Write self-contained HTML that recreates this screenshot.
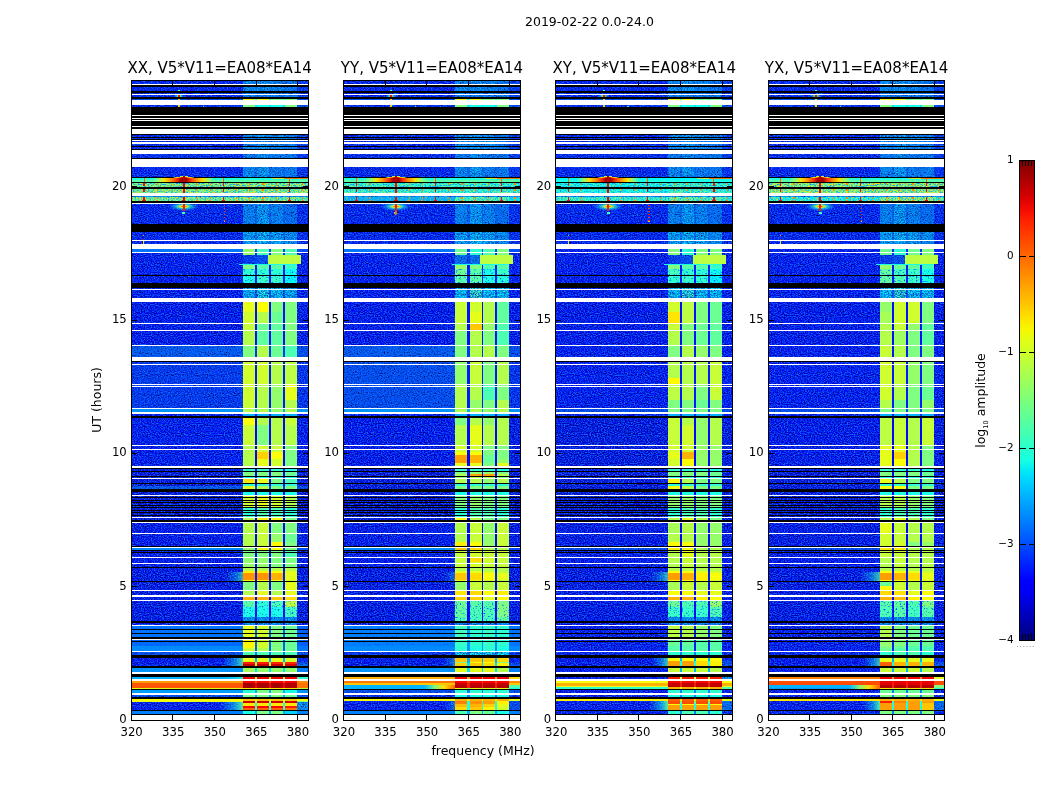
<!DOCTYPE html>
<html><head><meta charset="utf-8"><title>2019-02-22 0.0-24.0</title>
<style>
html,body{margin:0;padding:0;background:#fff;}
body{width:1050px;height:800px;overflow:hidden;}
svg{display:block;}
text{font-family:"DejaVu Sans","Liberation Sans",sans-serif;fill:#000;}
.t12{font-size:12.5px;}
.t14{font-size:15px;}
.t10{font-size:10.4px;}
.tk{font-size:11.7px;}
</style></head><body>
<svg width="1050" height="800" viewBox="0 0 1050 800">
<defs>
<linearGradient id="cb" x1="0" y1="1" x2="0" y2="0">
<stop offset="0.0000" stop-color="#000080"/>
<stop offset="0.0250" stop-color="#00009c"/>
<stop offset="0.0500" stop-color="#0000b9"/>
<stop offset="0.0750" stop-color="#0000d6"/>
<stop offset="0.1000" stop-color="#0000f3"/>
<stop offset="0.1250" stop-color="#0000ff"/>
<stop offset="0.1500" stop-color="#0019ff"/>
<stop offset="0.1750" stop-color="#0033ff"/>
<stop offset="0.2000" stop-color="#004dff"/>
<stop offset="0.2250" stop-color="#0066ff"/>
<stop offset="0.2500" stop-color="#0080ff"/>
<stop offset="0.2750" stop-color="#0099ff"/>
<stop offset="0.3000" stop-color="#00b2ff"/>
<stop offset="0.3250" stop-color="#00ccff"/>
<stop offset="0.3500" stop-color="#00e5f7"/>
<stop offset="0.3750" stop-color="#15ffe2"/>
<stop offset="0.4000" stop-color="#29ffce"/>
<stop offset="0.4250" stop-color="#3effb9"/>
<stop offset="0.4500" stop-color="#52ffa5"/>
<stop offset="0.4750" stop-color="#67ff90"/>
<stop offset="0.5000" stop-color="#7bff7b"/>
<stop offset="0.5250" stop-color="#90ff67"/>
<stop offset="0.5500" stop-color="#a5ff52"/>
<stop offset="0.5750" stop-color="#b9ff3e"/>
<stop offset="0.6000" stop-color="#ceff29"/>
<stop offset="0.6250" stop-color="#e2ff15"/>
<stop offset="0.6500" stop-color="#f7f600"/>
<stop offset="0.6750" stop-color="#ffde00"/>
<stop offset="0.7000" stop-color="#ffc600"/>
<stop offset="0.7250" stop-color="#ffaf00"/>
<stop offset="0.7500" stop-color="#ff9700"/>
<stop offset="0.7750" stop-color="#ff8000"/>
<stop offset="0.8000" stop-color="#ff6800"/>
<stop offset="0.8250" stop-color="#ff5000"/>
<stop offset="0.8500" stop-color="#ff3900"/>
<stop offset="0.8750" stop-color="#ff2100"/>
<stop offset="0.9000" stop-color="#f30900"/>
<stop offset="0.9250" stop-color="#d60000"/>
<stop offset="0.9500" stop-color="#b90000"/>
<stop offset="0.9750" stop-color="#9c0000"/>
<stop offset="1.0000" stop-color="#800000"/>
</linearGradient>

<filter id="nzd" x="0" y="0" width="100%" height="100%" color-interpolation-filters="sRGB">
<feTurbulence type="fractalNoise" baseFrequency="0.7 0.9" numOctaves="1" seed="7"/>
<feColorMatrix type="matrix" values="0 0 0 0 0  0 0 0 0 0  0 0 0 0 0.3  2.8 0 0 0 -1.25"/>
</filter>
<filter id="nzl" x="0" y="0" width="100%" height="100%" color-interpolation-filters="sRGB">
<feTurbulence type="fractalNoise" baseFrequency="0.7 0.9" numOctaves="1" seed="23"/>
<feColorMatrix type="matrix" values="0 0 0 0 0.05  0 0 0 0 0.42  0 0 0 0 1  0 3.0 0 0 -1.2"/>
</filter>
<filter id="nzy" x="0" y="0" width="100%" height="100%" color-interpolation-filters="sRGB">
<feTurbulence type="fractalNoise" baseFrequency="0.6 0.9" numOctaves="1" seed="41"/>
<feColorMatrix type="matrix" values="0 0 0 0 1  0 0 0 0 0.85  0 0 0 0 0  0 0 6 0 -2.9"/>
</filter>
<filter id="nzm" x="0" y="0" width="100%" height="100%" color-interpolation-filters="sRGB">
<feTurbulence type="fractalNoise" baseFrequency="0.5 0.75" numOctaves="2" seed="11"/>
<feColorMatrix type="matrix" values="0 0 0 0 0  0 0 0 0 0.3  0 0 0 0 1  4 0 0 0 -2.3"/>
</filter>
<linearGradient id="hz" x1="0" y1="0" x2="1" y2="0">
<stop offset="0" stop-color="#19ffe6" stop-opacity="0"/><stop offset="0.6" stop-color="#19ffe6" stop-opacity="0.45"/><stop offset="1" stop-color="#60ff9f" stop-opacity="0.9"/>
</linearGradient>
<filter id="nzc" x="0" y="0" width="100%" height="100%" color-interpolation-filters="sRGB">
<feTurbulence type="fractalNoise" baseFrequency="0.6 0.9" numOctaves="1" seed="5"/>
<feColorMatrix type="matrix" values="0 0 0 0 0  0 0 0 0 0.62  0 0 0 0 1  3.4 0 0 0 -1.5"/>
</filter>
<linearGradient id="ho" x1="0" y1="0" x2="1" y2="0">
<stop offset="0" stop-color="#60ffa0" stop-opacity="0"/><stop offset="0.35" stop-color="#a0ff60" stop-opacity="0.85"/><stop offset="0.65" stop-color="#ffe000"/><stop offset="1" stop-color="#ff6000"/>
</linearGradient>
<linearGradient id="hs" x1="0" y1="0" x2="1" y2="0">
<stop offset="0" stop-color="#80ff80" stop-opacity="0"/><stop offset="0.1" stop-color="#b0ff50" stop-opacity="0.7"/><stop offset="0.2" stop-color="#ffe000"/><stop offset="0.3" stop-color="#ff9000"/><stop offset="0.39" stop-color="#ff3000"/><stop offset="0.46" stop-color="#9c0000"/><stop offset="0.54" stop-color="#9c0000"/><stop offset="0.61" stop-color="#ff3000"/><stop offset="0.7" stop-color="#ff9000"/><stop offset="0.8" stop-color="#ffe000"/><stop offset="0.9" stop-color="#b0ff50" stop-opacity="0.7"/><stop offset="1" stop-color="#80ff80" stop-opacity="0"/>
</linearGradient>
<radialGradient id="hr" cx="0.5" cy="0.5" r="0.5">
<stop offset="0" stop-color="#e00000"/><stop offset="0.12" stop-color="#ff8000"/><stop offset="0.25" stop-color="#d0ff30" stop-opacity="0.95"/><stop offset="0.5" stop-color="#20f0e0" stop-opacity="0.7"/><stop offset="1" stop-color="#20a0ff" stop-opacity="0"/>
</radialGradient>

</defs>
<rect width="1050" height="800" fill="#fff"/>
<g shape-rendering="crispEdges">
<rect x="131.25" y="80" width="176.9" height="11" fill="#000fff"/>
<rect x="297.1" y="80" width="11.05" height="11" fill="#002eff"/>
<rect x="243.1" y="80" width="12" height="11" fill="#00b2ff"/>
<rect x="255.1" y="80" width="2.15" height="11" fill="#0094ff"/>
<rect x="257.25" y="80" width="12" height="11" fill="#00b2ff"/>
<rect x="269.25" y="80" width="1.85" height="11" fill="#0094ff"/>
<rect x="271.1" y="80" width="11.9" height="11" fill="#009eff"/>
<rect x="283" y="80" width="2.1" height="11" fill="#0094ff"/>
<rect x="285.1" y="80" width="12" height="11" fill="#008aff"/>
<rect x="131.25" y="91" width="176.9" height="8" fill="#000fff"/>
<rect x="297.1" y="91" width="11.05" height="8" fill="#002eff"/>
<rect x="243.1" y="91" width="12" height="8" fill="#0094ff"/>
<rect x="255.1" y="91" width="2.15" height="8" fill="#0080ff"/>
<rect x="257.25" y="91" width="12" height="8" fill="#0094ff"/>
<rect x="269.25" y="91" width="1.85" height="8" fill="#0080ff"/>
<rect x="271.1" y="91" width="11.9" height="8" fill="#0094ff"/>
<rect x="283" y="91" width="2.1" height="8" fill="#0080ff"/>
<rect x="285.1" y="91" width="12" height="8" fill="#0094ff"/>
<rect x="131.25" y="99" width="176.9" height="1" fill="#004dff"/>
<rect x="297.1" y="99" width="11.05" height="1" fill="#004dff"/>
<rect x="131.25" y="100" width="176.9" height="7" fill="#001aff"/>
<rect x="297.1" y="100" width="11.05" height="7" fill="#004dff"/>
<rect x="131.25" y="107" width="176.9" height="28" fill="#0005ff"/>
<rect x="297.1" y="107" width="11.05" height="28" fill="#0005ff"/>
<rect x="243.1" y="107" width="12" height="28" fill="#0019ff"/>
<rect x="255.1" y="107" width="2.15" height="28" fill="#0019ff"/>
<rect x="257.25" y="107" width="12" height="28" fill="#0019ff"/>
<rect x="269.25" y="107" width="1.85" height="28" fill="#0019ff"/>
<rect x="271.1" y="107" width="11.9" height="28" fill="#0019ff"/>
<rect x="283" y="107" width="2.1" height="28" fill="#0019ff"/>
<rect x="285.1" y="107" width="12" height="28" fill="#0019ff"/>
<rect x="131.25" y="135" width="176.9" height="14" fill="#000fff"/>
<rect x="297.1" y="135" width="11.05" height="14" fill="#002eff"/>
<rect x="243.1" y="135" width="12" height="14" fill="#00a8ff"/>
<rect x="255.1" y="135" width="2.15" height="14" fill="#0094ff"/>
<rect x="257.25" y="135" width="12" height="14" fill="#00bdff"/>
<rect x="269.25" y="135" width="1.85" height="14" fill="#0094ff"/>
<rect x="271.1" y="135" width="11.9" height="14" fill="#00a8ff"/>
<rect x="283" y="135" width="2.1" height="14" fill="#0094ff"/>
<rect x="285.1" y="135" width="12" height="14" fill="#0094ff"/>
<rect x="131.25" y="149" width="176.9" height="1" fill="#004dff"/>
<rect x="297.1" y="149" width="11.05" height="1" fill="#004dff"/>
<rect x="131.25" y="150" width="176.9" height="8" fill="#001aff"/>
<rect x="297.1" y="150" width="11.05" height="8" fill="#002eff"/>
<rect x="243.1" y="150" width="12" height="8" fill="#0094ff"/>
<rect x="255.1" y="150" width="2.15" height="8" fill="#0094ff"/>
<rect x="257.25" y="150" width="12" height="8" fill="#00b2ff"/>
<rect x="269.25" y="150" width="1.85" height="8" fill="#0094ff"/>
<rect x="271.1" y="150" width="11.9" height="8" fill="#0094ff"/>
<rect x="283" y="150" width="2.1" height="8" fill="#0094ff"/>
<rect x="285.1" y="150" width="12" height="8" fill="#0094ff"/>
<rect x="131.25" y="158" width="176.9" height="1.2" fill="#004dff"/>
<rect x="297.1" y="158" width="11.05" height="1.2" fill="#004dff"/>
<rect x="131.25" y="159.2" width="176.9" height="17.8" fill="#000fff"/>
<rect x="297.1" y="159.2" width="11.05" height="17.8" fill="#0024ff"/>
<rect x="243.1" y="159.2" width="12" height="17.8" fill="#00a8ff"/>
<rect x="255.1" y="159.2" width="2.15" height="17.8" fill="#0075ff"/>
<rect x="257.25" y="159.2" width="12" height="17.8" fill="#00bdff"/>
<rect x="269.25" y="159.2" width="1.85" height="17.8" fill="#0075ff"/>
<rect x="271.1" y="159.2" width="11.9" height="17.8" fill="#0094ff"/>
<rect x="283" y="159.2" width="2.1" height="17.8" fill="#0075ff"/>
<rect x="285.1" y="159.2" width="12" height="17.8" fill="#0094ff"/>
<rect x="131.25" y="192.5" width="176.9" height="4.8" fill="#00b2ff"/>
<rect x="297.1" y="192.5" width="11.05" height="4.8" fill="#00b2ff"/>
<rect x="243.1" y="192.5" width="12" height="4.8" fill="#00b2ff"/>
<rect x="255.1" y="192.5" width="2.15" height="4.8" fill="#00b2ff"/>
<rect x="257.25" y="192.5" width="12" height="4.8" fill="#00b2ff"/>
<rect x="269.25" y="192.5" width="1.85" height="4.8" fill="#00b2ff"/>
<rect x="271.1" y="192.5" width="11.9" height="4.8" fill="#00b2ff"/>
<rect x="283" y="192.5" width="2.1" height="4.8" fill="#00b2ff"/>
<rect x="285.1" y="192.5" width="12" height="4.8" fill="#00b2ff"/>
<rect x="131.25" y="202" width="176.9" height="2.2" fill="#004dff"/>
<rect x="297.1" y="202" width="11.05" height="2.2" fill="#004dff"/>
<rect x="243.1" y="202" width="12" height="2.2" fill="#004dff"/>
<rect x="255.1" y="202" width="2.15" height="2.2" fill="#004dff"/>
<rect x="257.25" y="202" width="12" height="2.2" fill="#004dff"/>
<rect x="269.25" y="202" width="1.85" height="2.2" fill="#004dff"/>
<rect x="271.1" y="202" width="11.9" height="2.2" fill="#004dff"/>
<rect x="283" y="202" width="2.1" height="2.2" fill="#004dff"/>
<rect x="285.1" y="202" width="12" height="2.2" fill="#004dff"/>
<rect x="131.25" y="204.2" width="176.9" height="27.8" fill="#000fff"/>
<rect x="297.1" y="204.2" width="11.05" height="27.8" fill="#001aff"/>
<rect x="243.1" y="204.2" width="12" height="27.8" fill="#009eff"/>
<rect x="255.1" y="204.2" width="2.15" height="27.8" fill="#006bff"/>
<rect x="257.25" y="204.2" width="12" height="27.8" fill="#00bdff"/>
<rect x="269.25" y="204.2" width="1.85" height="27.8" fill="#006bff"/>
<rect x="271.1" y="204.2" width="11.9" height="27.8" fill="#009eff"/>
<rect x="283" y="204.2" width="2.1" height="27.8" fill="#006bff"/>
<rect x="285.1" y="204.2" width="12" height="27.8" fill="#0080ff"/>
<rect x="131.25" y="232" width="176.9" height="11.5" fill="#000fff"/>
<rect x="297.1" y="232" width="11.05" height="11.5" fill="#001aff"/>
<rect x="243.1" y="232" width="12" height="11.5" fill="#00c7ff"/>
<rect x="255.1" y="232" width="2.15" height="11.5" fill="#0080ff"/>
<rect x="257.25" y="232" width="12" height="11.5" fill="#00dbff"/>
<rect x="269.25" y="232" width="1.85" height="11.5" fill="#0080ff"/>
<rect x="271.1" y="232" width="11.9" height="11.5" fill="#00c7ff"/>
<rect x="283" y="232" width="2.1" height="11.5" fill="#0080ff"/>
<rect x="285.1" y="232" width="12" height="11.5" fill="#00b2ff"/>
<rect x="131.25" y="243.5" width="176.9" height="5.5" fill="#0005ff"/>
<rect x="297.1" y="243.5" width="11.05" height="5.5" fill="#0005ff"/>
<rect x="131.25" y="252.5" width="176.9" height="2.5" fill="#0005ff"/>
<rect x="297.1" y="252.5" width="11.05" height="2.5" fill="#0005ff"/>
<rect x="131.25" y="255" width="176.9" height="9" fill="#0005ff"/>
<rect x="297.1" y="255" width="11.05" height="9" fill="#0005ff"/>
<rect x="243.1" y="255" width="12" height="9" fill="#002eff"/>
<rect x="255.1" y="255" width="2.15" height="9" fill="#0038ff"/>
<rect x="257.25" y="255" width="12" height="9" fill="#004dff"/>
<rect x="269.25" y="255" width="1.85" height="9" fill="#0038ff"/>
<rect x="271.1" y="255" width="11.9" height="9" fill="#004dff"/>
<rect x="283" y="255" width="2.1" height="9" fill="#0038ff"/>
<rect x="285.1" y="255" width="12" height="9" fill="#004dff"/>
<rect x="131.25" y="264" width="176.9" height="1" fill="#0005ff"/>
<rect x="297.1" y="264" width="11.05" height="1" fill="#0005ff"/>
<rect x="243.1" y="264" width="12" height="1" fill="#1affe5"/>
<rect x="255.1" y="264" width="2.15" height="1" fill="#1affe5"/>
<rect x="257.25" y="264" width="12" height="1" fill="#1affe5"/>
<rect x="269.25" y="264" width="1.85" height="1" fill="#1affe5"/>
<rect x="271.1" y="264" width="11.9" height="1" fill="#1affe5"/>
<rect x="283" y="264" width="2.1" height="1" fill="#1affe5"/>
<rect x="285.1" y="264" width="12" height="1" fill="#1affe5"/>
<rect x="131.25" y="265" width="176.9" height="4" fill="#0005ff"/>
<rect x="297.1" y="265" width="11.05" height="4" fill="#0005ff"/>
<rect x="131.25" y="269" width="176.9" height="6.5" fill="#0005ff"/>
<rect x="297.1" y="269" width="11.05" height="6.5" fill="#0005ff"/>
<rect x="131.25" y="275.5" width="176.9" height="12.5" fill="#0005ff"/>
<rect x="297.1" y="275.5" width="11.05" height="12.5" fill="#0005ff"/>
<rect x="131.25" y="288" width="176.9" height="12" fill="#0005ff"/>
<rect x="297.1" y="288" width="11.05" height="12" fill="#0005ff"/>
<rect x="243.1" y="288" width="12" height="12" fill="#00dbff"/>
<rect x="255.1" y="288" width="2.15" height="12" fill="#004dff"/>
<rect x="257.25" y="288" width="12" height="12" fill="#1affe5"/>
<rect x="269.25" y="288" width="1.85" height="12" fill="#004dff"/>
<rect x="271.1" y="288" width="11.9" height="12" fill="#00f0ff"/>
<rect x="283" y="288" width="2.1" height="12" fill="#004dff"/>
<rect x="285.1" y="288" width="12" height="12" fill="#00d1ff"/>
<rect x="131.25" y="300" width="176.9" height="12" fill="#0000fa"/>
<rect x="297.1" y="300" width="11.05" height="12" fill="#0000fa"/>
<rect x="131.25" y="312" width="176.9" height="11.5" fill="#0000fa"/>
<rect x="297.1" y="312" width="11.05" height="11.5" fill="#0000fa"/>
<rect x="131.25" y="323.5" width="176.9" height="7" fill="#0000fa"/>
<rect x="297.1" y="323.5" width="11.05" height="7" fill="#0000fa"/>
<rect x="131.25" y="330.5" width="176.9" height="15" fill="#0000fa"/>
<rect x="297.1" y="330.5" width="11.05" height="15" fill="#0000fa"/>
<rect x="131.25" y="345.5" width="176.9" height="13.5" fill="#0061ff"/>
<rect x="297.1" y="345.5" width="11.05" height="13.5" fill="#004dff"/>
<rect x="131.25" y="359" width="176.9" height="5.5" fill="#002eff"/>
<rect x="297.1" y="359" width="11.05" height="5.5" fill="#0024ff"/>
<rect x="131.25" y="364.5" width="176.9" height="20.5" fill="#002eff"/>
<rect x="297.1" y="364.5" width="11.05" height="20.5" fill="#0024ff"/>
<rect x="131.25" y="385" width="176.9" height="15" fill="#002eff"/>
<rect x="297.1" y="385" width="11.05" height="15" fill="#0024ff"/>
<rect x="131.25" y="400" width="176.9" height="8.5" fill="#002eff"/>
<rect x="297.1" y="400" width="11.05" height="8.5" fill="#0024ff"/>
<rect x="131.25" y="413" width="176.9" height="4.5" fill="#0005ff"/>
<rect x="297.1" y="413" width="11.05" height="4.5" fill="#0005ff"/>
<rect x="131.25" y="417.5" width="176.9" height="7.5" fill="#0005ff"/>
<rect x="297.1" y="417.5" width="11.05" height="7.5" fill="#0000fa"/>
<rect x="131.25" y="425" width="176.9" height="20.5" fill="#0005ff"/>
<rect x="297.1" y="425" width="11.05" height="20.5" fill="#0000fa"/>
<rect x="131.25" y="445.5" width="176.9" height="6.5" fill="#0005ff"/>
<rect x="297.1" y="445.5" width="11.05" height="6.5" fill="#0000fa"/>
<rect x="131.25" y="452" width="176.9" height="7" fill="#0005ff"/>
<rect x="297.1" y="452" width="11.05" height="7" fill="#0000fa"/>
<rect x="131.25" y="459" width="176.9" height="8" fill="#0005ff"/>
<rect x="297.1" y="459" width="11.05" height="8" fill="#0000fa"/>
<rect x="131.25" y="467" width="176.9" height="4.5" fill="#0000e5"/>
<rect x="297.1" y="467" width="11.05" height="4.5" fill="#0000e5"/>
<rect x="131.25" y="471.5" width="176.9" height="4.5" fill="#0000e5"/>
<rect x="297.1" y="471.5" width="11.05" height="4.5" fill="#0000e5"/>
<rect x="131.25" y="476" width="176.9" height="2.5" fill="#0000e5"/>
<rect x="297.1" y="476" width="11.05" height="2.5" fill="#0000e5"/>
<rect x="131.25" y="478.5" width="176.9" height="5" fill="#0000e5"/>
<rect x="297.1" y="478.5" width="11.05" height="5" fill="#0000e5"/>
<rect x="131.25" y="483.5" width="176.9" height="2.5" fill="#0000e5"/>
<rect x="297.1" y="483.5" width="11.05" height="2.5" fill="#0000e5"/>
<rect x="131.25" y="486" width="176.9" height="2.5" fill="#0061ff"/>
<rect x="297.1" y="486" width="11.05" height="2.5" fill="#004dff"/>
<rect x="131.25" y="488.5" width="176.9" height="7.5" fill="#0000e5"/>
<rect x="297.1" y="488.5" width="11.05" height="7.5" fill="#0000e5"/>
<rect x="131.25" y="496" width="176.9" height="11" fill="#0000db"/>
<rect x="297.1" y="496" width="11.05" height="11" fill="#0000db"/>
<rect x="131.25" y="507" width="176.9" height="10.5" fill="#0000db"/>
<rect x="297.1" y="507" width="11.05" height="10.5" fill="#0000db"/>
<rect x="131.25" y="517.5" width="176.9" height="5" fill="#0000e5"/>
<rect x="297.1" y="517.5" width="11.05" height="5" fill="#0000e5"/>
<rect x="131.25" y="522.5" width="176.9" height="11" fill="#0000fa"/>
<rect x="297.1" y="522.5" width="11.05" height="11" fill="#0000f0"/>
<rect x="131.25" y="533.5" width="176.9" height="8.1" fill="#0000fa"/>
<rect x="297.1" y="533.5" width="11.05" height="8.1" fill="#0000f0"/>
<rect x="131.25" y="541.6" width="176.9" height="5.4" fill="#0000fa"/>
<rect x="297.1" y="541.6" width="11.05" height="5.4" fill="#0000f0"/>
<rect x="131.25" y="550.5" width="176.9" height="6.5" fill="#0000fa"/>
<rect x="297.1" y="550.5" width="11.05" height="6.5" fill="#0000f0"/>
<rect x="131.25" y="557" width="176.9" height="11" fill="#0000fa"/>
<rect x="297.1" y="557" width="11.05" height="11" fill="#0000f0"/>
<rect x="131.25" y="568" width="176.9" height="3" fill="#0000f0"/>
<rect x="297.1" y="568" width="11.05" height="3" fill="#0000f0"/>
<rect x="131.25" y="571" width="176.9" height="2" fill="#0000f0"/>
<rect x="297.1" y="571" width="11.05" height="2" fill="#0000f0"/>
<rect x="131.25" y="573" width="176.9" height="6.5" fill="#0000f0"/>
<rect x="297.1" y="573" width="11.05" height="6.5" fill="#0000f0"/>
<rect x="131.25" y="579.5" width="176.9" height="1.5" fill="#0000f0"/>
<rect x="297.1" y="579.5" width="11.05" height="1.5" fill="#0000f0"/>
<rect x="131.25" y="581" width="176.9" height="9.5" fill="#0000f0"/>
<rect x="297.1" y="581" width="11.05" height="9.5" fill="#0000f0"/>
<rect x="131.25" y="590.5" width="176.9" height="5" fill="#0000f0"/>
<rect x="297.1" y="590.5" width="11.05" height="5" fill="#0000f0"/>
<rect x="131.25" y="595.5" width="176.9" height="5" fill="#0000f0"/>
<rect x="297.1" y="595.5" width="11.05" height="5" fill="#0000f0"/>
<rect x="131.25" y="600.5" width="176.9" height="6.5" fill="#0000f0"/>
<rect x="297.1" y="600.5" width="11.05" height="6.5" fill="#0000f0"/>
<rect x="131.25" y="607" width="176.9" height="10" fill="#0000f0"/>
<rect x="297.1" y="607" width="11.05" height="10" fill="#0000f0"/>
<rect x="131.25" y="617" width="176.9" height="4" fill="#0000f0"/>
<rect x="297.1" y="617" width="11.05" height="4" fill="#0000f0"/>
<rect x="243.1" y="617" width="12" height="4" fill="#00b2ff"/>
<rect x="255.1" y="617" width="2.15" height="4" fill="#0019ff"/>
<rect x="257.25" y="617" width="12" height="4" fill="#00b2ff"/>
<rect x="269.25" y="617" width="1.85" height="4" fill="#0019ff"/>
<rect x="271.1" y="617" width="11.9" height="4" fill="#00b2ff"/>
<rect x="283" y="617" width="2.1" height="4" fill="#0019ff"/>
<rect x="285.1" y="617" width="12" height="4" fill="#00b2ff"/>
<rect x="131.25" y="621" width="176.9" height="4.5" fill="#0000fa"/>
<rect x="297.1" y="621" width="11.05" height="4.5" fill="#0000fa"/>
<rect x="243.1" y="621" width="12" height="4.5" fill="#00b2ff"/>
<rect x="255.1" y="621" width="2.15" height="4.5" fill="#000fff"/>
<rect x="257.25" y="621" width="12" height="4.5" fill="#00b2ff"/>
<rect x="269.25" y="621" width="1.85" height="4.5" fill="#000fff"/>
<rect x="271.1" y="621" width="11.9" height="4.5" fill="#00b2ff"/>
<rect x="283" y="621" width="2.1" height="4.5" fill="#000fff"/>
<rect x="285.1" y="621" width="12" height="4.5" fill="#00b2ff"/>
<rect x="131.25" y="652" width="176.9" height="3" fill="#004dff"/>
<rect x="297.1" y="652" width="11.05" height="3" fill="#004dff"/>
<rect x="131.25" y="655" width="176.9" height="3" fill="#0000fa"/>
<rect x="297.1" y="655" width="11.05" height="3" fill="#000fff"/>
<rect x="131.25" y="658" width="176.9" height="4.3" fill="#0000fa"/>
<rect x="297.1" y="658" width="11.05" height="4.3" fill="#000fff"/>
<rect x="131.25" y="662.3" width="176.9" height="1.7" fill="#0000fa"/>
<rect x="297.1" y="662.3" width="11.05" height="1.7" fill="#004dff"/>
<rect x="131.25" y="664" width="176.9" height="2" fill="#0000fa"/>
<rect x="297.1" y="664" width="11.05" height="2" fill="#0080ff"/>
<rect x="131.25" y="692.6" width="176.9" height="6" fill="#004dff"/>
<rect x="297.1" y="692.6" width="11.05" height="6" fill="#004dff"/>
<rect x="131.25" y="701.7" width="176.9" height="1.3" fill="#0005ff"/>
<rect x="297.1" y="701.7" width="11.05" height="1.3" fill="#00b2ff"/>
<rect x="131.25" y="703" width="176.9" height="2.6" fill="#0005ff"/>
<rect x="297.1" y="703" width="11.05" height="2.6" fill="#00b2ff"/>
<rect x="131.25" y="705.6" width="176.9" height="2.4" fill="#0005ff"/>
<rect x="297.1" y="705.6" width="11.05" height="2.4" fill="#00b2ff"/>
<rect x="131.25" y="708" width="176.9" height="1.7" fill="#0005ff"/>
<rect x="297.1" y="708" width="11.05" height="1.7" fill="#00b2ff"/>
<rect x="131.25" y="80" width="176.90" height="640" fill="none" filter="url(#nzd)"/>
<rect x="131.25" y="80" width="176.90" height="640" fill="none" filter="url(#nzl)"/>
<rect x="243.1" y="99" width="12" height="1" fill="#fffa00"/>
<rect x="255.1" y="99" width="2.15" height="1" fill="#1affe5"/>
<rect x="257.25" y="99" width="12" height="1" fill="#faff05"/>
<rect x="269.25" y="99" width="1.85" height="1" fill="#1affe5"/>
<rect x="271.1" y="99" width="11.9" height="1" fill="#80ff80"/>
<rect x="283" y="99" width="2.1" height="1" fill="#1affe5"/>
<rect x="285.1" y="99" width="12" height="1" fill="#80ff80"/>
<rect x="243.1" y="100" width="12" height="7" fill="#80ff80"/>
<rect x="255.1" y="100" width="2.15" height="7" fill="#00e5ff"/>
<rect x="257.25" y="100" width="12" height="7" fill="#1affe5"/>
<rect x="269.25" y="100" width="1.85" height="7" fill="#00e5ff"/>
<rect x="271.1" y="100" width="11.9" height="7" fill="#1affe5"/>
<rect x="283" y="100" width="2.1" height="7" fill="#00e5ff"/>
<rect x="285.1" y="100" width="12" height="7" fill="#80ff80"/>
<rect x="243.1" y="149" width="12" height="1" fill="#e5ff1a"/>
<rect x="255.1" y="149" width="2.15" height="1" fill="#1affe5"/>
<rect x="257.25" y="149" width="12" height="1" fill="#e5ff1a"/>
<rect x="269.25" y="149" width="1.85" height="1" fill="#1affe5"/>
<rect x="271.1" y="149" width="11.9" height="1" fill="#4dffb2"/>
<rect x="283" y="149" width="2.1" height="1" fill="#1affe5"/>
<rect x="285.1" y="149" width="12" height="1" fill="#4dffb2"/>
<rect x="243.1" y="158" width="12" height="1.2" fill="#80ff80"/>
<rect x="255.1" y="158" width="2.15" height="1.2" fill="#1affe5"/>
<rect x="257.25" y="158" width="12" height="1.2" fill="#4dffb2"/>
<rect x="269.25" y="158" width="1.85" height="1.2" fill="#1affe5"/>
<rect x="271.1" y="158" width="11.9" height="1.2" fill="#4dffb2"/>
<rect x="283" y="158" width="2.1" height="1.2" fill="#1affe5"/>
<rect x="285.1" y="158" width="12" height="1.2" fill="#4dffb2"/>
<rect x="131.25" y="177" width="176.9" height="3" fill="#24ffdb"/>
<rect x="297.1" y="177" width="11.05" height="3" fill="#24ffdb"/>
<rect x="243.1" y="177" width="12" height="3" fill="#24ffdb"/>
<rect x="255.1" y="177" width="2.15" height="3" fill="#24ffdb"/>
<rect x="257.25" y="177" width="12" height="3" fill="#24ffdb"/>
<rect x="269.25" y="177" width="1.85" height="3" fill="#24ffdb"/>
<rect x="271.1" y="177" width="11.9" height="3" fill="#24ffdb"/>
<rect x="283" y="177" width="2.1" height="3" fill="#24ffdb"/>
<rect x="285.1" y="177" width="12" height="3" fill="#24ffdb"/>
<rect x="131.25" y="180" width="176.9" height="2" fill="#57ffa8"/>
<rect x="297.1" y="180" width="11.05" height="2" fill="#57ffa8"/>
<rect x="243.1" y="180" width="12" height="2" fill="#57ffa8"/>
<rect x="255.1" y="180" width="2.15" height="2" fill="#57ffa8"/>
<rect x="257.25" y="180" width="12" height="2" fill="#57ffa8"/>
<rect x="269.25" y="180" width="1.85" height="2" fill="#57ffa8"/>
<rect x="271.1" y="180" width="11.9" height="2" fill="#57ffa8"/>
<rect x="283" y="180" width="2.1" height="2" fill="#57ffa8"/>
<rect x="285.1" y="180" width="12" height="2" fill="#57ffa8"/>
<rect x="131.25" y="182" width="176.9" height="10.5" fill="#75ff8a"/>
<rect x="297.1" y="182" width="11.05" height="10.5" fill="#75ff8a"/>
<rect x="243.1" y="182" width="12" height="10.5" fill="#75ff8a"/>
<rect x="255.1" y="182" width="2.15" height="10.5" fill="#75ff8a"/>
<rect x="257.25" y="182" width="12" height="10.5" fill="#75ff8a"/>
<rect x="269.25" y="182" width="1.85" height="10.5" fill="#75ff8a"/>
<rect x="271.1" y="182" width="11.9" height="10.5" fill="#75ff8a"/>
<rect x="283" y="182" width="2.1" height="10.5" fill="#75ff8a"/>
<rect x="285.1" y="182" width="12" height="10.5" fill="#75ff8a"/>
<rect x="131.25" y="197.3" width="176.9" height="4.7" fill="#6bff94"/>
<rect x="297.1" y="197.3" width="11.05" height="4.7" fill="#57ffa8"/>
<rect x="243.1" y="197.3" width="12" height="4.7" fill="#80ff80"/>
<rect x="255.1" y="197.3" width="2.15" height="4.7" fill="#6bff94"/>
<rect x="257.25" y="197.3" width="12" height="4.7" fill="#80ff80"/>
<rect x="269.25" y="197.3" width="1.85" height="4.7" fill="#6bff94"/>
<rect x="271.1" y="197.3" width="11.9" height="4.7" fill="#6bff94"/>
<rect x="283" y="197.3" width="2.1" height="4.7" fill="#6bff94"/>
<rect x="285.1" y="197.3" width="12" height="4.7" fill="#6bff94"/>
<rect x="243.1" y="243.5" width="12" height="5.5" fill="#94ff6b"/>
<rect x="255.1" y="243.5" width="2.15" height="5.5" fill="#002eff"/>
<rect x="257.25" y="243.5" width="12" height="5.5" fill="#4dffb2"/>
<rect x="269.25" y="243.5" width="1.85" height="5.5" fill="#002eff"/>
<rect x="271.1" y="243.5" width="11.9" height="5.5" fill="#80ff80"/>
<rect x="283" y="243.5" width="2.1" height="5.5" fill="#002eff"/>
<rect x="285.1" y="243.5" width="12" height="5.5" fill="#4dffb2"/>
<rect x="131.25" y="249" width="176.9" height="3.5" fill="#0075ff"/>
<rect x="297.1" y="249" width="11.05" height="3.5" fill="#004dff"/>
<rect x="243.1" y="249" width="12" height="3.5" fill="#94ff6b"/>
<rect x="255.1" y="249" width="2.15" height="3.5" fill="#004dff"/>
<rect x="257.25" y="249" width="12" height="3.5" fill="#4dffb2"/>
<rect x="269.25" y="249" width="1.85" height="3.5" fill="#004dff"/>
<rect x="271.1" y="249" width="11.9" height="3.5" fill="#80ff80"/>
<rect x="283" y="249" width="2.1" height="3.5" fill="#004dff"/>
<rect x="285.1" y="249" width="12" height="3.5" fill="#4dffb2"/>
<rect x="243.1" y="252.5" width="12" height="2.5" fill="#94ff6b"/>
<rect x="255.1" y="252.5" width="2.15" height="2.5" fill="#002eff"/>
<rect x="257.25" y="252.5" width="12" height="2.5" fill="#4dffb2"/>
<rect x="269.25" y="252.5" width="1.85" height="2.5" fill="#002eff"/>
<rect x="271.1" y="252.5" width="11.9" height="2.5" fill="#80ff80"/>
<rect x="283" y="252.5" width="2.1" height="2.5" fill="#002eff"/>
<rect x="285.1" y="252.5" width="12" height="2.5" fill="#4dffb2"/>
<rect x="243.1" y="265" width="12" height="4" fill="#80ff80"/>
<rect x="255.1" y="265" width="2.15" height="4" fill="#0019ff"/>
<rect x="257.25" y="265" width="12" height="4" fill="#57ffa8"/>
<rect x="269.25" y="265" width="1.85" height="4" fill="#0019ff"/>
<rect x="271.1" y="265" width="11.9" height="4" fill="#57ffa8"/>
<rect x="283" y="265" width="2.1" height="4" fill="#0019ff"/>
<rect x="285.1" y="265" width="12" height="4" fill="#38ffc7"/>
<rect x="243.1" y="269" width="12" height="6.5" fill="#2effd1"/>
<rect x="255.1" y="269" width="2.15" height="6.5" fill="#0019ff"/>
<rect x="257.25" y="269" width="12" height="6.5" fill="#2effd1"/>
<rect x="269.25" y="269" width="1.85" height="6.5" fill="#0019ff"/>
<rect x="271.1" y="269" width="11.9" height="6.5" fill="#2effd1"/>
<rect x="283" y="269" width="2.1" height="6.5" fill="#0019ff"/>
<rect x="285.1" y="269" width="12" height="6.5" fill="#0ffff0"/>
<rect x="242.1" y="269" width="56" height="6.5" fill="none" filter="url(#nzm)"/>
<rect x="243.1" y="275.5" width="12" height="12.5" fill="#1affe5"/>
<rect x="255.1" y="275.5" width="2.15" height="12.5" fill="#0019ff"/>
<rect x="257.25" y="275.5" width="12" height="12.5" fill="#38ffc7"/>
<rect x="269.25" y="275.5" width="1.85" height="12.5" fill="#0019ff"/>
<rect x="271.1" y="275.5" width="11.9" height="12.5" fill="#38ffc7"/>
<rect x="283" y="275.5" width="2.1" height="12.5" fill="#0019ff"/>
<rect x="285.1" y="275.5" width="12" height="12.5" fill="#00faff"/>
<rect x="242.1" y="275.5" width="56" height="12.5" fill="none" filter="url(#nzm)"/>
<rect x="243.1" y="300" width="12" height="12" fill="#e5ff1a"/>
<rect x="255.1" y="300" width="2.15" height="12" fill="#000fff"/>
<rect x="257.25" y="300" width="12" height="12" fill="#faff05"/>
<rect x="269.25" y="300" width="1.85" height="12" fill="#000fff"/>
<rect x="271.1" y="300" width="11.9" height="12" fill="#80ff80"/>
<rect x="283" y="300" width="2.1" height="12" fill="#000fff"/>
<rect x="285.1" y="300" width="12" height="12" fill="#80ff80"/>
<rect x="243.1" y="312" width="12" height="11.5" fill="#d1ff2e"/>
<rect x="255.1" y="312" width="2.15" height="11.5" fill="#000fff"/>
<rect x="257.25" y="312" width="12" height="11.5" fill="#b3ff4c"/>
<rect x="269.25" y="312" width="1.85" height="11.5" fill="#000fff"/>
<rect x="271.1" y="312" width="11.9" height="11.5" fill="#6bff94"/>
<rect x="283" y="312" width="2.1" height="11.5" fill="#000fff"/>
<rect x="285.1" y="312" width="12" height="11.5" fill="#80ff80"/>
<rect x="243.1" y="323.5" width="12" height="7" fill="#c7ff38"/>
<rect x="255.1" y="323.5" width="2.15" height="7" fill="#000fff"/>
<rect x="257.25" y="323.5" width="12" height="7" fill="#6bff94"/>
<rect x="269.25" y="323.5" width="1.85" height="7" fill="#000fff"/>
<rect x="271.1" y="323.5" width="11.9" height="7" fill="#61ff9e"/>
<rect x="283" y="323.5" width="2.1" height="7" fill="#000fff"/>
<rect x="285.1" y="323.5" width="12" height="7" fill="#80ff80"/>
<rect x="243.1" y="330.5" width="12" height="15" fill="#b3ff4c"/>
<rect x="255.1" y="330.5" width="2.15" height="15" fill="#000fff"/>
<rect x="257.25" y="330.5" width="12" height="15" fill="#61ff9e"/>
<rect x="269.25" y="330.5" width="1.85" height="15" fill="#000fff"/>
<rect x="271.1" y="330.5" width="11.9" height="15" fill="#61ff9e"/>
<rect x="283" y="330.5" width="2.1" height="15" fill="#000fff"/>
<rect x="285.1" y="330.5" width="12" height="15" fill="#80ff80"/>
<rect x="243.1" y="345.5" width="12" height="13.5" fill="#80ff80"/>
<rect x="255.1" y="345.5" width="2.15" height="13.5" fill="#0038ff"/>
<rect x="257.25" y="345.5" width="12" height="13.5" fill="#b3ff4c"/>
<rect x="269.25" y="345.5" width="1.85" height="13.5" fill="#0038ff"/>
<rect x="271.1" y="345.5" width="11.9" height="13.5" fill="#6bff94"/>
<rect x="283" y="345.5" width="2.1" height="13.5" fill="#0038ff"/>
<rect x="285.1" y="345.5" width="12" height="13.5" fill="#4dffb2"/>
<rect x="243.1" y="359" width="12" height="5.5" fill="#d1ff2e"/>
<rect x="255.1" y="359" width="2.15" height="5.5" fill="#0019ff"/>
<rect x="257.25" y="359" width="12" height="5.5" fill="#d1ff2e"/>
<rect x="269.25" y="359" width="1.85" height="5.5" fill="#0019ff"/>
<rect x="271.1" y="359" width="11.9" height="5.5" fill="#b3ff4c"/>
<rect x="283" y="359" width="2.1" height="5.5" fill="#0019ff"/>
<rect x="285.1" y="359" width="12" height="5.5" fill="#bdff42"/>
<rect x="243.1" y="364.5" width="12" height="20.5" fill="#d1ff2e"/>
<rect x="255.1" y="364.5" width="2.15" height="20.5" fill="#0019ff"/>
<rect x="257.25" y="364.5" width="12" height="20.5" fill="#d1ff2e"/>
<rect x="269.25" y="364.5" width="1.85" height="20.5" fill="#0019ff"/>
<rect x="271.1" y="364.5" width="11.9" height="20.5" fill="#b3ff4c"/>
<rect x="283" y="364.5" width="2.1" height="20.5" fill="#0019ff"/>
<rect x="285.1" y="364.5" width="12" height="20.5" fill="#bdff42"/>
<rect x="243.1" y="385" width="12" height="15" fill="#d1ff2e"/>
<rect x="255.1" y="385" width="2.15" height="15" fill="#0019ff"/>
<rect x="257.25" y="385" width="12" height="15" fill="#b3ff4c"/>
<rect x="269.25" y="385" width="1.85" height="15" fill="#0019ff"/>
<rect x="271.1" y="385" width="11.9" height="15" fill="#94ff6b"/>
<rect x="283" y="385" width="2.1" height="15" fill="#0019ff"/>
<rect x="285.1" y="385" width="12" height="15" fill="#e5ff1a"/>
<rect x="243.1" y="400" width="12" height="8.5" fill="#c7ff38"/>
<rect x="255.1" y="400" width="2.15" height="8.5" fill="#0019ff"/>
<rect x="257.25" y="400" width="12" height="8.5" fill="#b3ff4c"/>
<rect x="269.25" y="400" width="1.85" height="8.5" fill="#0019ff"/>
<rect x="271.1" y="400" width="11.9" height="8.5" fill="#94ff6b"/>
<rect x="283" y="400" width="2.1" height="8.5" fill="#0019ff"/>
<rect x="285.1" y="400" width="12" height="8.5" fill="#b3ff4c"/>
<rect x="131.25" y="408.5" width="176.9" height="4.5" fill="#0094ff"/>
<rect x="297.1" y="408.5" width="11.05" height="4.5" fill="#0094ff"/>
<rect x="243.1" y="408.5" width="12" height="4.5" fill="#b3ff4c"/>
<rect x="255.1" y="408.5" width="2.15" height="4.5" fill="#00b2ff"/>
<rect x="257.25" y="408.5" width="12" height="4.5" fill="#b3ff4c"/>
<rect x="269.25" y="408.5" width="1.85" height="4.5" fill="#00b2ff"/>
<rect x="271.1" y="408.5" width="11.9" height="4.5" fill="#94ff6b"/>
<rect x="283" y="408.5" width="2.1" height="4.5" fill="#00b2ff"/>
<rect x="285.1" y="408.5" width="12" height="4.5" fill="#b3ff4c"/>
<rect x="243.1" y="413" width="12" height="4.5" fill="#00b2ff"/>
<rect x="255.1" y="413" width="2.15" height="4.5" fill="#0019ff"/>
<rect x="257.25" y="413" width="12" height="4.5" fill="#00b2ff"/>
<rect x="269.25" y="413" width="1.85" height="4.5" fill="#0019ff"/>
<rect x="271.1" y="413" width="11.9" height="4.5" fill="#00b2ff"/>
<rect x="283" y="413" width="2.1" height="4.5" fill="#0019ff"/>
<rect x="285.1" y="413" width="12" height="4.5" fill="#00b2ff"/>
<rect x="243.1" y="417.5" width="12" height="7.5" fill="#faff05"/>
<rect x="255.1" y="417.5" width="2.15" height="7.5" fill="#0005ff"/>
<rect x="257.25" y="417.5" width="12" height="7.5" fill="#b3ff4c"/>
<rect x="269.25" y="417.5" width="1.85" height="7.5" fill="#0005ff"/>
<rect x="271.1" y="417.5" width="11.9" height="7.5" fill="#b3ff4c"/>
<rect x="283" y="417.5" width="2.1" height="7.5" fill="#0005ff"/>
<rect x="285.1" y="417.5" width="12" height="7.5" fill="#c7ff38"/>
<rect x="243.1" y="425" width="12" height="20.5" fill="#c7ff38"/>
<rect x="255.1" y="425" width="2.15" height="20.5" fill="#0005ff"/>
<rect x="257.25" y="425" width="12" height="20.5" fill="#80ff80"/>
<rect x="269.25" y="425" width="1.85" height="20.5" fill="#0005ff"/>
<rect x="271.1" y="425" width="11.9" height="20.5" fill="#b3ff4c"/>
<rect x="283" y="425" width="2.1" height="20.5" fill="#0005ff"/>
<rect x="285.1" y="425" width="12" height="20.5" fill="#b3ff4c"/>
<rect x="243.1" y="445.5" width="12" height="6.5" fill="#b3ff4c"/>
<rect x="255.1" y="445.5" width="2.15" height="6.5" fill="#0005ff"/>
<rect x="257.25" y="445.5" width="12" height="6.5" fill="#d1ff2e"/>
<rect x="269.25" y="445.5" width="1.85" height="6.5" fill="#0005ff"/>
<rect x="271.1" y="445.5" width="11.9" height="6.5" fill="#c7ff38"/>
<rect x="283" y="445.5" width="2.1" height="6.5" fill="#0005ff"/>
<rect x="285.1" y="445.5" width="12" height="6.5" fill="#80ff80"/>
<rect x="243.1" y="452" width="12" height="7" fill="#b3ff4c"/>
<rect x="255.1" y="452" width="2.15" height="7" fill="#0005ff"/>
<rect x="257.25" y="452" width="12" height="7" fill="#ffd100"/>
<rect x="269.25" y="452" width="1.85" height="7" fill="#0005ff"/>
<rect x="271.1" y="452" width="11.9" height="7" fill="#faff05"/>
<rect x="283" y="452" width="2.1" height="7" fill="#0005ff"/>
<rect x="285.1" y="452" width="12" height="7" fill="#80ff80"/>
<rect x="243.1" y="459" width="12" height="8" fill="#b3ff4c"/>
<rect x="255.1" y="459" width="2.15" height="8" fill="#0005ff"/>
<rect x="257.25" y="459" width="12" height="8" fill="#e5ff1a"/>
<rect x="269.25" y="459" width="1.85" height="8" fill="#0005ff"/>
<rect x="271.1" y="459" width="11.9" height="8" fill="#d1ff2e"/>
<rect x="283" y="459" width="2.1" height="8" fill="#0005ff"/>
<rect x="285.1" y="459" width="12" height="8" fill="#80ff80"/>
<rect x="243.1" y="467" width="12" height="4.5" fill="#2effd1"/>
<rect x="255.1" y="467" width="2.15" height="4.5" fill="#0005ff"/>
<rect x="257.25" y="467" width="12" height="4.5" fill="#2effd1"/>
<rect x="269.25" y="467" width="1.85" height="4.5" fill="#0005ff"/>
<rect x="271.1" y="467" width="11.9" height="4.5" fill="#2effd1"/>
<rect x="283" y="467" width="2.1" height="4.5" fill="#0005ff"/>
<rect x="285.1" y="467" width="12" height="4.5" fill="#1affe5"/>
<rect x="243.1" y="471.5" width="12" height="4.5" fill="#80ff80"/>
<rect x="255.1" y="471.5" width="2.15" height="4.5" fill="#0005ff"/>
<rect x="257.25" y="471.5" width="12" height="4.5" fill="#80ff80"/>
<rect x="269.25" y="471.5" width="1.85" height="4.5" fill="#0005ff"/>
<rect x="271.1" y="471.5" width="11.9" height="4.5" fill="#80ff80"/>
<rect x="283" y="471.5" width="2.1" height="4.5" fill="#0005ff"/>
<rect x="285.1" y="471.5" width="12" height="4.5" fill="#6bff94"/>
<rect x="243.1" y="476" width="12" height="2.5" fill="#1affe5"/>
<rect x="255.1" y="476" width="2.15" height="2.5" fill="#0005ff"/>
<rect x="257.25" y="476" width="12" height="2.5" fill="#1affe5"/>
<rect x="269.25" y="476" width="1.85" height="2.5" fill="#0005ff"/>
<rect x="271.1" y="476" width="11.9" height="2.5" fill="#1affe5"/>
<rect x="283" y="476" width="2.1" height="2.5" fill="#0005ff"/>
<rect x="285.1" y="476" width="12" height="2.5" fill="#1affe5"/>
<rect x="243.1" y="478.5" width="12" height="5" fill="#ffe500"/>
<rect x="255.1" y="478.5" width="2.15" height="5" fill="#0005ff"/>
<rect x="257.25" y="478.5" width="12" height="5" fill="#e5ff1a"/>
<rect x="269.25" y="478.5" width="1.85" height="5" fill="#0005ff"/>
<rect x="271.1" y="478.5" width="11.9" height="5" fill="#80ff80"/>
<rect x="283" y="478.5" width="2.1" height="5" fill="#0005ff"/>
<rect x="285.1" y="478.5" width="12" height="5" fill="#4dffb2"/>
<rect x="243.1" y="483.5" width="12" height="2.5" fill="#2effd1"/>
<rect x="255.1" y="483.5" width="2.15" height="2.5" fill="#0005ff"/>
<rect x="257.25" y="483.5" width="12" height="2.5" fill="#2effd1"/>
<rect x="269.25" y="483.5" width="1.85" height="2.5" fill="#0005ff"/>
<rect x="271.1" y="483.5" width="11.9" height="2.5" fill="#2effd1"/>
<rect x="283" y="483.5" width="2.1" height="2.5" fill="#0005ff"/>
<rect x="285.1" y="483.5" width="12" height="2.5" fill="#2effd1"/>
<rect x="243.1" y="486" width="12" height="2.5" fill="#e5ff1a"/>
<rect x="255.1" y="486" width="2.15" height="2.5" fill="#004dff"/>
<rect x="257.25" y="486" width="12" height="2.5" fill="#b3ff4c"/>
<rect x="269.25" y="486" width="1.85" height="2.5" fill="#004dff"/>
<rect x="271.1" y="486" width="11.9" height="2.5" fill="#80ff80"/>
<rect x="283" y="486" width="2.1" height="2.5" fill="#004dff"/>
<rect x="285.1" y="486" width="12" height="2.5" fill="#80ff80"/>
<rect x="243.1" y="488.5" width="12" height="7.5" fill="#1affe5"/>
<rect x="255.1" y="488.5" width="2.15" height="7.5" fill="#0005ff"/>
<rect x="257.25" y="488.5" width="12" height="7.5" fill="#1affe5"/>
<rect x="269.25" y="488.5" width="1.85" height="7.5" fill="#0005ff"/>
<rect x="271.1" y="488.5" width="11.9" height="7.5" fill="#1affe5"/>
<rect x="283" y="488.5" width="2.1" height="7.5" fill="#0005ff"/>
<rect x="285.1" y="488.5" width="12" height="7.5" fill="#1affe5"/>
<rect x="243.1" y="496" width="12" height="11" fill="#d1ff2e"/>
<rect x="255.1" y="496" width="2.15" height="11" fill="#0005ff"/>
<rect x="257.25" y="496" width="12" height="11" fill="#e5ff1a"/>
<rect x="269.25" y="496" width="1.85" height="11" fill="#0005ff"/>
<rect x="271.1" y="496" width="11.9" height="11" fill="#d1ff2e"/>
<rect x="283" y="496" width="2.1" height="11" fill="#0005ff"/>
<rect x="285.1" y="496" width="12" height="11" fill="#b3ff4c"/>
<rect x="243.1" y="507" width="12" height="10.5" fill="#2effd1"/>
<rect x="255.1" y="507" width="2.15" height="10.5" fill="#0005ff"/>
<rect x="257.25" y="507" width="12" height="10.5" fill="#4dffb2"/>
<rect x="269.25" y="507" width="1.85" height="10.5" fill="#0005ff"/>
<rect x="271.1" y="507" width="11.9" height="10.5" fill="#4dffb2"/>
<rect x="283" y="507" width="2.1" height="10.5" fill="#0005ff"/>
<rect x="285.1" y="507" width="12" height="10.5" fill="#2effd1"/>
<rect x="243.1" y="517.5" width="12" height="5" fill="#b3ff4c"/>
<rect x="255.1" y="517.5" width="2.15" height="5" fill="#0005ff"/>
<rect x="257.25" y="517.5" width="12" height="5" fill="#fff000"/>
<rect x="269.25" y="517.5" width="1.85" height="5" fill="#0005ff"/>
<rect x="271.1" y="517.5" width="11.9" height="5" fill="#faff05"/>
<rect x="283" y="517.5" width="2.1" height="5" fill="#0005ff"/>
<rect x="285.1" y="517.5" width="12" height="5" fill="#80ff80"/>
<rect x="243.1" y="522.5" width="12" height="11" fill="#b3ff4c"/>
<rect x="255.1" y="522.5" width="2.15" height="11" fill="#0005ff"/>
<rect x="257.25" y="522.5" width="12" height="11" fill="#c7ff38"/>
<rect x="269.25" y="522.5" width="1.85" height="11" fill="#0005ff"/>
<rect x="271.1" y="522.5" width="11.9" height="11" fill="#80ff80"/>
<rect x="283" y="522.5" width="2.1" height="11" fill="#0005ff"/>
<rect x="285.1" y="522.5" width="12" height="11" fill="#80ff80"/>
<rect x="243.1" y="533.5" width="12" height="8.1" fill="#b3ff4c"/>
<rect x="255.1" y="533.5" width="2.15" height="8.1" fill="#0005ff"/>
<rect x="257.25" y="533.5" width="12" height="8.1" fill="#c7ff38"/>
<rect x="269.25" y="533.5" width="1.85" height="8.1" fill="#0005ff"/>
<rect x="271.1" y="533.5" width="11.9" height="8.1" fill="#94ff6b"/>
<rect x="283" y="533.5" width="2.1" height="8.1" fill="#0005ff"/>
<rect x="285.1" y="533.5" width="12" height="8.1" fill="#6bff94"/>
<rect x="243.1" y="541.6" width="12" height="5.4" fill="#b3ff4c"/>
<rect x="255.1" y="541.6" width="2.15" height="5.4" fill="#0005ff"/>
<rect x="257.25" y="541.6" width="12" height="5.4" fill="#c7ff38"/>
<rect x="269.25" y="541.6" width="1.85" height="5.4" fill="#0005ff"/>
<rect x="271.1" y="541.6" width="11.9" height="5.4" fill="#fffa00"/>
<rect x="283" y="541.6" width="2.1" height="5.4" fill="#0005ff"/>
<rect x="285.1" y="541.6" width="12" height="5.4" fill="#80ff80"/>
<rect x="131.25" y="547" width="176.9" height="3.5" fill="#008aff"/>
<rect x="297.1" y="547" width="11.05" height="3.5" fill="#004dff"/>
<rect x="243.1" y="547" width="12" height="3.5" fill="#94ff6b"/>
<rect x="255.1" y="547" width="2.15" height="3.5" fill="#004dff"/>
<rect x="257.25" y="547" width="12" height="3.5" fill="#faff05"/>
<rect x="269.25" y="547" width="1.85" height="3.5" fill="#004dff"/>
<rect x="271.1" y="547" width="11.9" height="3.5" fill="#faff05"/>
<rect x="283" y="547" width="2.1" height="3.5" fill="#004dff"/>
<rect x="285.1" y="547" width="12" height="3.5" fill="#80ff80"/>
<rect x="243.1" y="550.5" width="12" height="6.5" fill="#80ff80"/>
<rect x="255.1" y="550.5" width="2.15" height="6.5" fill="#0005ff"/>
<rect x="257.25" y="550.5" width="12" height="6.5" fill="#80ff80"/>
<rect x="269.25" y="550.5" width="1.85" height="6.5" fill="#0005ff"/>
<rect x="271.1" y="550.5" width="11.9" height="6.5" fill="#80ff80"/>
<rect x="283" y="550.5" width="2.1" height="6.5" fill="#0005ff"/>
<rect x="285.1" y="550.5" width="12" height="6.5" fill="#4dffb2"/>
<rect x="243.1" y="557" width="12" height="11" fill="#94ff6b"/>
<rect x="255.1" y="557" width="2.15" height="11" fill="#0005ff"/>
<rect x="257.25" y="557" width="12" height="11" fill="#94ff6b"/>
<rect x="269.25" y="557" width="1.85" height="11" fill="#0005ff"/>
<rect x="271.1" y="557" width="11.9" height="11" fill="#80ff80"/>
<rect x="283" y="557" width="2.1" height="11" fill="#0005ff"/>
<rect x="285.1" y="557" width="12" height="11" fill="#80ff80"/>
<rect x="243.1" y="568" width="12" height="3" fill="#b3ff4c"/>
<rect x="255.1" y="568" width="2.15" height="3" fill="#0005ff"/>
<rect x="257.25" y="568" width="12" height="3" fill="#b3ff4c"/>
<rect x="269.25" y="568" width="1.85" height="3" fill="#0005ff"/>
<rect x="271.1" y="568" width="11.9" height="3" fill="#b3ff4c"/>
<rect x="283" y="568" width="2.1" height="3" fill="#0005ff"/>
<rect x="285.1" y="568" width="12" height="3" fill="#b3ff4c"/>
<rect x="243.1" y="571" width="12" height="2" fill="#fff000"/>
<rect x="255.1" y="571" width="2.15" height="2" fill="#0019ff"/>
<rect x="257.25" y="571" width="12" height="2" fill="#fff000"/>
<rect x="269.25" y="571" width="1.85" height="2" fill="#0019ff"/>
<rect x="271.1" y="571" width="11.9" height="2" fill="#faff05"/>
<rect x="283" y="571" width="2.1" height="2" fill="#0019ff"/>
<rect x="285.1" y="571" width="12" height="2" fill="#e5ff1a"/>
<rect x="243.1" y="573" width="12" height="6.5" fill="#ff9400"/>
<rect x="255.1" y="573" width="2.15" height="6.5" fill="#0019ff"/>
<rect x="257.25" y="573" width="12" height="6.5" fill="#ff9400"/>
<rect x="269.25" y="573" width="1.85" height="6.5" fill="#0019ff"/>
<rect x="271.1" y="573" width="11.9" height="6.5" fill="#ffb300"/>
<rect x="283" y="573" width="2.1" height="6.5" fill="#0019ff"/>
<rect x="285.1" y="573" width="12" height="6.5" fill="#e5ff1a"/>
<rect x="243.1" y="579.5" width="12" height="1.5" fill="#faff05"/>
<rect x="255.1" y="579.5" width="2.15" height="1.5" fill="#0019ff"/>
<rect x="257.25" y="579.5" width="12" height="1.5" fill="#faff05"/>
<rect x="269.25" y="579.5" width="1.85" height="1.5" fill="#0019ff"/>
<rect x="271.1" y="579.5" width="11.9" height="1.5" fill="#e5ff1a"/>
<rect x="283" y="579.5" width="2.1" height="1.5" fill="#0019ff"/>
<rect x="285.1" y="579.5" width="12" height="1.5" fill="#d1ff2e"/>
<rect x="243.1" y="581" width="12" height="9.5" fill="#80ff80"/>
<rect x="255.1" y="581" width="2.15" height="9.5" fill="#0005ff"/>
<rect x="257.25" y="581" width="12" height="9.5" fill="#b3ff4c"/>
<rect x="269.25" y="581" width="1.85" height="9.5" fill="#0005ff"/>
<rect x="271.1" y="581" width="11.9" height="9.5" fill="#80ff80"/>
<rect x="283" y="581" width="2.1" height="9.5" fill="#0005ff"/>
<rect x="285.1" y="581" width="12" height="9.5" fill="#e5ff1a"/>
<rect x="243.1" y="590.5" width="12" height="5" fill="#b3ff4c"/>
<rect x="255.1" y="590.5" width="2.15" height="5" fill="#0005ff"/>
<rect x="257.25" y="590.5" width="12" height="5" fill="#e5ff1a"/>
<rect x="269.25" y="590.5" width="1.85" height="5" fill="#0005ff"/>
<rect x="271.1" y="590.5" width="11.9" height="5" fill="#b3ff4c"/>
<rect x="283" y="590.5" width="2.1" height="5" fill="#0005ff"/>
<rect x="285.1" y="590.5" width="12" height="5" fill="#e5ff1a"/>
<rect x="243.1" y="595.5" width="12" height="5" fill="#ffb300"/>
<rect x="255.1" y="595.5" width="2.15" height="5" fill="#000fff"/>
<rect x="257.25" y="595.5" width="12" height="5" fill="#ffb300"/>
<rect x="269.25" y="595.5" width="1.85" height="5" fill="#000fff"/>
<rect x="271.1" y="595.5" width="11.9" height="5" fill="#ffc700"/>
<rect x="283" y="595.5" width="2.1" height="5" fill="#000fff"/>
<rect x="285.1" y="595.5" width="12" height="5" fill="#ffdb00"/>
<rect x="243.1" y="600.5" width="12" height="6.5" fill="#57ffa8"/>
<rect x="255.1" y="600.5" width="2.15" height="6.5" fill="#0005ff"/>
<rect x="257.25" y="600.5" width="12" height="6.5" fill="#2effd1"/>
<rect x="269.25" y="600.5" width="1.85" height="6.5" fill="#0005ff"/>
<rect x="271.1" y="600.5" width="11.9" height="6.5" fill="#4dffb2"/>
<rect x="283" y="600.5" width="2.1" height="6.5" fill="#0005ff"/>
<rect x="285.1" y="600.5" width="12" height="6.5" fill="#bdff42"/>
<rect x="242.1" y="600.5" width="56" height="6.5" fill="none" filter="url(#nzm)"/>
<rect x="243.1" y="607" width="12" height="10" fill="#1affe5"/>
<rect x="255.1" y="607" width="2.15" height="10" fill="#0005ff"/>
<rect x="257.25" y="607" width="12" height="10" fill="#1affe5"/>
<rect x="269.25" y="607" width="1.85" height="10" fill="#0005ff"/>
<rect x="271.1" y="607" width="11.9" height="10" fill="#1affe5"/>
<rect x="283" y="607" width="2.1" height="10" fill="#0005ff"/>
<rect x="285.1" y="607" width="12" height="10" fill="#42ffbd"/>
<rect x="242.1" y="607" width="56" height="10" fill="none" filter="url(#nzm)"/>
<rect x="131.25" y="625.5" width="176.9" height="14.5" fill="#0075ff"/>
<rect x="297.1" y="625.5" width="11.05" height="14.5" fill="#0061ff"/>
<rect x="243.1" y="625.5" width="12" height="14.5" fill="#e5ff1a"/>
<rect x="255.1" y="625.5" width="2.15" height="14.5" fill="#0061ff"/>
<rect x="257.25" y="625.5" width="12" height="14.5" fill="#d1ff2e"/>
<rect x="269.25" y="625.5" width="1.85" height="14.5" fill="#0061ff"/>
<rect x="271.1" y="625.5" width="11.9" height="14.5" fill="#80ff80"/>
<rect x="283" y="625.5" width="2.1" height="14.5" fill="#0061ff"/>
<rect x="285.1" y="625.5" width="12" height="14.5" fill="#6bff94"/>
<rect x="131.25" y="625.5" width="111.85" height="14.5" fill="none" filter="url(#nzm)"/>
<rect x="297.1" y="625.5" width="11.05" height="14.5" fill="none" filter="url(#nzm)"/>
<rect x="131.25" y="640" width="176.9" height="6" fill="#006bff"/>
<rect x="297.1" y="640" width="11.05" height="6" fill="#0061ff"/>
<rect x="243.1" y="640" width="12" height="6" fill="#fffa00"/>
<rect x="255.1" y="640" width="2.15" height="6" fill="#0061ff"/>
<rect x="257.25" y="640" width="12" height="6" fill="#d1ff2e"/>
<rect x="269.25" y="640" width="1.85" height="6" fill="#0061ff"/>
<rect x="271.1" y="640" width="11.9" height="6" fill="#80ff80"/>
<rect x="283" y="640" width="2.1" height="6" fill="#0061ff"/>
<rect x="285.1" y="640" width="12" height="6" fill="#6bff94"/>
<rect x="131.25" y="640" width="111.85" height="6" fill="none" filter="url(#nzm)"/>
<rect x="297.1" y="640" width="11.05" height="6" fill="none" filter="url(#nzm)"/>
<rect x="131.25" y="646" width="176.9" height="2" fill="#008aff"/>
<rect x="297.1" y="646" width="11.05" height="2" fill="#0075ff"/>
<rect x="243.1" y="646" width="12" height="2" fill="#fffa00"/>
<rect x="255.1" y="646" width="2.15" height="2" fill="#0061ff"/>
<rect x="257.25" y="646" width="12" height="2" fill="#d1ff2e"/>
<rect x="269.25" y="646" width="1.85" height="2" fill="#0061ff"/>
<rect x="271.1" y="646" width="11.9" height="2" fill="#80ff80"/>
<rect x="283" y="646" width="2.1" height="2" fill="#0061ff"/>
<rect x="285.1" y="646" width="12" height="2" fill="#6bff94"/>
<rect x="131.25" y="648" width="176.9" height="4" fill="#008aff"/>
<rect x="297.1" y="648" width="11.05" height="4" fill="#0075ff"/>
<rect x="243.1" y="648" width="12" height="4" fill="#d1ff2e"/>
<rect x="255.1" y="648" width="2.15" height="4" fill="#0061ff"/>
<rect x="257.25" y="648" width="12" height="4" fill="#b3ff4c"/>
<rect x="269.25" y="648" width="1.85" height="4" fill="#0061ff"/>
<rect x="271.1" y="648" width="11.9" height="4" fill="#80ff80"/>
<rect x="283" y="648" width="2.1" height="4" fill="#0061ff"/>
<rect x="285.1" y="648" width="12" height="4" fill="#6bff94"/>
<rect x="243.1" y="652" width="12" height="3" fill="#4dffb2"/>
<rect x="255.1" y="652" width="2.15" height="3" fill="#0080ff"/>
<rect x="257.25" y="652" width="12" height="3" fill="#4dffb2"/>
<rect x="269.25" y="652" width="1.85" height="3" fill="#0080ff"/>
<rect x="271.1" y="652" width="11.9" height="3" fill="#4dffb2"/>
<rect x="283" y="652" width="2.1" height="3" fill="#0080ff"/>
<rect x="285.1" y="652" width="12" height="3" fill="#4dffb2"/>
<rect x="243.1" y="655" width="12" height="3" fill="#4dffb2"/>
<rect x="255.1" y="655" width="2.15" height="3" fill="#004dff"/>
<rect x="257.25" y="655" width="12" height="3" fill="#4dffb2"/>
<rect x="269.25" y="655" width="1.85" height="3" fill="#004dff"/>
<rect x="271.1" y="655" width="11.9" height="3" fill="#4dffb2"/>
<rect x="283" y="655" width="2.1" height="3" fill="#004dff"/>
<rect x="285.1" y="655" width="12" height="3" fill="#4dffb2"/>
<rect x="243.1" y="658" width="12" height="4.3" fill="#e5ff1a"/>
<rect x="255.1" y="658" width="2.15" height="4.3" fill="#00b2ff"/>
<rect x="257.25" y="658" width="12" height="4.3" fill="#e5ff1a"/>
<rect x="269.25" y="658" width="1.85" height="4.3" fill="#00b2ff"/>
<rect x="271.1" y="658" width="11.9" height="4.3" fill="#e5ff1a"/>
<rect x="283" y="658" width="2.1" height="4.3" fill="#00b2ff"/>
<rect x="285.1" y="658" width="12" height="4.3" fill="#d1ff2e"/>
<rect x="243.1" y="662.3" width="12" height="1.7" fill="#ff1a00"/>
<rect x="255.1" y="662.3" width="2.15" height="1.7" fill="#80ff80"/>
<rect x="257.25" y="662.3" width="12" height="1.7" fill="#ff1a00"/>
<rect x="269.25" y="662.3" width="1.85" height="1.7" fill="#80ff80"/>
<rect x="271.1" y="662.3" width="11.9" height="1.7" fill="#ff2400"/>
<rect x="283" y="662.3" width="2.1" height="1.7" fill="#80ff80"/>
<rect x="285.1" y="662.3" width="12" height="1.7" fill="#ff2400"/>
<rect x="243.1" y="664" width="12" height="2" fill="#c70000"/>
<rect x="255.1" y="664" width="2.15" height="2" fill="#e5ff1a"/>
<rect x="257.25" y="664" width="12" height="2" fill="#c70000"/>
<rect x="269.25" y="664" width="1.85" height="2" fill="#e5ff1a"/>
<rect x="271.1" y="664" width="11.9" height="2" fill="#d10000"/>
<rect x="283" y="664" width="2.1" height="2" fill="#e5ff1a"/>
<rect x="285.1" y="664" width="12" height="2" fill="#e50000"/>
<rect x="131.25" y="666" width="176.9" height="6" fill="#0094ff"/>
<rect x="297.1" y="666" width="11.05" height="6" fill="#0080ff"/>
<rect x="243.1" y="666" width="12" height="6" fill="#a8ff57"/>
<rect x="255.1" y="666" width="2.15" height="6" fill="#00e5ff"/>
<rect x="257.25" y="666" width="12" height="6" fill="#94ff6b"/>
<rect x="269.25" y="666" width="1.85" height="6" fill="#00e5ff"/>
<rect x="271.1" y="666" width="11.9" height="6" fill="#94ff6b"/>
<rect x="283" y="666" width="2.1" height="6" fill="#00e5ff"/>
<rect x="285.1" y="666" width="12" height="6" fill="#94ff6b"/>
<rect x="131.25" y="672" width="176.9" height="7" fill="#00b2ff"/>
<rect x="297.1" y="672" width="11.05" height="7" fill="#2effd1"/>
<rect x="243.1" y="672" width="12" height="7" fill="#fa0000"/>
<rect x="255.1" y="672" width="2.15" height="7" fill="#e5ff1a"/>
<rect x="257.25" y="672" width="12" height="7" fill="#fa0000"/>
<rect x="269.25" y="672" width="1.85" height="7" fill="#e5ff1a"/>
<rect x="271.1" y="672" width="11.9" height="7" fill="#fa0000"/>
<rect x="283" y="672" width="2.1" height="7" fill="#e5ff1a"/>
<rect x="285.1" y="672" width="12" height="7" fill="#fa0000"/>
<rect x="131.25" y="679" width="176.9" height="4.3" fill="#ff9e00"/>
<rect x="297.1" y="679" width="11.05" height="4.3" fill="#ff8a00"/>
<rect x="243.1" y="679" width="12" height="4.3" fill="#fa0000"/>
<rect x="255.1" y="679" width="2.15" height="4.3" fill="#ff4c00"/>
<rect x="257.25" y="679" width="12" height="4.3" fill="#fa0000"/>
<rect x="269.25" y="679" width="1.85" height="4.3" fill="#ff4c00"/>
<rect x="271.1" y="679" width="11.9" height="4.3" fill="#fa0000"/>
<rect x="283" y="679" width="2.1" height="4.3" fill="#ff4c00"/>
<rect x="285.1" y="679" width="12" height="4.3" fill="#fa0000"/>
<rect x="131.25" y="683.3" width="176.9" height="4.4" fill="#ff5700"/>
<rect x="297.1" y="683.3" width="11.05" height="4.4" fill="#ff7500"/>
<rect x="243.1" y="683.3" width="12" height="4.4" fill="#a80000"/>
<rect x="255.1" y="683.3" width="2.15" height="4.4" fill="#fa0000"/>
<rect x="257.25" y="683.3" width="12" height="4.4" fill="#a80000"/>
<rect x="269.25" y="683.3" width="1.85" height="4.4" fill="#fa0000"/>
<rect x="271.1" y="683.3" width="11.9" height="4.4" fill="#a80000"/>
<rect x="283" y="683.3" width="2.1" height="4.4" fill="#fa0000"/>
<rect x="285.1" y="683.3" width="12" height="4.4" fill="#b30000"/>
<rect x="131.25" y="687.7" width="176.9" height="1.1" fill="#e5ff1a"/>
<rect x="297.1" y="687.7" width="11.05" height="1.1" fill="#b3ff4c"/>
<rect x="243.1" y="687.7" width="12" height="1.1" fill="#ffe500"/>
<rect x="255.1" y="687.7" width="2.15" height="1.1" fill="#e5ff1a"/>
<rect x="257.25" y="687.7" width="12" height="1.1" fill="#ffe500"/>
<rect x="269.25" y="687.7" width="1.85" height="1.1" fill="#e5ff1a"/>
<rect x="271.1" y="687.7" width="11.9" height="1.1" fill="#ffe500"/>
<rect x="283" y="687.7" width="2.1" height="1.1" fill="#e5ff1a"/>
<rect x="285.1" y="687.7" width="12" height="1.1" fill="#ffe500"/>
<rect x="131.25" y="688.8" width="176.9" height="3.8" fill="#009eff"/>
<rect x="297.1" y="688.8" width="11.05" height="3.8" fill="#0094ff"/>
<rect x="243.1" y="688.8" width="12" height="3.8" fill="#2effd1"/>
<rect x="255.1" y="688.8" width="2.15" height="3.8" fill="#00b2ff"/>
<rect x="257.25" y="688.8" width="12" height="3.8" fill="#80ff80"/>
<rect x="269.25" y="688.8" width="1.85" height="3.8" fill="#00b2ff"/>
<rect x="271.1" y="688.8" width="11.9" height="3.8" fill="#80ff80"/>
<rect x="283" y="688.8" width="2.1" height="3.8" fill="#00b2ff"/>
<rect x="285.1" y="688.8" width="12" height="3.8" fill="#1affe5"/>
<rect x="243.1" y="692.6" width="12" height="6" fill="#80ff80"/>
<rect x="255.1" y="692.6" width="2.15" height="6" fill="#00b2ff"/>
<rect x="257.25" y="692.6" width="12" height="6" fill="#80ff80"/>
<rect x="269.25" y="692.6" width="1.85" height="6" fill="#00b2ff"/>
<rect x="271.1" y="692.6" width="11.9" height="6" fill="#80ff80"/>
<rect x="283" y="692.6" width="2.1" height="6" fill="#00b2ff"/>
<rect x="285.1" y="692.6" width="12" height="6" fill="#6bff94"/>
<rect x="131.25" y="698.6" width="176.9" height="2.2" fill="#fffa00"/>
<rect x="297.1" y="698.6" width="11.05" height="2.2" fill="#faff05"/>
<rect x="243.1" y="698.6" width="12" height="2.2" fill="#ffc700"/>
<rect x="255.1" y="698.6" width="2.15" height="2.2" fill="#ffe500"/>
<rect x="257.25" y="698.6" width="12" height="2.2" fill="#ffc700"/>
<rect x="269.25" y="698.6" width="1.85" height="2.2" fill="#ffe500"/>
<rect x="271.1" y="698.6" width="11.9" height="2.2" fill="#ffc700"/>
<rect x="283" y="698.6" width="2.1" height="2.2" fill="#ffe500"/>
<rect x="285.1" y="698.6" width="12" height="2.2" fill="#ffc700"/>
<rect x="131.25" y="700.8" width="176.9" height="0.9" fill="#e5ff1a"/>
<rect x="297.1" y="700.8" width="11.05" height="0.9" fill="#80ff80"/>
<rect x="243.1" y="700.8" width="12" height="0.9" fill="#d10000"/>
<rect x="255.1" y="700.8" width="2.15" height="0.9" fill="#80ff80"/>
<rect x="257.25" y="700.8" width="12" height="0.9" fill="#d10000"/>
<rect x="269.25" y="700.8" width="1.85" height="0.9" fill="#80ff80"/>
<rect x="271.1" y="700.8" width="11.9" height="0.9" fill="#d10000"/>
<rect x="283" y="700.8" width="2.1" height="0.9" fill="#80ff80"/>
<rect x="285.1" y="700.8" width="12" height="0.9" fill="#d10000"/>
<rect x="243.1" y="701.7" width="12" height="1.3" fill="#d10000"/>
<rect x="255.1" y="701.7" width="2.15" height="1.3" fill="#80ff80"/>
<rect x="257.25" y="701.7" width="12" height="1.3" fill="#d10000"/>
<rect x="269.25" y="701.7" width="1.85" height="1.3" fill="#80ff80"/>
<rect x="271.1" y="701.7" width="11.9" height="1.3" fill="#d10000"/>
<rect x="283" y="701.7" width="2.1" height="1.3" fill="#80ff80"/>
<rect x="285.1" y="701.7" width="12" height="1.3" fill="#d10000"/>
<rect x="243.1" y="703" width="12" height="2.6" fill="#ffe500"/>
<rect x="255.1" y="703" width="2.15" height="2.6" fill="#1affe5"/>
<rect x="257.25" y="703" width="12" height="2.6" fill="#ffe500"/>
<rect x="269.25" y="703" width="1.85" height="2.6" fill="#1affe5"/>
<rect x="271.1" y="703" width="11.9" height="2.6" fill="#ffe500"/>
<rect x="283" y="703" width="2.1" height="2.6" fill="#1affe5"/>
<rect x="285.1" y="703" width="12" height="2.6" fill="#ffe500"/>
<rect x="243.1" y="705.6" width="12" height="2.4" fill="#ff0500"/>
<rect x="255.1" y="705.6" width="2.15" height="2.4" fill="#4dffb2"/>
<rect x="257.25" y="705.6" width="12" height="2.4" fill="#ff0500"/>
<rect x="269.25" y="705.6" width="1.85" height="2.4" fill="#4dffb2"/>
<rect x="271.1" y="705.6" width="11.9" height="2.4" fill="#ff0500"/>
<rect x="283" y="705.6" width="2.1" height="2.4" fill="#4dffb2"/>
<rect x="285.1" y="705.6" width="12" height="2.4" fill="#ff1a00"/>
<rect x="243.1" y="708" width="12" height="1.7" fill="#ff6100"/>
<rect x="255.1" y="708" width="2.15" height="1.7" fill="#1affe5"/>
<rect x="257.25" y="708" width="12" height="1.7" fill="#ff6100"/>
<rect x="269.25" y="708" width="1.85" height="1.7" fill="#1affe5"/>
<rect x="271.1" y="708" width="11.9" height="1.7" fill="#ff6100"/>
<rect x="283" y="708" width="2.1" height="1.7" fill="#1affe5"/>
<rect x="285.1" y="708" width="12" height="1.7" fill="#ff7500"/>
<rect x="131.25" y="709.7" width="176.9" height="10.3" fill="#0080ff"/>
<rect x="297.1" y="709.7" width="11.05" height="10.3" fill="#0080ff"/>
<rect x="243.1" y="709.7" width="12" height="10.3" fill="#1affe5"/>
<rect x="255.1" y="709.7" width="2.15" height="10.3" fill="#00b2ff"/>
<rect x="257.25" y="709.7" width="12" height="10.3" fill="#80ff80"/>
<rect x="269.25" y="709.7" width="1.85" height="10.3" fill="#00b2ff"/>
<rect x="271.1" y="709.7" width="11.9" height="10.3" fill="#80ff80"/>
<rect x="283" y="709.7" width="2.1" height="10.3" fill="#00b2ff"/>
<rect x="285.1" y="709.7" width="12" height="10.3" fill="#00d1ff"/>
<rect x="131.25" y="183.00" width="176.90" height="9.50" fill="none" filter="url(#nzy)" opacity="1.00"/>
<rect x="131.25" y="183.00" width="176.90" height="9.50" fill="none" filter="url(#nzc)"/>
<rect x="131.25" y="197.30" width="176.90" height="4.10" fill="none" filter="url(#nzy)" opacity="1.00"/>
<rect x="131.25" y="197.30" width="176.90" height="4.10" fill="none" filter="url(#nzc)"/>
<rect x="268" y="255" width="33" height="9" fill="#bdff42"/>
<rect x="239.25" y="264" width="57.8" height="1" fill="#1affe5"/>
<rect x="143.4" y="183.2" width="1.2" height="2.8" fill="#e81000"/>
<rect x="143.4" y="189" width="1.2" height="2.6" fill="#e81000"/>
<rect x="143.4" y="197.3" width="1.2" height="2.6" fill="#e81000"/>
<rect x="142.4" y="199.6" width="3.2" height="1.7" fill="#e81000"/>
<rect x="143.5" y="178" width="1" height="3.5" fill="#ff6000"/>
<rect x="156.62" y="183.2" width="1.2" height="1.8" fill="#ff8a00"/>
<rect x="156.62" y="189" width="1.2" height="1.6" fill="#ff8a00"/>
<rect x="156.62" y="197.3" width="1.2" height="1.6" fill="#ff8a00"/>
<rect x="156.22" y="199.6" width="2" height="1.7" fill="#ff8a00"/>
<rect x="183.06" y="183.2" width="1.2" height="2.8" fill="#e81000"/>
<rect x="183.06" y="189" width="1.2" height="2.6" fill="#e81000"/>
<rect x="183.06" y="197.3" width="1.2" height="2.6" fill="#e81000"/>
<rect x="182.06" y="199.6" width="3.2" height="1.7" fill="#e81000"/>
<rect x="183.16" y="178" width="1" height="3.5" fill="#ff6000"/>
<rect x="196.28" y="183.2" width="1.2" height="1.8" fill="#ff8a00"/>
<rect x="196.28" y="189" width="1.2" height="1.6" fill="#ff8a00"/>
<rect x="196.28" y="197.3" width="1.2" height="1.6" fill="#ff8a00"/>
<rect x="195.88" y="199.6" width="2" height="1.7" fill="#ff8a00"/>
<rect x="209.5" y="183.2" width="1.2" height="1.8" fill="#ff8a00"/>
<rect x="209.5" y="189" width="1.2" height="1.6" fill="#ff8a00"/>
<rect x="209.5" y="197.3" width="1.2" height="1.6" fill="#ff8a00"/>
<rect x="209.1" y="199.6" width="2" height="1.7" fill="#ff8a00"/>
<rect x="222.72" y="183.2" width="1.2" height="2.8" fill="#e81000"/>
<rect x="222.72" y="189" width="1.2" height="2.6" fill="#e81000"/>
<rect x="222.72" y="197.3" width="1.2" height="2.6" fill="#e81000"/>
<rect x="221.72" y="199.6" width="3.2" height="1.7" fill="#e81000"/>
<rect x="222.82" y="178" width="1" height="3.5" fill="#ff6000"/>
<rect x="235.94" y="183.2" width="1.2" height="1.8" fill="#ff8a00"/>
<rect x="235.94" y="189" width="1.2" height="1.6" fill="#ff8a00"/>
<rect x="235.94" y="197.3" width="1.2" height="1.6" fill="#ff8a00"/>
<rect x="235.54" y="199.6" width="2" height="1.7" fill="#ff8a00"/>
<rect x="249.16" y="183.2" width="1.2" height="1.8" fill="#ff8a00"/>
<rect x="249.16" y="189" width="1.2" height="1.6" fill="#ff8a00"/>
<rect x="249.16" y="197.3" width="1.2" height="1.6" fill="#ff8a00"/>
<rect x="248.76" y="199.6" width="2" height="1.7" fill="#ff8a00"/>
<rect x="262.38" y="183.2" width="1.2" height="1.8" fill="#ff8a00"/>
<rect x="262.38" y="189" width="1.2" height="1.6" fill="#ff8a00"/>
<rect x="262.38" y="197.3" width="1.2" height="1.6" fill="#ff8a00"/>
<rect x="261.98" y="199.6" width="2" height="1.7" fill="#ff8a00"/>
<rect x="275.6" y="183.2" width="1.2" height="1.8" fill="#ff8a00"/>
<rect x="275.6" y="189" width="1.2" height="1.6" fill="#ff8a00"/>
<rect x="275.6" y="197.3" width="1.2" height="1.6" fill="#ff8a00"/>
<rect x="275.2" y="199.6" width="2" height="1.7" fill="#ff8a00"/>
<rect x="288.82" y="183.2" width="1.2" height="2.8" fill="#e81000"/>
<rect x="288.82" y="189" width="1.2" height="2.6" fill="#e81000"/>
<rect x="288.82" y="197.3" width="1.2" height="2.6" fill="#e81000"/>
<rect x="287.82" y="199.6" width="3.2" height="1.7" fill="#e81000"/>
<rect x="288.92" y="178" width="1" height="3.5" fill="#ff6000"/>
<rect x="302.04" y="183.2" width="1.2" height="1.8" fill="#ff8a00"/>
<rect x="302.04" y="189" width="1.2" height="1.6" fill="#ff8a00"/>
<rect x="302.04" y="197.3" width="1.2" height="1.6" fill="#ff8a00"/>
<rect x="301.64" y="199.6" width="2" height="1.7" fill="#ff8a00"/>
<rect x="151.65" y="178" width="64" height="4" fill="url(#hs)"/>
<rect x="182.65" y="183.2" width="2" height="9.3" fill="#e01000"/>
<rect x="182.65" y="197.3" width="2" height="4" fill="#e01000"/>
<rect x="284.25" y="178" width="24" height="1.2" fill="#ff7000" opacity="0.9"/>
<rect x="272.25" y="178" width="12" height="1.2" fill="#ffe000" opacity="0.8"/>
<ellipse cx="183.65" cy="206.5" rx="15" ry="4.5" fill="url(#hr)"/>
<rect x="182.65" y="204.2" width="2" height="7" fill="#f02000"/>
<rect x="182.15" y="212.3" width="3" height="1.2" fill="#40ffc0"/>
<rect x="223.75" y="205" width="1.4" height="1.2" fill="#ff3000"/>
<rect x="223.75" y="208" width="1.4" height="1.2" fill="#ff3000"/>
<rect x="223.75" y="211" width="1.4" height="1.2" fill="#ff3000"/>
<rect x="223.75" y="214" width="1.4" height="1.2" fill="#ff3000"/>
<rect x="223.75" y="217" width="1.4" height="1.2" fill="#ff3000"/>
<rect x="223.75" y="220" width="1.4" height="1.2" fill="#ff3000"/>
<rect x="223.75" y="220.8" width="1.4" height="1.5" fill="#ffd000"/>
<rect x="178" y="89.5" width="2" height="1.5" fill="#60ffa0"/>
<ellipse cx="179.00" cy="96" rx="6" ry="1.6" fill="url(#hr)"/>
<rect x="178" y="95.2" width="2" height="1.8" fill="#f01000"/>
<rect x="178" y="99" width="2" height="1" fill="#ffe000"/>
<rect x="178" y="105" width="2" height="2" fill="#ffd000"/>
<rect x="202.75" y="105.5" width="1.2" height="1.5" fill="#30ffd0"/>
<rect x="143.05" y="235" width="1.3" height="1" fill="#ff9000"/>
<rect x="143.05" y="239.2" width="1.3" height="0.9" fill="#e02000"/>
<rect x="143.05" y="241" width="1.3" height="2.5" fill="#ffe000"/>
<rect x="225.25" y="571.50" width="17.85" height="9.00" fill="url(#hz)" opacity="0.70"/>
<rect x="222.25" y="658.00" width="20.85" height="8.00" fill="url(#hz)" opacity="0.90"/>
<rect x="222.25" y="676.00" width="20.85" height="3.00" fill="url(#hz)" opacity="0.80"/>
<rect x="219.25" y="701.70" width="23.85" height="8.00" fill="url(#hz)" opacity="1.00"/>
<rect x="131.25" y="84" width="176.9" height="1" fill="#fff"/>
<rect x="131.25" y="85" width="176.9" height="2" fill="#000"/>
<rect x="131.25" y="91" width="176.9" height="2" fill="#000"/>
<rect x="131.25" y="94.2" width="176.9" height="0.8" fill="#fff"/>
<rect x="131.25" y="97.3" width="176.9" height="1.7" fill="#000"/>
<rect x="131.25" y="100" width="176.9" height="5" fill="#fff"/>
<rect x="131.25" y="107" width="176.9" height="8" fill="#000"/>
<rect x="131.25" y="115" width="176.9" height="1" fill="#fff"/>
<rect x="131.25" y="116" width="176.9" height="2" fill="#000"/>
<rect x="131.25" y="118" width="176.9" height="1" fill="#fff"/>
<rect x="131.25" y="119" width="176.9" height="1" fill="#000"/>
<rect x="131.25" y="120" width="176.9" height="1" fill="#fff"/>
<rect x="131.25" y="121" width="176.9" height="5" fill="#000"/>
<rect x="131.25" y="126" width="176.9" height="1" fill="#fff"/>
<rect x="131.25" y="127" width="176.9" height="2" fill="#000"/>
<rect x="131.25" y="129" width="176.9" height="5" fill="#fff"/>
<rect x="131.25" y="134" width="176.9" height="1" fill="#000"/>
<rect x="131.25" y="137" width="176.9" height="1" fill="#000"/>
<rect x="131.25" y="139" width="176.9" height="1" fill="#000"/>
<rect x="131.25" y="140" width="176.9" height="0.7" fill="#fff"/>
<rect x="131.25" y="140.7" width="176.9" height="0.5" fill="#000"/>
<rect x="131.25" y="142.4" width="176.9" height="1.9" fill="#fff"/>
<rect x="131.25" y="145.5" width="176.9" height="1" fill="#000"/>
<rect x="131.25" y="149" width="176.9" height="1" fill="#000"/>
<rect x="131.25" y="150" width="176.9" height="4" fill="#fff"/>
<rect x="131.25" y="158" width="176.9" height="1.2" fill="#000"/>
<rect x="131.25" y="159.2" width="176.9" height="7.8" fill="#fff"/>
<rect x="131.25" y="177" width="176.9" height="1" fill="#000"/>
<rect x="131.25" y="182" width="176.9" height="1.2" fill="#000"/>
<rect x="131.25" y="186.7" width="176.9" height="2.3" fill="#000"/>
<rect x="131.25" y="192.6" width="176.9" height="3.4" fill="#fff"/>
<rect x="131.25" y="201.3" width="176.9" height="1.2" fill="#000"/>
<rect x="131.25" y="202.8" width="176.9" height="1.2" fill="#fff"/>
<rect x="131.25" y="223.5" width="176.9" height="8.5" fill="#000"/>
<rect x="131.25" y="240" width="176.9" height="1" fill="#fff"/>
<rect x="131.25" y="243.5" width="176.9" height="5.5" fill="#fff"/>
<rect x="131.25" y="252" width="176.9" height="1" fill="#fff"/>
<rect x="131.25" y="275" width="176.9" height="1" fill="#000"/>
<rect x="131.25" y="283" width="176.9" height="5" fill="#000"/>
<rect x="131.25" y="289" width="176.9" height="1" fill="#fff"/>
<rect x="131.25" y="298" width="176.9" height="4" fill="#fff"/>
<rect x="131.25" y="323" width="176.9" height="1" fill="#fff"/>
<rect x="131.25" y="330" width="176.9" height="1" fill="#fff"/>
<rect x="131.25" y="345" width="176.9" height="1" fill="#fff"/>
<rect x="131.25" y="357" width="176.9" height="4" fill="#fff"/>
<rect x="131.25" y="361" width="176.9" height="1" fill="#000"/>
<rect x="131.25" y="364" width="176.9" height="1" fill="#fff"/>
<rect x="131.25" y="384" width="176.9" height="1" fill="#fff"/>
<rect x="131.25" y="386" width="176.9" height="1" fill="#fff"/>
<rect x="131.25" y="408" width="176.9" height="1" fill="#fff"/>
<rect x="131.25" y="412" width="176.9" height="2" fill="#fff"/>
<rect x="131.25" y="415.5" width="176.9" height="2" fill="#000"/>
<rect x="131.25" y="445" width="176.9" height="1" fill="#fff"/>
<rect x="131.25" y="449" width="176.9" height="1" fill="#fff"/>
<rect x="131.25" y="466" width="176.9" height="2" fill="#fff"/>
<rect x="131.25" y="468" width="176.9" height="1" fill="#000"/>
<rect x="131.25" y="471" width="176.9" height="1" fill="#000"/>
<rect x="131.25" y="475.5" width="176.9" height="1" fill="#000"/>
<rect x="131.25" y="478" width="176.9" height="1" fill="#fff"/>
<rect x="131.25" y="483" width="176.9" height="1" fill="#000"/>
<rect x="131.25" y="488.5" width="176.9" height="3.5" fill="#000"/>
<rect x="131.25" y="495" width="176.9" height="1" fill="#fff"/>
<rect x="131.25" y="497" width="176.9" height="1" fill="#000"/>
<rect x="131.25" y="500" width="176.9" height="1" fill="#000"/>
<rect x="131.25" y="502" width="176.9" height="1" fill="#000"/>
<rect x="131.25" y="505" width="176.9" height="1" fill="#000"/>
<rect x="131.25" y="507" width="176.9" height="1" fill="#000"/>
<rect x="131.25" y="510" width="176.9" height="1" fill="#000"/>
<rect x="131.25" y="512" width="176.9" height="1" fill="#000"/>
<rect x="131.25" y="515" width="176.9" height="1" fill="#000"/>
<rect x="131.25" y="517" width="176.9" height="1" fill="#fff"/>
<rect x="131.25" y="520" width="176.9" height="1.7" fill="#000"/>
<rect x="131.25" y="522" width="176.9" height="1" fill="#fff"/>
<rect x="131.25" y="533" width="176.9" height="1" fill="#fff"/>
<rect x="131.25" y="546" width="176.9" height="1" fill="#000"/>
<rect x="131.25" y="547" width="176.9" height="1.3" fill="#fff"/>
<rect x="131.25" y="550.3" width="176.9" height="1" fill="#000"/>
<rect x="131.25" y="552" width="176.9" height="1" fill="#000"/>
<rect x="131.25" y="556.8" width="176.9" height="1.2" fill="#fff"/>
<rect x="131.25" y="563" width="176.9" height="1.2" fill="#fff"/>
<rect x="131.25" y="566.8" width="176.9" height="1.2" fill="#000"/>
<rect x="131.25" y="580.8" width="176.9" height="1.2" fill="#000"/>
<rect x="131.25" y="590" width="176.9" height="1" fill="#fff"/>
<rect x="131.25" y="595" width="176.9" height="2" fill="#fff"/>
<rect x="131.25" y="600" width="176.9" height="1" fill="#fff"/>
<rect x="131.25" y="621" width="176.9" height="2" fill="#000"/>
<rect x="131.25" y="625" width="176.9" height="1" fill="#fff"/>
<rect x="131.25" y="629" width="176.9" height="1" fill="#000"/>
<rect x="131.25" y="633" width="176.9" height="1" fill="#000"/>
<rect x="131.25" y="637" width="176.9" height="1.6" fill="#000"/>
<rect x="131.25" y="639" width="176.9" height="1.3" fill="#fff"/>
<rect x="131.25" y="640.6" width="176.9" height="1.1" fill="#000"/>
<rect x="131.25" y="651" width="176.9" height="1.3" fill="#fff"/>
<rect x="131.25" y="655" width="176.9" height="2.8" fill="#000"/>
<rect x="131.25" y="666" width="176.9" height="2" fill="#000"/>
<rect x="131.25" y="672" width="176.9" height="2" fill="#fff"/>
<rect x="131.25" y="674" width="176.9" height="3" fill="#000"/>
<rect x="131.25" y="679" width="176.9" height="2" fill="#fff"/>
<rect x="131.25" y="689" width="176.9" height="1" fill="#000"/>
<rect x="131.25" y="692.6" width="176.9" height="2.4" fill="#fff"/>
<rect x="131.25" y="697" width="176.9" height="1.7" fill="#000"/>
<rect x="131.25" y="709.7" width="176.9" height="1.3" fill="#000"/>
<rect x="131.25" y="713.5" width="176.9" height="1.3" fill="#000"/>
<rect x="131.25" y="714.8" width="176.9" height="5.2" fill="#fff"/>
<rect x="172.65" y="176.6" width="22" height="1.4" fill="url(#hs)"/>
<rect x="179.65" y="175.6" width="8" height="1" fill="#a0ff60"/>
<rect x="182.65" y="175.6" width="2" height="6.4" fill="#b80000"/>
<rect x="131.25" y="80" width="176.90" height="640" fill="none" stroke="#000" stroke-width="1"/>
<line x1="131.25" y1="720" x2="131.25" y2="714.5" stroke="#000" stroke-width="1"/>
<line x1="131.25" y1="80" x2="131.25" y2="85.5" stroke="#000" stroke-width="1"/>
<line x1="172.84" y1="720" x2="172.84" y2="714.5" stroke="#000" stroke-width="1"/>
<line x1="172.84" y1="80" x2="172.84" y2="85.5" stroke="#000" stroke-width="1"/>
<line x1="214.43" y1="720" x2="214.43" y2="714.5" stroke="#000" stroke-width="1"/>
<line x1="214.43" y1="80" x2="214.43" y2="85.5" stroke="#000" stroke-width="1"/>
<line x1="256.02" y1="720" x2="256.02" y2="714.5" stroke="#000" stroke-width="1"/>
<line x1="256.02" y1="80" x2="256.02" y2="85.5" stroke="#000" stroke-width="1"/>
<line x1="297.61" y1="720" x2="297.61" y2="714.5" stroke="#000" stroke-width="1"/>
<line x1="297.61" y1="80" x2="297.61" y2="85.5" stroke="#000" stroke-width="1"/>
<line x1="131.25" y1="720.00" x2="136.75" y2="720.00" stroke="#000" stroke-width="1"/>
<line x1="308.15" y1="720.00" x2="302.65" y2="720.00" stroke="#000" stroke-width="1"/>
<line x1="131.25" y1="586.67" x2="136.75" y2="586.67" stroke="#000" stroke-width="1"/>
<line x1="308.15" y1="586.67" x2="302.65" y2="586.67" stroke="#000" stroke-width="1"/>
<line x1="131.25" y1="453.33" x2="136.75" y2="453.33" stroke="#000" stroke-width="1"/>
<line x1="308.15" y1="453.33" x2="302.65" y2="453.33" stroke="#000" stroke-width="1"/>
<line x1="131.25" y1="320.00" x2="136.75" y2="320.00" stroke="#000" stroke-width="1"/>
<line x1="308.15" y1="320.00" x2="302.65" y2="320.00" stroke="#000" stroke-width="1"/>
<line x1="131.25" y1="186.67" x2="136.75" y2="186.67" stroke="#000" stroke-width="1"/>
<line x1="308.15" y1="186.67" x2="302.65" y2="186.67" stroke="#000" stroke-width="1"/>
</g>
<text class="t14" x="219.70" y="72.6" text-anchor="middle">XX, V5*V11=EA08*EA14</text>
<text class="tk" x="131.65" y="735.7" text-anchor="middle">320</text>
<text class="tk" x="173.24" y="735.7" text-anchor="middle">335</text>
<text class="tk" x="214.83" y="735.7" text-anchor="middle">350</text>
<text class="tk" x="256.42" y="735.7" text-anchor="middle">365</text>
<text class="tk" x="298.01" y="735.7" text-anchor="middle">380</text>
<text class="tk" x="126.75" y="723.00" text-anchor="end">0</text>
<text class="tk" x="126.75" y="589.67" text-anchor="end">5</text>
<text class="tk" x="126.75" y="456.33" text-anchor="end">10</text>
<text class="tk" x="126.75" y="323.00" text-anchor="end">15</text>
<text class="tk" x="126.75" y="189.67" text-anchor="end">20</text>
<g shape-rendering="crispEdges">
<rect x="343.53" y="80" width="176.9" height="11" fill="#000fff"/>
<rect x="509.38" y="80" width="11.05" height="11" fill="#002eff"/>
<rect x="455.38" y="80" width="12" height="11" fill="#00b2ff"/>
<rect x="467.38" y="80" width="2.15" height="11" fill="#0094ff"/>
<rect x="469.53" y="80" width="12" height="11" fill="#00b2ff"/>
<rect x="481.53" y="80" width="1.85" height="11" fill="#0094ff"/>
<rect x="483.38" y="80" width="11.9" height="11" fill="#009eff"/>
<rect x="495.28" y="80" width="2.1" height="11" fill="#0094ff"/>
<rect x="497.38" y="80" width="12" height="11" fill="#008aff"/>
<rect x="343.53" y="91" width="176.9" height="8" fill="#000fff"/>
<rect x="509.38" y="91" width="11.05" height="8" fill="#002eff"/>
<rect x="455.38" y="91" width="12" height="8" fill="#0094ff"/>
<rect x="467.38" y="91" width="2.15" height="8" fill="#0080ff"/>
<rect x="469.53" y="91" width="12" height="8" fill="#0094ff"/>
<rect x="481.53" y="91" width="1.85" height="8" fill="#0080ff"/>
<rect x="483.38" y="91" width="11.9" height="8" fill="#0094ff"/>
<rect x="495.28" y="91" width="2.1" height="8" fill="#0080ff"/>
<rect x="497.38" y="91" width="12" height="8" fill="#0094ff"/>
<rect x="343.53" y="99" width="176.9" height="1" fill="#004dff"/>
<rect x="509.38" y="99" width="11.05" height="1" fill="#004dff"/>
<rect x="343.53" y="100" width="176.9" height="7" fill="#001aff"/>
<rect x="509.38" y="100" width="11.05" height="7" fill="#004dff"/>
<rect x="343.53" y="107" width="176.9" height="28" fill="#0005ff"/>
<rect x="509.38" y="107" width="11.05" height="28" fill="#0005ff"/>
<rect x="455.38" y="107" width="12" height="28" fill="#0019ff"/>
<rect x="467.38" y="107" width="2.15" height="28" fill="#0019ff"/>
<rect x="469.53" y="107" width="12" height="28" fill="#0019ff"/>
<rect x="481.53" y="107" width="1.85" height="28" fill="#0019ff"/>
<rect x="483.38" y="107" width="11.9" height="28" fill="#0019ff"/>
<rect x="495.28" y="107" width="2.1" height="28" fill="#0019ff"/>
<rect x="497.38" y="107" width="12" height="28" fill="#0019ff"/>
<rect x="343.53" y="135" width="176.9" height="14" fill="#000fff"/>
<rect x="509.38" y="135" width="11.05" height="14" fill="#002eff"/>
<rect x="455.38" y="135" width="12" height="14" fill="#00a8ff"/>
<rect x="467.38" y="135" width="2.15" height="14" fill="#0094ff"/>
<rect x="469.53" y="135" width="12" height="14" fill="#00bdff"/>
<rect x="481.53" y="135" width="1.85" height="14" fill="#0094ff"/>
<rect x="483.38" y="135" width="11.9" height="14" fill="#00a8ff"/>
<rect x="495.28" y="135" width="2.1" height="14" fill="#0094ff"/>
<rect x="497.38" y="135" width="12" height="14" fill="#0094ff"/>
<rect x="343.53" y="149" width="176.9" height="1" fill="#004dff"/>
<rect x="509.38" y="149" width="11.05" height="1" fill="#004dff"/>
<rect x="343.53" y="150" width="176.9" height="8" fill="#001aff"/>
<rect x="509.38" y="150" width="11.05" height="8" fill="#002eff"/>
<rect x="455.38" y="150" width="12" height="8" fill="#0094ff"/>
<rect x="467.38" y="150" width="2.15" height="8" fill="#0094ff"/>
<rect x="469.53" y="150" width="12" height="8" fill="#00b2ff"/>
<rect x="481.53" y="150" width="1.85" height="8" fill="#0094ff"/>
<rect x="483.38" y="150" width="11.9" height="8" fill="#0094ff"/>
<rect x="495.28" y="150" width="2.1" height="8" fill="#0094ff"/>
<rect x="497.38" y="150" width="12" height="8" fill="#0094ff"/>
<rect x="343.53" y="158" width="176.9" height="1.2" fill="#004dff"/>
<rect x="509.38" y="158" width="11.05" height="1.2" fill="#004dff"/>
<rect x="343.53" y="159.2" width="176.9" height="17.8" fill="#000fff"/>
<rect x="509.38" y="159.2" width="11.05" height="17.8" fill="#0024ff"/>
<rect x="455.38" y="159.2" width="12" height="17.8" fill="#00a8ff"/>
<rect x="467.38" y="159.2" width="2.15" height="17.8" fill="#0075ff"/>
<rect x="469.53" y="159.2" width="12" height="17.8" fill="#00bdff"/>
<rect x="481.53" y="159.2" width="1.85" height="17.8" fill="#0075ff"/>
<rect x="483.38" y="159.2" width="11.9" height="17.8" fill="#0094ff"/>
<rect x="495.28" y="159.2" width="2.1" height="17.8" fill="#0075ff"/>
<rect x="497.38" y="159.2" width="12" height="17.8" fill="#0094ff"/>
<rect x="343.53" y="192.5" width="176.9" height="4.8" fill="#00b2ff"/>
<rect x="509.38" y="192.5" width="11.05" height="4.8" fill="#00b2ff"/>
<rect x="455.38" y="192.5" width="12" height="4.8" fill="#00b2ff"/>
<rect x="467.38" y="192.5" width="2.15" height="4.8" fill="#00b2ff"/>
<rect x="469.53" y="192.5" width="12" height="4.8" fill="#00b2ff"/>
<rect x="481.53" y="192.5" width="1.85" height="4.8" fill="#00b2ff"/>
<rect x="483.38" y="192.5" width="11.9" height="4.8" fill="#00b2ff"/>
<rect x="495.28" y="192.5" width="2.1" height="4.8" fill="#00b2ff"/>
<rect x="497.38" y="192.5" width="12" height="4.8" fill="#00b2ff"/>
<rect x="343.53" y="202" width="176.9" height="2.2" fill="#004dff"/>
<rect x="509.38" y="202" width="11.05" height="2.2" fill="#004dff"/>
<rect x="455.38" y="202" width="12" height="2.2" fill="#004dff"/>
<rect x="467.38" y="202" width="2.15" height="2.2" fill="#004dff"/>
<rect x="469.53" y="202" width="12" height="2.2" fill="#004dff"/>
<rect x="481.53" y="202" width="1.85" height="2.2" fill="#004dff"/>
<rect x="483.38" y="202" width="11.9" height="2.2" fill="#004dff"/>
<rect x="495.28" y="202" width="2.1" height="2.2" fill="#004dff"/>
<rect x="497.38" y="202" width="12" height="2.2" fill="#004dff"/>
<rect x="343.53" y="204.2" width="176.9" height="27.8" fill="#000fff"/>
<rect x="509.38" y="204.2" width="11.05" height="27.8" fill="#001aff"/>
<rect x="455.38" y="204.2" width="12" height="27.8" fill="#009eff"/>
<rect x="467.38" y="204.2" width="2.15" height="27.8" fill="#006bff"/>
<rect x="469.53" y="204.2" width="12" height="27.8" fill="#00bdff"/>
<rect x="481.53" y="204.2" width="1.85" height="27.8" fill="#006bff"/>
<rect x="483.38" y="204.2" width="11.9" height="27.8" fill="#009eff"/>
<rect x="495.28" y="204.2" width="2.1" height="27.8" fill="#006bff"/>
<rect x="497.38" y="204.2" width="12" height="27.8" fill="#0080ff"/>
<rect x="343.53" y="232" width="176.9" height="11.5" fill="#000fff"/>
<rect x="509.38" y="232" width="11.05" height="11.5" fill="#001aff"/>
<rect x="455.38" y="232" width="12" height="11.5" fill="#00c7ff"/>
<rect x="467.38" y="232" width="2.15" height="11.5" fill="#0080ff"/>
<rect x="469.53" y="232" width="12" height="11.5" fill="#00dbff"/>
<rect x="481.53" y="232" width="1.85" height="11.5" fill="#0080ff"/>
<rect x="483.38" y="232" width="11.9" height="11.5" fill="#00c7ff"/>
<rect x="495.28" y="232" width="2.1" height="11.5" fill="#0080ff"/>
<rect x="497.38" y="232" width="12" height="11.5" fill="#00b2ff"/>
<rect x="343.53" y="243.5" width="176.9" height="5.5" fill="#0005ff"/>
<rect x="509.38" y="243.5" width="11.05" height="5.5" fill="#0005ff"/>
<rect x="343.53" y="252.5" width="176.9" height="2.5" fill="#0005ff"/>
<rect x="509.38" y="252.5" width="11.05" height="2.5" fill="#0005ff"/>
<rect x="343.53" y="255" width="176.9" height="9" fill="#0005ff"/>
<rect x="509.38" y="255" width="11.05" height="9" fill="#0005ff"/>
<rect x="455.38" y="255" width="12" height="9" fill="#0080ff"/>
<rect x="467.38" y="255" width="2.15" height="9" fill="#0038ff"/>
<rect x="469.53" y="255" width="12" height="9" fill="#0080ff"/>
<rect x="481.53" y="255" width="1.85" height="9" fill="#0038ff"/>
<rect x="483.38" y="255" width="11.9" height="9" fill="#004dff"/>
<rect x="495.28" y="255" width="2.1" height="9" fill="#0038ff"/>
<rect x="497.38" y="255" width="12" height="9" fill="#004dff"/>
<rect x="343.53" y="264" width="176.9" height="1" fill="#0005ff"/>
<rect x="509.38" y="264" width="11.05" height="1" fill="#0005ff"/>
<rect x="455.38" y="264" width="12" height="1" fill="#1affe5"/>
<rect x="467.38" y="264" width="2.15" height="1" fill="#1affe5"/>
<rect x="469.53" y="264" width="12" height="1" fill="#1affe5"/>
<rect x="481.53" y="264" width="1.85" height="1" fill="#1affe5"/>
<rect x="483.38" y="264" width="11.9" height="1" fill="#1affe5"/>
<rect x="495.28" y="264" width="2.1" height="1" fill="#1affe5"/>
<rect x="497.38" y="264" width="12" height="1" fill="#1affe5"/>
<rect x="343.53" y="265" width="176.9" height="4" fill="#0005ff"/>
<rect x="509.38" y="265" width="11.05" height="4" fill="#0005ff"/>
<rect x="343.53" y="269" width="176.9" height="6.5" fill="#0005ff"/>
<rect x="509.38" y="269" width="11.05" height="6.5" fill="#0005ff"/>
<rect x="343.53" y="275.5" width="176.9" height="12.5" fill="#0005ff"/>
<rect x="509.38" y="275.5" width="11.05" height="12.5" fill="#0005ff"/>
<rect x="343.53" y="288" width="176.9" height="12" fill="#0005ff"/>
<rect x="509.38" y="288" width="11.05" height="12" fill="#0005ff"/>
<rect x="455.38" y="288" width="12" height="12" fill="#00f0ff"/>
<rect x="467.38" y="288" width="2.15" height="12" fill="#004dff"/>
<rect x="469.53" y="288" width="12" height="12" fill="#42ffbd"/>
<rect x="481.53" y="288" width="1.85" height="12" fill="#004dff"/>
<rect x="483.38" y="288" width="11.9" height="12" fill="#00f0ff"/>
<rect x="495.28" y="288" width="2.1" height="12" fill="#004dff"/>
<rect x="497.38" y="288" width="12" height="12" fill="#05fffa"/>
<rect x="343.53" y="300" width="176.9" height="12" fill="#0000fa"/>
<rect x="509.38" y="300" width="11.05" height="12" fill="#0000fa"/>
<rect x="343.53" y="312" width="176.9" height="11.5" fill="#0000fa"/>
<rect x="509.38" y="312" width="11.05" height="11.5" fill="#0000fa"/>
<rect x="343.53" y="323.5" width="176.9" height="7" fill="#0000fa"/>
<rect x="509.38" y="323.5" width="11.05" height="7" fill="#0000fa"/>
<rect x="343.53" y="330.5" width="176.9" height="15" fill="#0000fa"/>
<rect x="509.38" y="330.5" width="11.05" height="15" fill="#0000fa"/>
<rect x="343.53" y="345.5" width="176.9" height="13.5" fill="#0061ff"/>
<rect x="509.38" y="345.5" width="11.05" height="13.5" fill="#004dff"/>
<rect x="343.53" y="359" width="176.9" height="5.5" fill="#004dff"/>
<rect x="509.38" y="359" width="11.05" height="5.5" fill="#0024ff"/>
<rect x="343.53" y="364.5" width="176.9" height="20.5" fill="#004dff"/>
<rect x="509.38" y="364.5" width="11.05" height="20.5" fill="#0024ff"/>
<rect x="343.53" y="385" width="176.9" height="15" fill="#004dff"/>
<rect x="509.38" y="385" width="11.05" height="15" fill="#0024ff"/>
<rect x="343.53" y="400" width="176.9" height="8.5" fill="#004dff"/>
<rect x="509.38" y="400" width="11.05" height="8.5" fill="#0024ff"/>
<rect x="343.53" y="413" width="176.9" height="4.5" fill="#0005ff"/>
<rect x="509.38" y="413" width="11.05" height="4.5" fill="#0005ff"/>
<rect x="343.53" y="417.5" width="176.9" height="7.5" fill="#0000fa"/>
<rect x="509.38" y="417.5" width="11.05" height="7.5" fill="#0000f0"/>
<rect x="343.53" y="425" width="176.9" height="20.5" fill="#0000fa"/>
<rect x="509.38" y="425" width="11.05" height="20.5" fill="#0000f0"/>
<rect x="343.53" y="445.5" width="176.9" height="6.5" fill="#0000fa"/>
<rect x="509.38" y="445.5" width="11.05" height="6.5" fill="#0000f0"/>
<rect x="343.53" y="452" width="176.9" height="3" fill="#0000fa"/>
<rect x="509.38" y="452" width="11.05" height="3" fill="#0000f0"/>
<rect x="343.53" y="455" width="176.9" height="4" fill="#0000fa"/>
<rect x="509.38" y="455" width="11.05" height="4" fill="#0000f0"/>
<rect x="343.53" y="459" width="176.9" height="4" fill="#0000fa"/>
<rect x="509.38" y="459" width="11.05" height="4" fill="#0000f0"/>
<rect x="343.53" y="463" width="176.9" height="4" fill="#0000fa"/>
<rect x="509.38" y="463" width="11.05" height="4" fill="#0000f0"/>
<rect x="343.53" y="467" width="176.9" height="4.5" fill="#0000e5"/>
<rect x="509.38" y="467" width="11.05" height="4.5" fill="#0000e5"/>
<rect x="343.53" y="471.5" width="176.9" height="2.5" fill="#0000e5"/>
<rect x="509.38" y="471.5" width="11.05" height="2.5" fill="#0000e5"/>
<rect x="343.53" y="474" width="176.9" height="2" fill="#0000e5"/>
<rect x="509.38" y="474" width="11.05" height="2" fill="#0000e5"/>
<rect x="343.53" y="476" width="176.9" height="2.5" fill="#0000e5"/>
<rect x="509.38" y="476" width="11.05" height="2.5" fill="#0000e5"/>
<rect x="343.53" y="478.5" width="176.9" height="5" fill="#0000e5"/>
<rect x="509.38" y="478.5" width="11.05" height="5" fill="#0000e5"/>
<rect x="343.53" y="483.5" width="176.9" height="2.5" fill="#0000e5"/>
<rect x="509.38" y="483.5" width="11.05" height="2.5" fill="#0000e5"/>
<rect x="343.53" y="486" width="176.9" height="2.5" fill="#0000e5"/>
<rect x="509.38" y="486" width="11.05" height="2.5" fill="#0000e5"/>
<rect x="343.53" y="488.5" width="176.9" height="7.5" fill="#0000e5"/>
<rect x="509.38" y="488.5" width="11.05" height="7.5" fill="#0000e5"/>
<rect x="343.53" y="496" width="176.9" height="11" fill="#0000db"/>
<rect x="509.38" y="496" width="11.05" height="11" fill="#0000db"/>
<rect x="343.53" y="507" width="176.9" height="10.5" fill="#0000db"/>
<rect x="509.38" y="507" width="11.05" height="10.5" fill="#0000db"/>
<rect x="343.53" y="517.5" width="176.9" height="5" fill="#0000e5"/>
<rect x="509.38" y="517.5" width="11.05" height="5" fill="#0000e5"/>
<rect x="343.53" y="522.5" width="176.9" height="11" fill="#0000fa"/>
<rect x="509.38" y="522.5" width="11.05" height="11" fill="#0000f0"/>
<rect x="343.53" y="533.5" width="176.9" height="8.1" fill="#0000fa"/>
<rect x="509.38" y="533.5" width="11.05" height="8.1" fill="#0000f0"/>
<rect x="343.53" y="541.6" width="176.9" height="5.4" fill="#0000fa"/>
<rect x="509.38" y="541.6" width="11.05" height="5.4" fill="#0000f0"/>
<rect x="343.53" y="550.5" width="176.9" height="6.5" fill="#0000fa"/>
<rect x="509.38" y="550.5" width="11.05" height="6.5" fill="#0000f0"/>
<rect x="343.53" y="557" width="176.9" height="5" fill="#0000fa"/>
<rect x="509.38" y="557" width="11.05" height="5" fill="#0000f0"/>
<rect x="343.53" y="562" width="176.9" height="6" fill="#0000fa"/>
<rect x="509.38" y="562" width="11.05" height="6" fill="#0000f0"/>
<rect x="343.53" y="568" width="176.9" height="3" fill="#0000f0"/>
<rect x="509.38" y="568" width="11.05" height="3" fill="#0000f0"/>
<rect x="343.53" y="571" width="176.9" height="2" fill="#0000f0"/>
<rect x="509.38" y="571" width="11.05" height="2" fill="#0000f0"/>
<rect x="343.53" y="573" width="176.9" height="6.5" fill="#0000f0"/>
<rect x="509.38" y="573" width="11.05" height="6.5" fill="#0000f0"/>
<rect x="343.53" y="579.5" width="176.9" height="1.5" fill="#0000f0"/>
<rect x="509.38" y="579.5" width="11.05" height="1.5" fill="#0000f0"/>
<rect x="343.53" y="581" width="176.9" height="9.5" fill="#0000f0"/>
<rect x="509.38" y="581" width="11.05" height="9.5" fill="#0000f0"/>
<rect x="343.53" y="590.5" width="176.9" height="5" fill="#0000f0"/>
<rect x="509.38" y="590.5" width="11.05" height="5" fill="#0000f0"/>
<rect x="343.53" y="595.5" width="176.9" height="5" fill="#0000f0"/>
<rect x="509.38" y="595.5" width="11.05" height="5" fill="#0000f0"/>
<rect x="343.53" y="600.5" width="176.9" height="6.5" fill="#0000f0"/>
<rect x="509.38" y="600.5" width="11.05" height="6.5" fill="#0000f0"/>
<rect x="343.53" y="607" width="176.9" height="10" fill="#0000f0"/>
<rect x="509.38" y="607" width="11.05" height="10" fill="#0000f0"/>
<rect x="343.53" y="617" width="176.9" height="4" fill="#0000f0"/>
<rect x="509.38" y="617" width="11.05" height="4" fill="#0000f0"/>
<rect x="343.53" y="621" width="176.9" height="4.5" fill="#0000fa"/>
<rect x="509.38" y="621" width="11.05" height="4.5" fill="#0000fa"/>
<rect x="455.38" y="621" width="12" height="4.5" fill="#00b2ff"/>
<rect x="467.38" y="621" width="2.15" height="4.5" fill="#000fff"/>
<rect x="469.53" y="621" width="12" height="4.5" fill="#00b2ff"/>
<rect x="481.53" y="621" width="1.85" height="4.5" fill="#000fff"/>
<rect x="483.38" y="621" width="11.9" height="4.5" fill="#00b2ff"/>
<rect x="495.28" y="621" width="2.1" height="4.5" fill="#000fff"/>
<rect x="497.38" y="621" width="12" height="4.5" fill="#00b2ff"/>
<rect x="343.53" y="652" width="176.9" height="3" fill="#0024ff"/>
<rect x="509.38" y="652" width="11.05" height="3" fill="#0024ff"/>
<rect x="455.38" y="652" width="12" height="3" fill="#05fffa"/>
<rect x="467.38" y="652" width="2.15" height="3" fill="#0080ff"/>
<rect x="469.53" y="652" width="12" height="3" fill="#05fffa"/>
<rect x="481.53" y="652" width="1.85" height="3" fill="#0080ff"/>
<rect x="483.38" y="652" width="11.9" height="3" fill="#05fffa"/>
<rect x="495.28" y="652" width="2.1" height="3" fill="#0080ff"/>
<rect x="497.38" y="652" width="12" height="3" fill="#05fffa"/>
<rect x="343.53" y="655" width="176.9" height="3" fill="#0000fa"/>
<rect x="509.38" y="655" width="11.05" height="3" fill="#000fff"/>
<rect x="343.53" y="658" width="176.9" height="4" fill="#0000fa"/>
<rect x="509.38" y="658" width="11.05" height="4" fill="#000fff"/>
<rect x="343.53" y="662" width="176.9" height="1" fill="#0000fa"/>
<rect x="509.38" y="662" width="11.05" height="1" fill="#000fff"/>
<rect x="343.53" y="663" width="176.9" height="3" fill="#0000fa"/>
<rect x="509.38" y="663" width="11.05" height="3" fill="#004dff"/>
<rect x="343.53" y="688.8" width="176.9" height="3.8" fill="#004dff"/>
<rect x="509.38" y="688.8" width="11.05" height="3.8" fill="#004dff"/>
<rect x="343.53" y="692.6" width="176.9" height="6" fill="#001aff"/>
<rect x="509.38" y="692.6" width="11.05" height="6" fill="#001aff"/>
<rect x="343.53" y="701" width="176.9" height="3" fill="#0005ff"/>
<rect x="509.38" y="701" width="11.05" height="3" fill="#004dff"/>
<rect x="343.53" y="704" width="176.9" height="3" fill="#0005ff"/>
<rect x="509.38" y="704" width="11.05" height="3" fill="#004dff"/>
<rect x="343.53" y="707" width="176.9" height="2.7" fill="#0005ff"/>
<rect x="509.38" y="707" width="11.05" height="2.7" fill="#004dff"/>
<rect x="343.53" y="80" width="176.90" height="640" fill="none" filter="url(#nzd)"/>
<rect x="343.53" y="80" width="176.90" height="640" fill="none" filter="url(#nzl)"/>
<rect x="455.38" y="99" width="12" height="1" fill="#fffa00"/>
<rect x="467.38" y="99" width="2.15" height="1" fill="#1affe5"/>
<rect x="469.53" y="99" width="12" height="1" fill="#faff05"/>
<rect x="481.53" y="99" width="1.85" height="1" fill="#1affe5"/>
<rect x="483.38" y="99" width="11.9" height="1" fill="#80ff80"/>
<rect x="495.28" y="99" width="2.1" height="1" fill="#1affe5"/>
<rect x="497.38" y="99" width="12" height="1" fill="#80ff80"/>
<rect x="455.38" y="100" width="12" height="7" fill="#80ff80"/>
<rect x="467.38" y="100" width="2.15" height="7" fill="#00e5ff"/>
<rect x="469.53" y="100" width="12" height="7" fill="#1affe5"/>
<rect x="481.53" y="100" width="1.85" height="7" fill="#00e5ff"/>
<rect x="483.38" y="100" width="11.9" height="7" fill="#1affe5"/>
<rect x="495.28" y="100" width="2.1" height="7" fill="#00e5ff"/>
<rect x="497.38" y="100" width="12" height="7" fill="#80ff80"/>
<rect x="455.38" y="149" width="12" height="1" fill="#e5ff1a"/>
<rect x="467.38" y="149" width="2.15" height="1" fill="#1affe5"/>
<rect x="469.53" y="149" width="12" height="1" fill="#e5ff1a"/>
<rect x="481.53" y="149" width="1.85" height="1" fill="#1affe5"/>
<rect x="483.38" y="149" width="11.9" height="1" fill="#4dffb2"/>
<rect x="495.28" y="149" width="2.1" height="1" fill="#1affe5"/>
<rect x="497.38" y="149" width="12" height="1" fill="#4dffb2"/>
<rect x="455.38" y="158" width="12" height="1.2" fill="#80ff80"/>
<rect x="467.38" y="158" width="2.15" height="1.2" fill="#1affe5"/>
<rect x="469.53" y="158" width="12" height="1.2" fill="#4dffb2"/>
<rect x="481.53" y="158" width="1.85" height="1.2" fill="#1affe5"/>
<rect x="483.38" y="158" width="11.9" height="1.2" fill="#4dffb2"/>
<rect x="495.28" y="158" width="2.1" height="1.2" fill="#1affe5"/>
<rect x="497.38" y="158" width="12" height="1.2" fill="#4dffb2"/>
<rect x="343.53" y="177" width="176.9" height="3" fill="#24ffdb"/>
<rect x="509.38" y="177" width="11.05" height="3" fill="#24ffdb"/>
<rect x="455.38" y="177" width="12" height="3" fill="#24ffdb"/>
<rect x="467.38" y="177" width="2.15" height="3" fill="#24ffdb"/>
<rect x="469.53" y="177" width="12" height="3" fill="#24ffdb"/>
<rect x="481.53" y="177" width="1.85" height="3" fill="#24ffdb"/>
<rect x="483.38" y="177" width="11.9" height="3" fill="#24ffdb"/>
<rect x="495.28" y="177" width="2.1" height="3" fill="#24ffdb"/>
<rect x="497.38" y="177" width="12" height="3" fill="#24ffdb"/>
<rect x="343.53" y="180" width="176.9" height="2" fill="#57ffa8"/>
<rect x="509.38" y="180" width="11.05" height="2" fill="#57ffa8"/>
<rect x="455.38" y="180" width="12" height="2" fill="#57ffa8"/>
<rect x="467.38" y="180" width="2.15" height="2" fill="#57ffa8"/>
<rect x="469.53" y="180" width="12" height="2" fill="#57ffa8"/>
<rect x="481.53" y="180" width="1.85" height="2" fill="#57ffa8"/>
<rect x="483.38" y="180" width="11.9" height="2" fill="#57ffa8"/>
<rect x="495.28" y="180" width="2.1" height="2" fill="#57ffa8"/>
<rect x="497.38" y="180" width="12" height="2" fill="#57ffa8"/>
<rect x="343.53" y="182" width="176.9" height="10.5" fill="#2effd1"/>
<rect x="509.38" y="182" width="11.05" height="10.5" fill="#2effd1"/>
<rect x="455.38" y="182" width="12" height="10.5" fill="#2effd1"/>
<rect x="467.38" y="182" width="2.15" height="10.5" fill="#2effd1"/>
<rect x="469.53" y="182" width="12" height="10.5" fill="#2effd1"/>
<rect x="481.53" y="182" width="1.85" height="10.5" fill="#2effd1"/>
<rect x="483.38" y="182" width="11.9" height="10.5" fill="#2effd1"/>
<rect x="495.28" y="182" width="2.1" height="10.5" fill="#2effd1"/>
<rect x="497.38" y="182" width="12" height="10.5" fill="#2effd1"/>
<rect x="343.53" y="197.3" width="176.9" height="4.7" fill="#00b2ff"/>
<rect x="509.38" y="197.3" width="11.05" height="4.7" fill="#00f0ff"/>
<rect x="455.38" y="197.3" width="12" height="4.7" fill="#4dffb2"/>
<rect x="467.38" y="197.3" width="2.15" height="4.7" fill="#2effd1"/>
<rect x="469.53" y="197.3" width="12" height="4.7" fill="#4dffb2"/>
<rect x="481.53" y="197.3" width="1.85" height="4.7" fill="#2effd1"/>
<rect x="483.38" y="197.3" width="11.9" height="4.7" fill="#4dffb2"/>
<rect x="495.28" y="197.3" width="2.1" height="4.7" fill="#2effd1"/>
<rect x="497.38" y="197.3" width="12" height="4.7" fill="#4dffb2"/>
<rect x="455.38" y="243.5" width="12" height="5.5" fill="#6bff94"/>
<rect x="467.38" y="243.5" width="2.15" height="5.5" fill="#002eff"/>
<rect x="469.53" y="243.5" width="12" height="5.5" fill="#2effd1"/>
<rect x="481.53" y="243.5" width="1.85" height="5.5" fill="#002eff"/>
<rect x="483.38" y="243.5" width="11.9" height="5.5" fill="#4dffb2"/>
<rect x="495.28" y="243.5" width="2.1" height="5.5" fill="#002eff"/>
<rect x="497.38" y="243.5" width="12" height="5.5" fill="#80ff80"/>
<rect x="343.53" y="249" width="176.9" height="3.5" fill="#0075ff"/>
<rect x="509.38" y="249" width="11.05" height="3.5" fill="#004dff"/>
<rect x="455.38" y="249" width="12" height="3.5" fill="#6bff94"/>
<rect x="467.38" y="249" width="2.15" height="3.5" fill="#004dff"/>
<rect x="469.53" y="249" width="12" height="3.5" fill="#2effd1"/>
<rect x="481.53" y="249" width="1.85" height="3.5" fill="#004dff"/>
<rect x="483.38" y="249" width="11.9" height="3.5" fill="#4dffb2"/>
<rect x="495.28" y="249" width="2.1" height="3.5" fill="#004dff"/>
<rect x="497.38" y="249" width="12" height="3.5" fill="#80ff80"/>
<rect x="455.38" y="252.5" width="12" height="2.5" fill="#6bff94"/>
<rect x="467.38" y="252.5" width="2.15" height="2.5" fill="#002eff"/>
<rect x="469.53" y="252.5" width="12" height="2.5" fill="#2effd1"/>
<rect x="481.53" y="252.5" width="1.85" height="2.5" fill="#002eff"/>
<rect x="483.38" y="252.5" width="11.9" height="2.5" fill="#4dffb2"/>
<rect x="495.28" y="252.5" width="2.1" height="2.5" fill="#002eff"/>
<rect x="497.38" y="252.5" width="12" height="2.5" fill="#80ff80"/>
<rect x="455.38" y="265" width="12" height="4" fill="#94ff6b"/>
<rect x="467.38" y="265" width="2.15" height="4" fill="#0019ff"/>
<rect x="469.53" y="265" width="12" height="4" fill="#80ff80"/>
<rect x="481.53" y="265" width="1.85" height="4" fill="#0019ff"/>
<rect x="483.38" y="265" width="11.9" height="4" fill="#4dffb2"/>
<rect x="495.28" y="265" width="2.1" height="4" fill="#0019ff"/>
<rect x="497.38" y="265" width="12" height="4" fill="#57ffa8"/>
<rect x="455.38" y="269" width="12" height="6.5" fill="#6bff94"/>
<rect x="467.38" y="269" width="2.15" height="6.5" fill="#0019ff"/>
<rect x="469.53" y="269" width="12" height="6.5" fill="#57ffa8"/>
<rect x="481.53" y="269" width="1.85" height="6.5" fill="#0019ff"/>
<rect x="483.38" y="269" width="11.9" height="6.5" fill="#1affe5"/>
<rect x="495.28" y="269" width="2.1" height="6.5" fill="#0019ff"/>
<rect x="497.38" y="269" width="12" height="6.5" fill="#38ffc7"/>
<rect x="454.38" y="269" width="56" height="6.5" fill="none" filter="url(#nzm)"/>
<rect x="455.38" y="275.5" width="12" height="12.5" fill="#57ffa8"/>
<rect x="467.38" y="275.5" width="2.15" height="12.5" fill="#0019ff"/>
<rect x="469.53" y="275.5" width="12" height="12.5" fill="#57ffa8"/>
<rect x="481.53" y="275.5" width="1.85" height="12.5" fill="#0019ff"/>
<rect x="483.38" y="275.5" width="11.9" height="12.5" fill="#1affe5"/>
<rect x="495.28" y="275.5" width="2.1" height="12.5" fill="#0019ff"/>
<rect x="497.38" y="275.5" width="12" height="12.5" fill="#24ffdb"/>
<rect x="454.38" y="275.5" width="56" height="12.5" fill="none" filter="url(#nzm)"/>
<rect x="455.38" y="300" width="12" height="12" fill="#c7ff38"/>
<rect x="467.38" y="300" width="2.15" height="12" fill="#000fff"/>
<rect x="469.53" y="300" width="12" height="12" fill="#d1ff2e"/>
<rect x="481.53" y="300" width="1.85" height="12" fill="#000fff"/>
<rect x="483.38" y="300" width="11.9" height="12" fill="#b3ff4c"/>
<rect x="495.28" y="300" width="2.1" height="12" fill="#000fff"/>
<rect x="497.38" y="300" width="12" height="12" fill="#61ff9e"/>
<rect x="455.38" y="312" width="12" height="11.5" fill="#c7ff38"/>
<rect x="467.38" y="312" width="2.15" height="11.5" fill="#000fff"/>
<rect x="469.53" y="312" width="12" height="11.5" fill="#e5ff1a"/>
<rect x="481.53" y="312" width="1.85" height="11.5" fill="#000fff"/>
<rect x="483.38" y="312" width="11.9" height="11.5" fill="#b3ff4c"/>
<rect x="495.28" y="312" width="2.1" height="11.5" fill="#000fff"/>
<rect x="497.38" y="312" width="12" height="11.5" fill="#61ff9e"/>
<rect x="455.38" y="323.5" width="12" height="7" fill="#b3ff4c"/>
<rect x="467.38" y="323.5" width="2.15" height="7" fill="#000fff"/>
<rect x="469.53" y="323.5" width="12" height="7" fill="#ffc700"/>
<rect x="481.53" y="323.5" width="1.85" height="7" fill="#000fff"/>
<rect x="483.38" y="323.5" width="11.9" height="7" fill="#94ff6b"/>
<rect x="495.28" y="323.5" width="2.1" height="7" fill="#000fff"/>
<rect x="497.38" y="323.5" width="12" height="7" fill="#4dffb2"/>
<rect x="455.38" y="330.5" width="12" height="15" fill="#80ff80"/>
<rect x="467.38" y="330.5" width="2.15" height="15" fill="#000fff"/>
<rect x="469.53" y="330.5" width="12" height="15" fill="#b3ff4c"/>
<rect x="481.53" y="330.5" width="1.85" height="15" fill="#000fff"/>
<rect x="483.38" y="330.5" width="11.9" height="15" fill="#80ff80"/>
<rect x="495.28" y="330.5" width="2.1" height="15" fill="#000fff"/>
<rect x="497.38" y="330.5" width="12" height="15" fill="#4dffb2"/>
<rect x="455.38" y="345.5" width="12" height="13.5" fill="#80ff80"/>
<rect x="467.38" y="345.5" width="2.15" height="13.5" fill="#0038ff"/>
<rect x="469.53" y="345.5" width="12" height="13.5" fill="#b3ff4c"/>
<rect x="481.53" y="345.5" width="1.85" height="13.5" fill="#0038ff"/>
<rect x="483.38" y="345.5" width="11.9" height="13.5" fill="#b3ff4c"/>
<rect x="495.28" y="345.5" width="2.1" height="13.5" fill="#0038ff"/>
<rect x="497.38" y="345.5" width="12" height="13.5" fill="#80ff80"/>
<rect x="455.38" y="359" width="12" height="5.5" fill="#94ff6b"/>
<rect x="467.38" y="359" width="2.15" height="5.5" fill="#0019ff"/>
<rect x="469.53" y="359" width="12" height="5.5" fill="#c7ff38"/>
<rect x="481.53" y="359" width="1.85" height="5.5" fill="#0019ff"/>
<rect x="483.38" y="359" width="11.9" height="5.5" fill="#80ff80"/>
<rect x="495.28" y="359" width="2.1" height="5.5" fill="#0019ff"/>
<rect x="497.38" y="359" width="12" height="5.5" fill="#b3ff4c"/>
<rect x="455.38" y="364.5" width="12" height="20.5" fill="#94ff6b"/>
<rect x="467.38" y="364.5" width="2.15" height="20.5" fill="#0019ff"/>
<rect x="469.53" y="364.5" width="12" height="20.5" fill="#c7ff38"/>
<rect x="481.53" y="364.5" width="1.85" height="20.5" fill="#0019ff"/>
<rect x="483.38" y="364.5" width="11.9" height="20.5" fill="#80ff80"/>
<rect x="495.28" y="364.5" width="2.1" height="20.5" fill="#0019ff"/>
<rect x="497.38" y="364.5" width="12" height="20.5" fill="#b3ff4c"/>
<rect x="455.38" y="385" width="12" height="15" fill="#b3ff4c"/>
<rect x="467.38" y="385" width="2.15" height="15" fill="#0019ff"/>
<rect x="469.53" y="385" width="12" height="15" fill="#b3ff4c"/>
<rect x="481.53" y="385" width="1.85" height="15" fill="#0019ff"/>
<rect x="483.38" y="385" width="11.9" height="15" fill="#4dffb2"/>
<rect x="495.28" y="385" width="2.1" height="15" fill="#0019ff"/>
<rect x="497.38" y="385" width="12" height="15" fill="#80ff80"/>
<rect x="455.38" y="400" width="12" height="8.5" fill="#b3ff4c"/>
<rect x="467.38" y="400" width="2.15" height="8.5" fill="#0019ff"/>
<rect x="469.53" y="400" width="12" height="8.5" fill="#94ff6b"/>
<rect x="481.53" y="400" width="1.85" height="8.5" fill="#0019ff"/>
<rect x="483.38" y="400" width="11.9" height="8.5" fill="#80ff80"/>
<rect x="495.28" y="400" width="2.1" height="8.5" fill="#0019ff"/>
<rect x="497.38" y="400" width="12" height="8.5" fill="#b3ff4c"/>
<rect x="343.53" y="408.5" width="176.9" height="4.5" fill="#0094ff"/>
<rect x="509.38" y="408.5" width="11.05" height="4.5" fill="#0094ff"/>
<rect x="455.38" y="408.5" width="12" height="4.5" fill="#b3ff4c"/>
<rect x="467.38" y="408.5" width="2.15" height="4.5" fill="#00b2ff"/>
<rect x="469.53" y="408.5" width="12" height="4.5" fill="#b3ff4c"/>
<rect x="481.53" y="408.5" width="1.85" height="4.5" fill="#00b2ff"/>
<rect x="483.38" y="408.5" width="11.9" height="4.5" fill="#94ff6b"/>
<rect x="495.28" y="408.5" width="2.1" height="4.5" fill="#00b2ff"/>
<rect x="497.38" y="408.5" width="12" height="4.5" fill="#b3ff4c"/>
<rect x="455.38" y="413" width="12" height="4.5" fill="#00b2ff"/>
<rect x="467.38" y="413" width="2.15" height="4.5" fill="#0019ff"/>
<rect x="469.53" y="413" width="12" height="4.5" fill="#00b2ff"/>
<rect x="481.53" y="413" width="1.85" height="4.5" fill="#0019ff"/>
<rect x="483.38" y="413" width="11.9" height="4.5" fill="#00b2ff"/>
<rect x="495.28" y="413" width="2.1" height="4.5" fill="#0019ff"/>
<rect x="497.38" y="413" width="12" height="4.5" fill="#00b2ff"/>
<rect x="455.38" y="417.5" width="12" height="7.5" fill="#80ff80"/>
<rect x="467.38" y="417.5" width="2.15" height="7.5" fill="#0005ff"/>
<rect x="469.53" y="417.5" width="12" height="7.5" fill="#b3ff4c"/>
<rect x="481.53" y="417.5" width="1.85" height="7.5" fill="#0005ff"/>
<rect x="483.38" y="417.5" width="11.9" height="7.5" fill="#94ff6b"/>
<rect x="495.28" y="417.5" width="2.1" height="7.5" fill="#0005ff"/>
<rect x="497.38" y="417.5" width="12" height="7.5" fill="#b3ff4c"/>
<rect x="455.38" y="425" width="12" height="20.5" fill="#b3ff4c"/>
<rect x="467.38" y="425" width="2.15" height="20.5" fill="#0005ff"/>
<rect x="469.53" y="425" width="12" height="20.5" fill="#e5ff1a"/>
<rect x="481.53" y="425" width="1.85" height="20.5" fill="#0005ff"/>
<rect x="483.38" y="425" width="11.9" height="20.5" fill="#b3ff4c"/>
<rect x="495.28" y="425" width="2.1" height="20.5" fill="#0005ff"/>
<rect x="497.38" y="425" width="12" height="20.5" fill="#b3ff4c"/>
<rect x="455.38" y="445.5" width="12" height="6.5" fill="#d1ff2e"/>
<rect x="467.38" y="445.5" width="2.15" height="6.5" fill="#0005ff"/>
<rect x="469.53" y="445.5" width="12" height="6.5" fill="#d1ff2e"/>
<rect x="481.53" y="445.5" width="1.85" height="6.5" fill="#0005ff"/>
<rect x="483.38" y="445.5" width="11.9" height="6.5" fill="#80ff80"/>
<rect x="495.28" y="445.5" width="2.1" height="6.5" fill="#0005ff"/>
<rect x="497.38" y="445.5" width="12" height="6.5" fill="#80ff80"/>
<rect x="455.38" y="452" width="12" height="3" fill="#faff05"/>
<rect x="467.38" y="452" width="2.15" height="3" fill="#0005ff"/>
<rect x="469.53" y="452" width="12" height="3" fill="#faff05"/>
<rect x="481.53" y="452" width="1.85" height="3" fill="#0005ff"/>
<rect x="483.38" y="452" width="11.9" height="3" fill="#80ff80"/>
<rect x="495.28" y="452" width="2.1" height="3" fill="#0005ff"/>
<rect x="497.38" y="452" width="12" height="3" fill="#80ff80"/>
<rect x="455.38" y="455" width="12" height="4" fill="#ff9e00"/>
<rect x="467.38" y="455" width="2.15" height="4" fill="#0005ff"/>
<rect x="469.53" y="455" width="12" height="4" fill="#ffb300"/>
<rect x="481.53" y="455" width="1.85" height="4" fill="#0005ff"/>
<rect x="483.38" y="455" width="11.9" height="4" fill="#6bff94"/>
<rect x="495.28" y="455" width="2.1" height="4" fill="#0005ff"/>
<rect x="497.38" y="455" width="12" height="4" fill="#80ff80"/>
<rect x="455.38" y="459" width="12" height="4" fill="#ff9e00"/>
<rect x="467.38" y="459" width="2.15" height="4" fill="#0005ff"/>
<rect x="469.53" y="459" width="12" height="4" fill="#ffb300"/>
<rect x="481.53" y="459" width="1.85" height="4" fill="#0005ff"/>
<rect x="483.38" y="459" width="11.9" height="4" fill="#6bff94"/>
<rect x="495.28" y="459" width="2.1" height="4" fill="#0005ff"/>
<rect x="497.38" y="459" width="12" height="4" fill="#94ff6b"/>
<rect x="455.38" y="463" width="12" height="4" fill="#e5ff1a"/>
<rect x="467.38" y="463" width="2.15" height="4" fill="#0005ff"/>
<rect x="469.53" y="463" width="12" height="4" fill="#e5ff1a"/>
<rect x="481.53" y="463" width="1.85" height="4" fill="#0005ff"/>
<rect x="483.38" y="463" width="11.9" height="4" fill="#80ff80"/>
<rect x="495.28" y="463" width="2.1" height="4" fill="#0005ff"/>
<rect x="497.38" y="463" width="12" height="4" fill="#e5ff1a"/>
<rect x="455.38" y="467" width="12" height="4.5" fill="#2effd1"/>
<rect x="467.38" y="467" width="2.15" height="4.5" fill="#0005ff"/>
<rect x="469.53" y="467" width="12" height="4.5" fill="#2effd1"/>
<rect x="481.53" y="467" width="1.85" height="4.5" fill="#0005ff"/>
<rect x="483.38" y="467" width="11.9" height="4.5" fill="#2effd1"/>
<rect x="495.28" y="467" width="2.1" height="4.5" fill="#0005ff"/>
<rect x="497.38" y="467" width="12" height="4.5" fill="#1affe5"/>
<rect x="455.38" y="471.5" width="12" height="2.5" fill="#80ff80"/>
<rect x="467.38" y="471.5" width="2.15" height="2.5" fill="#0005ff"/>
<rect x="469.53" y="471.5" width="12" height="2.5" fill="#94ff6b"/>
<rect x="481.53" y="471.5" width="1.85" height="2.5" fill="#0005ff"/>
<rect x="483.38" y="471.5" width="11.9" height="2.5" fill="#94ff6b"/>
<rect x="495.28" y="471.5" width="2.1" height="2.5" fill="#0005ff"/>
<rect x="497.38" y="471.5" width="12" height="2.5" fill="#80ff80"/>
<rect x="455.38" y="474" width="12" height="2" fill="#b3ff4c"/>
<rect x="467.38" y="474" width="2.15" height="2" fill="#0005ff"/>
<rect x="469.53" y="474" width="12" height="2" fill="#ff9e00"/>
<rect x="481.53" y="474" width="1.85" height="2" fill="#0005ff"/>
<rect x="483.38" y="474" width="11.9" height="2" fill="#ff9e00"/>
<rect x="495.28" y="474" width="2.1" height="2" fill="#0005ff"/>
<rect x="497.38" y="474" width="12" height="2" fill="#b3ff4c"/>
<rect x="455.38" y="476" width="12" height="2.5" fill="#80ff80"/>
<rect x="467.38" y="476" width="2.15" height="2.5" fill="#0005ff"/>
<rect x="469.53" y="476" width="12" height="2.5" fill="#b3ff4c"/>
<rect x="481.53" y="476" width="1.85" height="2.5" fill="#0005ff"/>
<rect x="483.38" y="476" width="11.9" height="2.5" fill="#b3ff4c"/>
<rect x="495.28" y="476" width="2.1" height="2.5" fill="#0005ff"/>
<rect x="497.38" y="476" width="12" height="2.5" fill="#80ff80"/>
<rect x="455.38" y="478.5" width="12" height="5" fill="#b3ff4c"/>
<rect x="467.38" y="478.5" width="2.15" height="5" fill="#0005ff"/>
<rect x="469.53" y="478.5" width="12" height="5" fill="#b3ff4c"/>
<rect x="481.53" y="478.5" width="1.85" height="5" fill="#0005ff"/>
<rect x="483.38" y="478.5" width="11.9" height="5" fill="#94ff6b"/>
<rect x="495.28" y="478.5" width="2.1" height="5" fill="#0005ff"/>
<rect x="497.38" y="478.5" width="12" height="5" fill="#b3ff4c"/>
<rect x="455.38" y="483.5" width="12" height="2.5" fill="#2effd1"/>
<rect x="467.38" y="483.5" width="2.15" height="2.5" fill="#0005ff"/>
<rect x="469.53" y="483.5" width="12" height="2.5" fill="#2effd1"/>
<rect x="481.53" y="483.5" width="1.85" height="2.5" fill="#0005ff"/>
<rect x="483.38" y="483.5" width="11.9" height="2.5" fill="#2effd1"/>
<rect x="495.28" y="483.5" width="2.1" height="2.5" fill="#0005ff"/>
<rect x="497.38" y="483.5" width="12" height="2.5" fill="#2effd1"/>
<rect x="455.38" y="486" width="12" height="2.5" fill="#80ff80"/>
<rect x="467.38" y="486" width="2.15" height="2.5" fill="#0005ff"/>
<rect x="469.53" y="486" width="12" height="2.5" fill="#80ff80"/>
<rect x="481.53" y="486" width="1.85" height="2.5" fill="#0005ff"/>
<rect x="483.38" y="486" width="11.9" height="2.5" fill="#80ff80"/>
<rect x="495.28" y="486" width="2.1" height="2.5" fill="#0005ff"/>
<rect x="497.38" y="486" width="12" height="2.5" fill="#80ff80"/>
<rect x="455.38" y="488.5" width="12" height="7.5" fill="#1affe5"/>
<rect x="467.38" y="488.5" width="2.15" height="7.5" fill="#0005ff"/>
<rect x="469.53" y="488.5" width="12" height="7.5" fill="#1affe5"/>
<rect x="481.53" y="488.5" width="1.85" height="7.5" fill="#0005ff"/>
<rect x="483.38" y="488.5" width="11.9" height="7.5" fill="#1affe5"/>
<rect x="495.28" y="488.5" width="2.1" height="7.5" fill="#0005ff"/>
<rect x="497.38" y="488.5" width="12" height="7.5" fill="#1affe5"/>
<rect x="455.38" y="496" width="12" height="11" fill="#80ff80"/>
<rect x="467.38" y="496" width="2.15" height="11" fill="#0005ff"/>
<rect x="469.53" y="496" width="12" height="11" fill="#94ff6b"/>
<rect x="481.53" y="496" width="1.85" height="11" fill="#0005ff"/>
<rect x="483.38" y="496" width="11.9" height="11" fill="#80ff80"/>
<rect x="495.28" y="496" width="2.1" height="11" fill="#0005ff"/>
<rect x="497.38" y="496" width="12" height="11" fill="#80ff80"/>
<rect x="455.38" y="507" width="12" height="10.5" fill="#2effd1"/>
<rect x="467.38" y="507" width="2.15" height="10.5" fill="#0005ff"/>
<rect x="469.53" y="507" width="12" height="10.5" fill="#4dffb2"/>
<rect x="481.53" y="507" width="1.85" height="10.5" fill="#0005ff"/>
<rect x="483.38" y="507" width="11.9" height="10.5" fill="#4dffb2"/>
<rect x="495.28" y="507" width="2.1" height="10.5" fill="#0005ff"/>
<rect x="497.38" y="507" width="12" height="10.5" fill="#2effd1"/>
<rect x="455.38" y="517.5" width="12" height="5" fill="#faff05"/>
<rect x="467.38" y="517.5" width="2.15" height="5" fill="#0005ff"/>
<rect x="469.53" y="517.5" width="12" height="5" fill="#b3ff4c"/>
<rect x="481.53" y="517.5" width="1.85" height="5" fill="#0005ff"/>
<rect x="483.38" y="517.5" width="11.9" height="5" fill="#80ff80"/>
<rect x="495.28" y="517.5" width="2.1" height="5" fill="#0005ff"/>
<rect x="497.38" y="517.5" width="12" height="5" fill="#80ff80"/>
<rect x="455.38" y="522.5" width="12" height="11" fill="#b3ff4c"/>
<rect x="467.38" y="522.5" width="2.15" height="11" fill="#0005ff"/>
<rect x="469.53" y="522.5" width="12" height="11" fill="#c7ff38"/>
<rect x="481.53" y="522.5" width="1.85" height="11" fill="#0005ff"/>
<rect x="483.38" y="522.5" width="11.9" height="11" fill="#94ff6b"/>
<rect x="495.28" y="522.5" width="2.1" height="11" fill="#0005ff"/>
<rect x="497.38" y="522.5" width="12" height="11" fill="#c7ff38"/>
<rect x="455.38" y="533.5" width="12" height="8.1" fill="#b3ff4c"/>
<rect x="467.38" y="533.5" width="2.15" height="8.1" fill="#0005ff"/>
<rect x="469.53" y="533.5" width="12" height="8.1" fill="#c7ff38"/>
<rect x="481.53" y="533.5" width="1.85" height="8.1" fill="#0005ff"/>
<rect x="483.38" y="533.5" width="11.9" height="8.1" fill="#94ff6b"/>
<rect x="495.28" y="533.5" width="2.1" height="8.1" fill="#0005ff"/>
<rect x="497.38" y="533.5" width="12" height="8.1" fill="#c7ff38"/>
<rect x="455.38" y="541.6" width="12" height="5.4" fill="#fff000"/>
<rect x="467.38" y="541.6" width="2.15" height="5.4" fill="#0005ff"/>
<rect x="469.53" y="541.6" width="12" height="5.4" fill="#faff05"/>
<rect x="481.53" y="541.6" width="1.85" height="5.4" fill="#0005ff"/>
<rect x="483.38" y="541.6" width="11.9" height="5.4" fill="#94ff6b"/>
<rect x="495.28" y="541.6" width="2.1" height="5.4" fill="#0005ff"/>
<rect x="497.38" y="541.6" width="12" height="5.4" fill="#c7ff38"/>
<rect x="343.53" y="547" width="176.9" height="3.5" fill="#008aff"/>
<rect x="509.38" y="547" width="11.05" height="3.5" fill="#004dff"/>
<rect x="455.38" y="547" width="12" height="3.5" fill="#ffc700"/>
<rect x="467.38" y="547" width="2.15" height="3.5" fill="#004dff"/>
<rect x="469.53" y="547" width="12" height="3.5" fill="#ffdb00"/>
<rect x="481.53" y="547" width="1.85" height="3.5" fill="#004dff"/>
<rect x="483.38" y="547" width="11.9" height="3.5" fill="#b3ff4c"/>
<rect x="495.28" y="547" width="2.1" height="3.5" fill="#004dff"/>
<rect x="497.38" y="547" width="12" height="3.5" fill="#b3ff4c"/>
<rect x="455.38" y="550.5" width="12" height="6.5" fill="#c7ff38"/>
<rect x="467.38" y="550.5" width="2.15" height="6.5" fill="#0005ff"/>
<rect x="469.53" y="550.5" width="12" height="6.5" fill="#d1ff2e"/>
<rect x="481.53" y="550.5" width="1.85" height="6.5" fill="#0005ff"/>
<rect x="483.38" y="550.5" width="11.9" height="6.5" fill="#c7ff38"/>
<rect x="495.28" y="550.5" width="2.1" height="6.5" fill="#0005ff"/>
<rect x="497.38" y="550.5" width="12" height="6.5" fill="#c7ff38"/>
<rect x="455.38" y="557" width="12" height="5" fill="#c7ff38"/>
<rect x="467.38" y="557" width="2.15" height="5" fill="#0005ff"/>
<rect x="469.53" y="557" width="12" height="5" fill="#ffdb00"/>
<rect x="481.53" y="557" width="1.85" height="5" fill="#0005ff"/>
<rect x="483.38" y="557" width="11.9" height="5" fill="#d1ff2e"/>
<rect x="495.28" y="557" width="2.1" height="5" fill="#0005ff"/>
<rect x="497.38" y="557" width="12" height="5" fill="#c7ff38"/>
<rect x="455.38" y="562" width="12" height="6" fill="#c7ff38"/>
<rect x="467.38" y="562" width="2.15" height="6" fill="#0005ff"/>
<rect x="469.53" y="562" width="12" height="6" fill="#d1ff2e"/>
<rect x="481.53" y="562" width="1.85" height="6" fill="#0005ff"/>
<rect x="483.38" y="562" width="11.9" height="6" fill="#c7ff38"/>
<rect x="495.28" y="562" width="2.1" height="6" fill="#0005ff"/>
<rect x="497.38" y="562" width="12" height="6" fill="#c7ff38"/>
<rect x="455.38" y="568" width="12" height="3" fill="#b3ff4c"/>
<rect x="467.38" y="568" width="2.15" height="3" fill="#0005ff"/>
<rect x="469.53" y="568" width="12" height="3" fill="#b3ff4c"/>
<rect x="481.53" y="568" width="1.85" height="3" fill="#0005ff"/>
<rect x="483.38" y="568" width="11.9" height="3" fill="#b3ff4c"/>
<rect x="495.28" y="568" width="2.1" height="3" fill="#0005ff"/>
<rect x="497.38" y="568" width="12" height="3" fill="#b3ff4c"/>
<rect x="455.38" y="571" width="12" height="2" fill="#e5ff1a"/>
<rect x="467.38" y="571" width="2.15" height="2" fill="#0019ff"/>
<rect x="469.53" y="571" width="12" height="2" fill="#e5ff1a"/>
<rect x="481.53" y="571" width="1.85" height="2" fill="#0019ff"/>
<rect x="483.38" y="571" width="11.9" height="2" fill="#d1ff2e"/>
<rect x="495.28" y="571" width="2.1" height="2" fill="#0019ff"/>
<rect x="497.38" y="571" width="12" height="2" fill="#bdff42"/>
<rect x="455.38" y="573" width="12" height="6.5" fill="#ffc700"/>
<rect x="467.38" y="573" width="2.15" height="6.5" fill="#0019ff"/>
<rect x="469.53" y="573" width="12" height="6.5" fill="#ffdb00"/>
<rect x="481.53" y="573" width="1.85" height="6.5" fill="#0019ff"/>
<rect x="483.38" y="573" width="11.9" height="6.5" fill="#faff05"/>
<rect x="495.28" y="573" width="2.1" height="6.5" fill="#0019ff"/>
<rect x="497.38" y="573" width="12" height="6.5" fill="#e5ff1a"/>
<rect x="455.38" y="579.5" width="12" height="1.5" fill="#e5ff1a"/>
<rect x="467.38" y="579.5" width="2.15" height="1.5" fill="#0019ff"/>
<rect x="469.53" y="579.5" width="12" height="1.5" fill="#e5ff1a"/>
<rect x="481.53" y="579.5" width="1.85" height="1.5" fill="#0019ff"/>
<rect x="483.38" y="579.5" width="11.9" height="1.5" fill="#d1ff2e"/>
<rect x="495.28" y="579.5" width="2.1" height="1.5" fill="#0019ff"/>
<rect x="497.38" y="579.5" width="12" height="1.5" fill="#bdff42"/>
<rect x="455.38" y="581" width="12" height="9.5" fill="#94ff6b"/>
<rect x="467.38" y="581" width="2.15" height="9.5" fill="#0005ff"/>
<rect x="469.53" y="581" width="12" height="9.5" fill="#c7ff38"/>
<rect x="481.53" y="581" width="1.85" height="9.5" fill="#0005ff"/>
<rect x="483.38" y="581" width="11.9" height="9.5" fill="#b3ff4c"/>
<rect x="495.28" y="581" width="2.1" height="9.5" fill="#0005ff"/>
<rect x="497.38" y="581" width="12" height="9.5" fill="#c7ff38"/>
<rect x="455.38" y="590.5" width="12" height="5" fill="#ffe500"/>
<rect x="467.38" y="590.5" width="2.15" height="5" fill="#0005ff"/>
<rect x="469.53" y="590.5" width="12" height="5" fill="#ffdb00"/>
<rect x="481.53" y="590.5" width="1.85" height="5" fill="#0005ff"/>
<rect x="483.38" y="590.5" width="11.9" height="5" fill="#faff05"/>
<rect x="495.28" y="590.5" width="2.1" height="5" fill="#0005ff"/>
<rect x="497.38" y="590.5" width="12" height="5" fill="#fff000"/>
<rect x="455.38" y="595.5" width="12" height="5" fill="#ffd100"/>
<rect x="467.38" y="595.5" width="2.15" height="5" fill="#000fff"/>
<rect x="469.53" y="595.5" width="12" height="5" fill="#ffd100"/>
<rect x="481.53" y="595.5" width="1.85" height="5" fill="#000fff"/>
<rect x="483.38" y="595.5" width="11.9" height="5" fill="#e5ff1a"/>
<rect x="495.28" y="595.5" width="2.1" height="5" fill="#000fff"/>
<rect x="497.38" y="595.5" width="12" height="5" fill="#fffa00"/>
<rect x="455.38" y="600.5" width="12" height="6.5" fill="#6bff94"/>
<rect x="467.38" y="600.5" width="2.15" height="6.5" fill="#0005ff"/>
<rect x="469.53" y="600.5" width="12" height="6.5" fill="#57ffa8"/>
<rect x="481.53" y="600.5" width="1.85" height="6.5" fill="#0005ff"/>
<rect x="483.38" y="600.5" width="11.9" height="6.5" fill="#57ffa8"/>
<rect x="495.28" y="600.5" width="2.1" height="6.5" fill="#0005ff"/>
<rect x="497.38" y="600.5" width="12" height="6.5" fill="#80ff80"/>
<rect x="454.38" y="600.5" width="56" height="6.5" fill="none" filter="url(#nzm)"/>
<rect x="455.38" y="607" width="12" height="10" fill="#61ff9e"/>
<rect x="467.38" y="607" width="2.15" height="10" fill="#0005ff"/>
<rect x="469.53" y="607" width="12" height="10" fill="#4dffb2"/>
<rect x="481.53" y="607" width="1.85" height="10" fill="#0005ff"/>
<rect x="483.38" y="607" width="11.9" height="10" fill="#4dffb2"/>
<rect x="495.28" y="607" width="2.1" height="10" fill="#0005ff"/>
<rect x="497.38" y="607" width="12" height="10" fill="#80ff80"/>
<rect x="454.38" y="607" width="56" height="10" fill="none" filter="url(#nzm)"/>
<rect x="455.38" y="617" width="12" height="4" fill="#4dffb2"/>
<rect x="467.38" y="617" width="2.15" height="4" fill="#0005ff"/>
<rect x="469.53" y="617" width="12" height="4" fill="#42ffbd"/>
<rect x="481.53" y="617" width="1.85" height="4" fill="#0005ff"/>
<rect x="483.38" y="617" width="11.9" height="4" fill="#42ffbd"/>
<rect x="495.28" y="617" width="2.1" height="4" fill="#0005ff"/>
<rect x="497.38" y="617" width="12" height="4" fill="#61ff9e"/>
<rect x="454.38" y="617" width="56" height="4" fill="none" filter="url(#nzm)"/>
<rect x="343.53" y="625.5" width="176.9" height="14.5" fill="#0080ff"/>
<rect x="509.38" y="625.5" width="11.05" height="14.5" fill="#0075ff"/>
<rect x="455.38" y="625.5" width="12" height="14.5" fill="#42ffbd"/>
<rect x="467.38" y="625.5" width="2.15" height="14.5" fill="#0094ff"/>
<rect x="469.53" y="625.5" width="12" height="14.5" fill="#2effd1"/>
<rect x="481.53" y="625.5" width="1.85" height="14.5" fill="#0094ff"/>
<rect x="483.38" y="625.5" width="11.9" height="14.5" fill="#38ffc7"/>
<rect x="495.28" y="625.5" width="2.1" height="14.5" fill="#0094ff"/>
<rect x="497.38" y="625.5" width="12" height="14.5" fill="#2effd1"/>
<rect x="343.53" y="625.5" width="111.85" height="14.5" fill="none" filter="url(#nzm)"/>
<rect x="509.38" y="625.5" width="11.05" height="14.5" fill="none" filter="url(#nzm)"/>
<rect x="343.53" y="640" width="176.9" height="6" fill="#0080ff"/>
<rect x="509.38" y="640" width="11.05" height="6" fill="#0075ff"/>
<rect x="455.38" y="640" width="12" height="6" fill="#38ffc7"/>
<rect x="467.38" y="640" width="2.15" height="6" fill="#0094ff"/>
<rect x="469.53" y="640" width="12" height="6" fill="#2effd1"/>
<rect x="481.53" y="640" width="1.85" height="6" fill="#0094ff"/>
<rect x="483.38" y="640" width="11.9" height="6" fill="#38ffc7"/>
<rect x="495.28" y="640" width="2.1" height="6" fill="#0094ff"/>
<rect x="497.38" y="640" width="12" height="6" fill="#2effd1"/>
<rect x="343.53" y="640" width="111.85" height="6" fill="none" filter="url(#nzm)"/>
<rect x="509.38" y="640" width="11.05" height="6" fill="none" filter="url(#nzm)"/>
<rect x="343.53" y="646" width="176.9" height="2" fill="#008aff"/>
<rect x="509.38" y="646" width="11.05" height="2" fill="#008aff"/>
<rect x="455.38" y="646" width="12" height="2" fill="#2effd1"/>
<rect x="467.38" y="646" width="2.15" height="2" fill="#0094ff"/>
<rect x="469.53" y="646" width="12" height="2" fill="#24ffdb"/>
<rect x="481.53" y="646" width="1.85" height="2" fill="#0094ff"/>
<rect x="483.38" y="646" width="11.9" height="2" fill="#2effd1"/>
<rect x="495.28" y="646" width="2.1" height="2" fill="#0094ff"/>
<rect x="497.38" y="646" width="12" height="2" fill="#24ffdb"/>
<rect x="343.53" y="648" width="176.9" height="4" fill="#008aff"/>
<rect x="509.38" y="648" width="11.05" height="4" fill="#008aff"/>
<rect x="455.38" y="648" width="12" height="4" fill="#2effd1"/>
<rect x="467.38" y="648" width="2.15" height="4" fill="#0094ff"/>
<rect x="469.53" y="648" width="12" height="4" fill="#1affe5"/>
<rect x="481.53" y="648" width="1.85" height="4" fill="#0094ff"/>
<rect x="483.38" y="648" width="11.9" height="4" fill="#2effd1"/>
<rect x="495.28" y="648" width="2.1" height="4" fill="#0094ff"/>
<rect x="497.38" y="648" width="12" height="4" fill="#1affe5"/>
<rect x="455.38" y="655" width="12" height="3" fill="#4dffb2"/>
<rect x="467.38" y="655" width="2.15" height="3" fill="#004dff"/>
<rect x="469.53" y="655" width="12" height="3" fill="#4dffb2"/>
<rect x="481.53" y="655" width="1.85" height="3" fill="#004dff"/>
<rect x="483.38" y="655" width="11.9" height="3" fill="#4dffb2"/>
<rect x="495.28" y="655" width="2.1" height="3" fill="#004dff"/>
<rect x="497.38" y="655" width="12" height="3" fill="#4dffb2"/>
<rect x="455.38" y="658" width="12" height="4" fill="#ffc700"/>
<rect x="467.38" y="658" width="2.15" height="4" fill="#00b2ff"/>
<rect x="469.53" y="658" width="12" height="4" fill="#ffc700"/>
<rect x="481.53" y="658" width="1.85" height="4" fill="#00b2ff"/>
<rect x="483.38" y="658" width="11.9" height="4" fill="#ffd100"/>
<rect x="495.28" y="658" width="2.1" height="4" fill="#00b2ff"/>
<rect x="497.38" y="658" width="12" height="4" fill="#ffdb00"/>
<rect x="455.38" y="662" width="12" height="1" fill="#80ff80"/>
<rect x="467.38" y="662" width="2.15" height="1" fill="#00b2ff"/>
<rect x="469.53" y="662" width="12" height="1" fill="#faff05"/>
<rect x="481.53" y="662" width="1.85" height="1" fill="#00b2ff"/>
<rect x="483.38" y="662" width="11.9" height="1" fill="#faff05"/>
<rect x="495.28" y="662" width="2.1" height="1" fill="#00b2ff"/>
<rect x="497.38" y="662" width="12" height="1" fill="#80ff80"/>
<rect x="455.38" y="663" width="12" height="3" fill="#ffd100"/>
<rect x="467.38" y="663" width="2.15" height="3" fill="#00e5ff"/>
<rect x="469.53" y="663" width="12" height="3" fill="#ffc700"/>
<rect x="481.53" y="663" width="1.85" height="3" fill="#00e5ff"/>
<rect x="483.38" y="663" width="11.9" height="3" fill="#ffdb00"/>
<rect x="495.28" y="663" width="2.1" height="3" fill="#00e5ff"/>
<rect x="497.38" y="663" width="12" height="3" fill="#fff000"/>
<rect x="343.53" y="666" width="176.9" height="6" fill="#0094ff"/>
<rect x="509.38" y="666" width="11.05" height="6" fill="#0080ff"/>
<rect x="455.38" y="666" width="12" height="6" fill="#e5ff1a"/>
<rect x="467.38" y="666" width="2.15" height="6" fill="#00e5ff"/>
<rect x="469.53" y="666" width="12" height="6" fill="#e5ff1a"/>
<rect x="481.53" y="666" width="1.85" height="6" fill="#00e5ff"/>
<rect x="483.38" y="666" width="11.9" height="6" fill="#e5ff1a"/>
<rect x="495.28" y="666" width="2.1" height="6" fill="#00e5ff"/>
<rect x="497.38" y="666" width="12" height="6" fill="#b3ff4c"/>
<rect x="343.53" y="672" width="176.9" height="7" fill="#ffb300"/>
<rect x="509.38" y="672" width="11.05" height="7" fill="#ffdb00"/>
<rect x="455.38" y="672" width="12" height="7" fill="#fa0000"/>
<rect x="467.38" y="672" width="2.15" height="7" fill="#ffb300"/>
<rect x="469.53" y="672" width="12" height="7" fill="#fa0000"/>
<rect x="481.53" y="672" width="1.85" height="7" fill="#ffb300"/>
<rect x="483.38" y="672" width="11.9" height="7" fill="#fa0000"/>
<rect x="495.28" y="672" width="2.1" height="7" fill="#ffb300"/>
<rect x="497.38" y="672" width="12" height="7" fill="#fa0000"/>
<rect x="343.53" y="679" width="176.9" height="4" fill="#ff7500"/>
<rect x="509.38" y="679" width="11.05" height="4" fill="#ff8a00"/>
<rect x="455.38" y="679" width="12" height="4" fill="#fa0000"/>
<rect x="467.38" y="679" width="2.15" height="4" fill="#ff4c00"/>
<rect x="469.53" y="679" width="12" height="4" fill="#fa0000"/>
<rect x="481.53" y="679" width="1.85" height="4" fill="#ff4c00"/>
<rect x="483.38" y="679" width="11.9" height="4" fill="#fa0000"/>
<rect x="495.28" y="679" width="2.1" height="4" fill="#ff4c00"/>
<rect x="497.38" y="679" width="12" height="4" fill="#fa0000"/>
<rect x="343.53" y="683" width="176.9" height="2" fill="#ffc700"/>
<rect x="509.38" y="683" width="11.05" height="2" fill="#ffc700"/>
<rect x="455.38" y="683" width="12" height="2" fill="#c70000"/>
<rect x="467.38" y="683" width="2.15" height="2" fill="#ff1a00"/>
<rect x="469.53" y="683" width="12" height="2" fill="#c70000"/>
<rect x="481.53" y="683" width="1.85" height="2" fill="#ff1a00"/>
<rect x="483.38" y="683" width="11.9" height="2" fill="#c70000"/>
<rect x="495.28" y="683" width="2.1" height="2" fill="#ff1a00"/>
<rect x="497.38" y="683" width="12" height="2" fill="#c70000"/>
<rect x="343.53" y="685" width="176.9" height="2.7" fill="#00b2ff"/>
<rect x="509.38" y="685" width="11.05" height="2.7" fill="#4dffb2"/>
<rect x="455.38" y="685" width="12" height="2.7" fill="#b30000"/>
<rect x="467.38" y="685" width="2.15" height="2.7" fill="#ff1a00"/>
<rect x="469.53" y="685" width="12" height="2.7" fill="#b30000"/>
<rect x="481.53" y="685" width="1.85" height="2.7" fill="#ff1a00"/>
<rect x="483.38" y="685" width="11.9" height="2.7" fill="#b30000"/>
<rect x="495.28" y="685" width="2.1" height="2.7" fill="#ff1a00"/>
<rect x="497.38" y="685" width="12" height="2.7" fill="#b30000"/>
<rect x="343.53" y="687.7" width="176.9" height="1.1" fill="#00b2ff"/>
<rect x="509.38" y="687.7" width="11.05" height="1.1" fill="#1affe5"/>
<rect x="455.38" y="687.7" width="12" height="1.1" fill="#e5ff1a"/>
<rect x="467.38" y="687.7" width="2.15" height="1.1" fill="#80ff80"/>
<rect x="469.53" y="687.7" width="12" height="1.1" fill="#e5ff1a"/>
<rect x="481.53" y="687.7" width="1.85" height="1.1" fill="#80ff80"/>
<rect x="483.38" y="687.7" width="11.9" height="1.1" fill="#e5ff1a"/>
<rect x="495.28" y="687.7" width="2.1" height="1.1" fill="#80ff80"/>
<rect x="497.38" y="687.7" width="12" height="1.1" fill="#e5ff1a"/>
<rect x="455.38" y="688.8" width="12" height="3.8" fill="#2effd1"/>
<rect x="467.38" y="688.8" width="2.15" height="3.8" fill="#0080ff"/>
<rect x="469.53" y="688.8" width="12" height="3.8" fill="#2effd1"/>
<rect x="481.53" y="688.8" width="1.85" height="3.8" fill="#0080ff"/>
<rect x="483.38" y="688.8" width="11.9" height="3.8" fill="#2effd1"/>
<rect x="495.28" y="688.8" width="2.1" height="3.8" fill="#0080ff"/>
<rect x="497.38" y="688.8" width="12" height="3.8" fill="#2effd1"/>
<rect x="455.38" y="692.6" width="12" height="6" fill="#1affe5"/>
<rect x="467.38" y="692.6" width="2.15" height="6" fill="#0080ff"/>
<rect x="469.53" y="692.6" width="12" height="6" fill="#1affe5"/>
<rect x="481.53" y="692.6" width="1.85" height="6" fill="#0080ff"/>
<rect x="483.38" y="692.6" width="11.9" height="6" fill="#1affe5"/>
<rect x="495.28" y="692.6" width="2.1" height="6" fill="#0080ff"/>
<rect x="497.38" y="692.6" width="12" height="6" fill="#1affe5"/>
<rect x="343.53" y="698.6" width="176.9" height="2.4" fill="#faff05"/>
<rect x="509.38" y="698.6" width="11.05" height="2.4" fill="#e5ff1a"/>
<rect x="455.38" y="698.6" width="12" height="2.4" fill="#ffb300"/>
<rect x="467.38" y="698.6" width="2.15" height="2.4" fill="#ffe500"/>
<rect x="469.53" y="698.6" width="12" height="2.4" fill="#ffb300"/>
<rect x="481.53" y="698.6" width="1.85" height="2.4" fill="#ffe500"/>
<rect x="483.38" y="698.6" width="11.9" height="2.4" fill="#ffb300"/>
<rect x="495.28" y="698.6" width="2.1" height="2.4" fill="#ffe500"/>
<rect x="497.38" y="698.6" width="12" height="2.4" fill="#ffb300"/>
<rect x="455.38" y="701" width="12" height="3" fill="#ff8000"/>
<rect x="467.38" y="701" width="2.15" height="3" fill="#1affe5"/>
<rect x="469.53" y="701" width="12" height="3" fill="#ff9400"/>
<rect x="481.53" y="701" width="1.85" height="3" fill="#1affe5"/>
<rect x="483.38" y="701" width="11.9" height="3" fill="#ff9e00"/>
<rect x="495.28" y="701" width="2.1" height="3" fill="#1affe5"/>
<rect x="497.38" y="701" width="12" height="3" fill="#fff000"/>
<rect x="455.38" y="704" width="12" height="3" fill="#ffbd00"/>
<rect x="467.38" y="704" width="2.15" height="3" fill="#1affe5"/>
<rect x="469.53" y="704" width="12" height="3" fill="#ffb300"/>
<rect x="481.53" y="704" width="1.85" height="3" fill="#1affe5"/>
<rect x="483.38" y="704" width="11.9" height="3" fill="#ffd100"/>
<rect x="495.28" y="704" width="2.1" height="3" fill="#1affe5"/>
<rect x="497.38" y="704" width="12" height="3" fill="#e5ff1a"/>
<rect x="455.38" y="707" width="12" height="2.7" fill="#ffdb00"/>
<rect x="467.38" y="707" width="2.15" height="2.7" fill="#1affe5"/>
<rect x="469.53" y="707" width="12" height="2.7" fill="#ffc700"/>
<rect x="481.53" y="707" width="1.85" height="2.7" fill="#1affe5"/>
<rect x="483.38" y="707" width="11.9" height="2.7" fill="#fff000"/>
<rect x="495.28" y="707" width="2.1" height="2.7" fill="#1affe5"/>
<rect x="497.38" y="707" width="12" height="2.7" fill="#d1ff2e"/>
<rect x="343.53" y="709.7" width="176.9" height="10.3" fill="#0080ff"/>
<rect x="509.38" y="709.7" width="11.05" height="10.3" fill="#0080ff"/>
<rect x="455.38" y="709.7" width="12" height="10.3" fill="#4dffb2"/>
<rect x="467.38" y="709.7" width="2.15" height="10.3" fill="#00b2ff"/>
<rect x="469.53" y="709.7" width="12" height="10.3" fill="#80ff80"/>
<rect x="481.53" y="709.7" width="1.85" height="10.3" fill="#00b2ff"/>
<rect x="483.38" y="709.7" width="11.9" height="10.3" fill="#6bff94"/>
<rect x="495.28" y="709.7" width="2.1" height="10.3" fill="#00b2ff"/>
<rect x="497.38" y="709.7" width="12" height="10.3" fill="#1affe5"/>
<rect x="343.53" y="183.00" width="176.90" height="9.50" fill="none" filter="url(#nzy)" opacity="0.50"/>
<rect x="343.53" y="183.00" width="176.90" height="9.50" fill="none" filter="url(#nzc)"/>
<rect x="343.53" y="197.30" width="176.90" height="4.10" fill="none" filter="url(#nzy)" opacity="0.50"/>
<rect x="343.53" y="197.30" width="176.90" height="4.10" fill="none" filter="url(#nzc)"/>
<rect x="480.28" y="255" width="33" height="9" fill="#bdff42"/>
<rect x="451.53" y="264" width="57.8" height="1" fill="#1affe5"/>
<rect x="355.68" y="183.2" width="1.2" height="2.8" fill="#e81000"/>
<rect x="355.68" y="189" width="1.2" height="2.6" fill="#e81000"/>
<rect x="355.68" y="197.3" width="1.2" height="2.6" fill="#e81000"/>
<rect x="354.68" y="199.6" width="3.2" height="1.7" fill="#e81000"/>
<rect x="355.78" y="178" width="1" height="3.5" fill="#ff6000"/>
<rect x="368.9" y="183.2" width="1.2" height="1.8" fill="#ff8a00"/>
<rect x="368.9" y="189" width="1.2" height="1.6" fill="#ff8a00"/>
<rect x="368.9" y="197.3" width="1.2" height="1.6" fill="#ff8a00"/>
<rect x="368.5" y="199.6" width="2" height="1.7" fill="#ff8a00"/>
<rect x="395.34" y="183.2" width="1.2" height="2.8" fill="#e81000"/>
<rect x="395.34" y="189" width="1.2" height="2.6" fill="#e81000"/>
<rect x="395.34" y="197.3" width="1.2" height="2.6" fill="#e81000"/>
<rect x="394.34" y="199.6" width="3.2" height="1.7" fill="#e81000"/>
<rect x="395.44" y="178" width="1" height="3.5" fill="#ff6000"/>
<rect x="408.56" y="183.2" width="1.2" height="1.8" fill="#ff8a00"/>
<rect x="408.56" y="189" width="1.2" height="1.6" fill="#ff8a00"/>
<rect x="408.56" y="197.3" width="1.2" height="1.6" fill="#ff8a00"/>
<rect x="408.16" y="199.6" width="2" height="1.7" fill="#ff8a00"/>
<rect x="421.78" y="183.2" width="1.2" height="1.8" fill="#ff8a00"/>
<rect x="421.78" y="189" width="1.2" height="1.6" fill="#ff8a00"/>
<rect x="421.78" y="197.3" width="1.2" height="1.6" fill="#ff8a00"/>
<rect x="421.38" y="199.6" width="2" height="1.7" fill="#ff8a00"/>
<rect x="435" y="183.2" width="1.2" height="2.8" fill="#e81000"/>
<rect x="435" y="189" width="1.2" height="2.6" fill="#e81000"/>
<rect x="435" y="197.3" width="1.2" height="2.6" fill="#e81000"/>
<rect x="434" y="199.6" width="3.2" height="1.7" fill="#e81000"/>
<rect x="435.1" y="178" width="1" height="3.5" fill="#ff6000"/>
<rect x="448.22" y="183.2" width="1.2" height="1.8" fill="#ff8a00"/>
<rect x="448.22" y="189" width="1.2" height="1.6" fill="#ff8a00"/>
<rect x="448.22" y="197.3" width="1.2" height="1.6" fill="#ff8a00"/>
<rect x="447.82" y="199.6" width="2" height="1.7" fill="#ff8a00"/>
<rect x="461.44" y="183.2" width="1.2" height="1.8" fill="#ff8a00"/>
<rect x="461.44" y="189" width="1.2" height="1.6" fill="#ff8a00"/>
<rect x="461.44" y="197.3" width="1.2" height="1.6" fill="#ff8a00"/>
<rect x="461.04" y="199.6" width="2" height="1.7" fill="#ff8a00"/>
<rect x="474.66" y="183.2" width="1.2" height="1.8" fill="#ff8a00"/>
<rect x="474.66" y="189" width="1.2" height="1.6" fill="#ff8a00"/>
<rect x="474.66" y="197.3" width="1.2" height="1.6" fill="#ff8a00"/>
<rect x="474.26" y="199.6" width="2" height="1.7" fill="#ff8a00"/>
<rect x="487.88" y="183.2" width="1.2" height="1.8" fill="#ff8a00"/>
<rect x="487.88" y="189" width="1.2" height="1.6" fill="#ff8a00"/>
<rect x="487.88" y="197.3" width="1.2" height="1.6" fill="#ff8a00"/>
<rect x="487.48" y="199.6" width="2" height="1.7" fill="#ff8a00"/>
<rect x="501.1" y="183.2" width="1.2" height="2.8" fill="#e81000"/>
<rect x="501.1" y="189" width="1.2" height="2.6" fill="#e81000"/>
<rect x="501.1" y="197.3" width="1.2" height="2.6" fill="#e81000"/>
<rect x="500.1" y="199.6" width="3.2" height="1.7" fill="#e81000"/>
<rect x="501.2" y="178" width="1" height="3.5" fill="#ff6000"/>
<rect x="514.32" y="183.2" width="1.2" height="1.8" fill="#ff8a00"/>
<rect x="514.32" y="189" width="1.2" height="1.6" fill="#ff8a00"/>
<rect x="514.32" y="197.3" width="1.2" height="1.6" fill="#ff8a00"/>
<rect x="513.92" y="199.6" width="2" height="1.7" fill="#ff8a00"/>
<rect x="363.93" y="178" width="64" height="4" fill="url(#hs)"/>
<rect x="394.93" y="183.2" width="2" height="9.3" fill="#e01000"/>
<rect x="394.93" y="197.3" width="2" height="4" fill="#e01000"/>
<rect x="496.53" y="178" width="24" height="1.2" fill="#ff7000" opacity="0.9"/>
<rect x="484.53" y="178" width="12" height="1.2" fill="#ffe000" opacity="0.8"/>
<ellipse cx="395.93" cy="206.5" rx="15" ry="4.5" fill="url(#hr)"/>
<rect x="394.93" y="204.2" width="2" height="7" fill="#f02000"/>
<rect x="394.43" y="212.3" width="3" height="1.2" fill="#40ffc0"/>
<rect x="395.13" y="211" width="1.6" height="3.5" fill="#ff6000"/>
<rect x="390.28" y="89.5" width="2" height="1.5" fill="#60ffa0"/>
<ellipse cx="391.28" cy="96" rx="6" ry="1.6" fill="url(#hr)"/>
<rect x="390.28" y="95.2" width="2" height="1.8" fill="#f01000"/>
<rect x="390.28" y="99" width="2" height="1" fill="#ffe000"/>
<rect x="390.28" y="105" width="2" height="2" fill="#ffd000"/>
<rect x="415.03" y="105.5" width="1.2" height="1.5" fill="#30ffd0"/>
<rect x="443.53" y="571.50" width="11.85" height="9.00" fill="url(#hz)" opacity="0.40"/>
<rect x="443.53" y="658.00" width="11.85" height="8.00" fill="url(#hz)" opacity="0.50"/>
<rect x="443.53" y="701.00" width="11.85" height="8.70" fill="url(#hz)" opacity="0.40"/>
<rect x="423.53" y="685" width="31.85" height="3.8" fill="url(#ho)"/>
<rect x="343.53" y="84" width="176.9" height="1" fill="#fff"/>
<rect x="343.53" y="85" width="176.9" height="2" fill="#000"/>
<rect x="343.53" y="91" width="176.9" height="2" fill="#000"/>
<rect x="343.53" y="94.2" width="176.9" height="0.8" fill="#fff"/>
<rect x="343.53" y="97.3" width="176.9" height="1.7" fill="#000"/>
<rect x="343.53" y="100" width="176.9" height="5" fill="#fff"/>
<rect x="343.53" y="107" width="176.9" height="8" fill="#000"/>
<rect x="343.53" y="115" width="176.9" height="1" fill="#fff"/>
<rect x="343.53" y="116" width="176.9" height="2" fill="#000"/>
<rect x="343.53" y="118" width="176.9" height="1" fill="#fff"/>
<rect x="343.53" y="119" width="176.9" height="1" fill="#000"/>
<rect x="343.53" y="120" width="176.9" height="1" fill="#fff"/>
<rect x="343.53" y="121" width="176.9" height="5" fill="#000"/>
<rect x="343.53" y="126" width="176.9" height="1" fill="#fff"/>
<rect x="343.53" y="127" width="176.9" height="2" fill="#000"/>
<rect x="343.53" y="129" width="176.9" height="5" fill="#fff"/>
<rect x="343.53" y="134" width="176.9" height="1" fill="#000"/>
<rect x="343.53" y="137" width="176.9" height="1" fill="#000"/>
<rect x="343.53" y="139" width="176.9" height="1" fill="#000"/>
<rect x="343.53" y="140" width="176.9" height="0.7" fill="#fff"/>
<rect x="343.53" y="140.7" width="176.9" height="0.5" fill="#000"/>
<rect x="343.53" y="142.4" width="176.9" height="1.9" fill="#fff"/>
<rect x="343.53" y="145.5" width="176.9" height="1" fill="#000"/>
<rect x="343.53" y="149" width="176.9" height="1" fill="#000"/>
<rect x="343.53" y="150" width="176.9" height="4" fill="#fff"/>
<rect x="343.53" y="158" width="176.9" height="1.2" fill="#000"/>
<rect x="343.53" y="159.2" width="176.9" height="7.8" fill="#fff"/>
<rect x="343.53" y="177" width="176.9" height="1" fill="#000"/>
<rect x="343.53" y="182" width="176.9" height="1.2" fill="#000"/>
<rect x="343.53" y="186.7" width="176.9" height="2.3" fill="#000"/>
<rect x="343.53" y="192.6" width="176.9" height="3.4" fill="#fff"/>
<rect x="343.53" y="201.3" width="176.9" height="1.2" fill="#000"/>
<rect x="343.53" y="202.8" width="176.9" height="1.2" fill="#fff"/>
<rect x="343.53" y="223.5" width="176.9" height="8.5" fill="#000"/>
<rect x="343.53" y="240" width="176.9" height="1" fill="#fff"/>
<rect x="343.53" y="243.5" width="176.9" height="5.5" fill="#fff"/>
<rect x="343.53" y="252" width="176.9" height="1" fill="#fff"/>
<rect x="343.53" y="275" width="176.9" height="1" fill="#000"/>
<rect x="343.53" y="283" width="176.9" height="5" fill="#000"/>
<rect x="343.53" y="289" width="176.9" height="1" fill="#fff"/>
<rect x="343.53" y="298" width="176.9" height="4" fill="#fff"/>
<rect x="343.53" y="323" width="176.9" height="1" fill="#fff"/>
<rect x="343.53" y="330" width="176.9" height="1" fill="#fff"/>
<rect x="343.53" y="345" width="176.9" height="1" fill="#fff"/>
<rect x="343.53" y="357" width="176.9" height="4" fill="#fff"/>
<rect x="343.53" y="361" width="176.9" height="1" fill="#000"/>
<rect x="343.53" y="364" width="176.9" height="1" fill="#fff"/>
<rect x="343.53" y="384" width="176.9" height="1" fill="#fff"/>
<rect x="343.53" y="386" width="176.9" height="1" fill="#fff"/>
<rect x="343.53" y="408" width="176.9" height="1" fill="#fff"/>
<rect x="343.53" y="412" width="176.9" height="2" fill="#fff"/>
<rect x="343.53" y="415.5" width="176.9" height="2" fill="#000"/>
<rect x="343.53" y="445" width="176.9" height="1" fill="#fff"/>
<rect x="343.53" y="449" width="176.9" height="1" fill="#fff"/>
<rect x="343.53" y="466" width="176.9" height="2" fill="#fff"/>
<rect x="343.53" y="468" width="176.9" height="1" fill="#000"/>
<rect x="343.53" y="471" width="176.9" height="1" fill="#000"/>
<rect x="343.53" y="475.5" width="176.9" height="1" fill="#000"/>
<rect x="343.53" y="478" width="176.9" height="1" fill="#fff"/>
<rect x="343.53" y="483" width="176.9" height="1" fill="#000"/>
<rect x="343.53" y="488.5" width="176.9" height="3.5" fill="#000"/>
<rect x="343.53" y="495" width="176.9" height="1" fill="#fff"/>
<rect x="343.53" y="497" width="176.9" height="1" fill="#000"/>
<rect x="343.53" y="500" width="176.9" height="1" fill="#000"/>
<rect x="343.53" y="502" width="176.9" height="1" fill="#000"/>
<rect x="343.53" y="505" width="176.9" height="1" fill="#000"/>
<rect x="343.53" y="507" width="176.9" height="1" fill="#000"/>
<rect x="343.53" y="510" width="176.9" height="1" fill="#000"/>
<rect x="343.53" y="512" width="176.9" height="1" fill="#000"/>
<rect x="343.53" y="515" width="176.9" height="1" fill="#000"/>
<rect x="343.53" y="517" width="176.9" height="1" fill="#fff"/>
<rect x="343.53" y="520" width="176.9" height="1.7" fill="#000"/>
<rect x="343.53" y="522" width="176.9" height="1" fill="#fff"/>
<rect x="343.53" y="533" width="176.9" height="1" fill="#fff"/>
<rect x="343.53" y="546" width="176.9" height="1" fill="#000"/>
<rect x="343.53" y="547" width="176.9" height="1.3" fill="#fff"/>
<rect x="343.53" y="550.3" width="176.9" height="1" fill="#000"/>
<rect x="343.53" y="552" width="176.9" height="1" fill="#000"/>
<rect x="343.53" y="556.8" width="176.9" height="1.2" fill="#fff"/>
<rect x="343.53" y="563" width="176.9" height="1.2" fill="#fff"/>
<rect x="343.53" y="566.8" width="176.9" height="1.2" fill="#000"/>
<rect x="343.53" y="580.8" width="176.9" height="1.2" fill="#000"/>
<rect x="343.53" y="590" width="176.9" height="1" fill="#fff"/>
<rect x="343.53" y="595" width="176.9" height="2" fill="#fff"/>
<rect x="343.53" y="600" width="176.9" height="1" fill="#fff"/>
<rect x="343.53" y="621" width="176.9" height="2" fill="#000"/>
<rect x="343.53" y="625" width="176.9" height="1" fill="#fff"/>
<rect x="343.53" y="629" width="176.9" height="1" fill="#000"/>
<rect x="343.53" y="633" width="176.9" height="1" fill="#000"/>
<rect x="343.53" y="637" width="176.9" height="1.6" fill="#000"/>
<rect x="343.53" y="639" width="176.9" height="1.3" fill="#fff"/>
<rect x="343.53" y="640.6" width="176.9" height="1.1" fill="#000"/>
<rect x="343.53" y="651" width="176.9" height="1.3" fill="#fff"/>
<rect x="343.53" y="655" width="176.9" height="2.8" fill="#000"/>
<rect x="343.53" y="666" width="176.9" height="2" fill="#000"/>
<rect x="343.53" y="672" width="176.9" height="2" fill="#fff"/>
<rect x="343.53" y="674" width="176.9" height="3" fill="#000"/>
<rect x="343.53" y="679" width="176.9" height="2" fill="#fff"/>
<rect x="343.53" y="689" width="176.9" height="1" fill="#000"/>
<rect x="343.53" y="692.6" width="176.9" height="2.4" fill="#fff"/>
<rect x="343.53" y="697" width="176.9" height="1.7" fill="#000"/>
<rect x="343.53" y="709.7" width="176.9" height="1.3" fill="#000"/>
<rect x="343.53" y="713.5" width="176.9" height="1.3" fill="#000"/>
<rect x="343.53" y="714.8" width="176.9" height="5.2" fill="#fff"/>
<rect x="384.93" y="176.6" width="22" height="1.4" fill="url(#hs)"/>
<rect x="391.93" y="175.6" width="8" height="1" fill="#a0ff60"/>
<rect x="394.93" y="175.6" width="2" height="6.4" fill="#b80000"/>
<rect x="343.53" y="80" width="176.90" height="640" fill="none" stroke="#000" stroke-width="1"/>
<line x1="343.53" y1="720" x2="343.53" y2="714.5" stroke="#000" stroke-width="1"/>
<line x1="343.53" y1="80" x2="343.53" y2="85.5" stroke="#000" stroke-width="1"/>
<line x1="385.12" y1="720" x2="385.12" y2="714.5" stroke="#000" stroke-width="1"/>
<line x1="385.12" y1="80" x2="385.12" y2="85.5" stroke="#000" stroke-width="1"/>
<line x1="426.71" y1="720" x2="426.71" y2="714.5" stroke="#000" stroke-width="1"/>
<line x1="426.71" y1="80" x2="426.71" y2="85.5" stroke="#000" stroke-width="1"/>
<line x1="468.30" y1="720" x2="468.30" y2="714.5" stroke="#000" stroke-width="1"/>
<line x1="468.30" y1="80" x2="468.30" y2="85.5" stroke="#000" stroke-width="1"/>
<line x1="509.89" y1="720" x2="509.89" y2="714.5" stroke="#000" stroke-width="1"/>
<line x1="509.89" y1="80" x2="509.89" y2="85.5" stroke="#000" stroke-width="1"/>
<line x1="343.53" y1="720.00" x2="349.03" y2="720.00" stroke="#000" stroke-width="1"/>
<line x1="520.43" y1="720.00" x2="514.93" y2="720.00" stroke="#000" stroke-width="1"/>
<line x1="343.53" y1="586.67" x2="349.03" y2="586.67" stroke="#000" stroke-width="1"/>
<line x1="520.43" y1="586.67" x2="514.93" y2="586.67" stroke="#000" stroke-width="1"/>
<line x1="343.53" y1="453.33" x2="349.03" y2="453.33" stroke="#000" stroke-width="1"/>
<line x1="520.43" y1="453.33" x2="514.93" y2="453.33" stroke="#000" stroke-width="1"/>
<line x1="343.53" y1="320.00" x2="349.03" y2="320.00" stroke="#000" stroke-width="1"/>
<line x1="520.43" y1="320.00" x2="514.93" y2="320.00" stroke="#000" stroke-width="1"/>
<line x1="343.53" y1="186.67" x2="349.03" y2="186.67" stroke="#000" stroke-width="1"/>
<line x1="520.43" y1="186.67" x2="514.93" y2="186.67" stroke="#000" stroke-width="1"/>
</g>
<text class="t14" x="431.98" y="72.6" text-anchor="middle">YY, V5*V11=EA08*EA14</text>
<text class="tk" x="343.93" y="735.7" text-anchor="middle">320</text>
<text class="tk" x="385.52" y="735.7" text-anchor="middle">335</text>
<text class="tk" x="427.11" y="735.7" text-anchor="middle">350</text>
<text class="tk" x="468.70" y="735.7" text-anchor="middle">365</text>
<text class="tk" x="510.29" y="735.7" text-anchor="middle">380</text>
<text class="tk" x="339.03" y="723.00" text-anchor="end">0</text>
<text class="tk" x="339.03" y="589.67" text-anchor="end">5</text>
<text class="tk" x="339.03" y="456.33" text-anchor="end">10</text>
<text class="tk" x="339.03" y="323.00" text-anchor="end">15</text>
<text class="tk" x="339.03" y="189.67" text-anchor="end">20</text>
<g shape-rendering="crispEdges">
<rect x="555.81" y="80" width="176.9" height="11" fill="#000fff"/>
<rect x="721.66" y="80" width="11.05" height="11" fill="#002eff"/>
<rect x="667.66" y="80" width="12" height="11" fill="#00b2ff"/>
<rect x="679.66" y="80" width="2.15" height="11" fill="#0094ff"/>
<rect x="681.81" y="80" width="12" height="11" fill="#00b2ff"/>
<rect x="693.81" y="80" width="1.85" height="11" fill="#0094ff"/>
<rect x="695.66" y="80" width="11.9" height="11" fill="#009eff"/>
<rect x="707.56" y="80" width="2.1" height="11" fill="#0094ff"/>
<rect x="709.66" y="80" width="12" height="11" fill="#008aff"/>
<rect x="555.81" y="91" width="176.9" height="8" fill="#000fff"/>
<rect x="721.66" y="91" width="11.05" height="8" fill="#002eff"/>
<rect x="667.66" y="91" width="12" height="8" fill="#0094ff"/>
<rect x="679.66" y="91" width="2.15" height="8" fill="#0080ff"/>
<rect x="681.81" y="91" width="12" height="8" fill="#0094ff"/>
<rect x="693.81" y="91" width="1.85" height="8" fill="#0080ff"/>
<rect x="695.66" y="91" width="11.9" height="8" fill="#0094ff"/>
<rect x="707.56" y="91" width="2.1" height="8" fill="#0080ff"/>
<rect x="709.66" y="91" width="12" height="8" fill="#0094ff"/>
<rect x="555.81" y="99" width="176.9" height="1" fill="#004dff"/>
<rect x="721.66" y="99" width="11.05" height="1" fill="#004dff"/>
<rect x="555.81" y="100" width="176.9" height="7" fill="#001aff"/>
<rect x="721.66" y="100" width="11.05" height="7" fill="#004dff"/>
<rect x="555.81" y="107" width="176.9" height="28" fill="#0005ff"/>
<rect x="721.66" y="107" width="11.05" height="28" fill="#0005ff"/>
<rect x="667.66" y="107" width="12" height="28" fill="#0019ff"/>
<rect x="679.66" y="107" width="2.15" height="28" fill="#0019ff"/>
<rect x="681.81" y="107" width="12" height="28" fill="#0019ff"/>
<rect x="693.81" y="107" width="1.85" height="28" fill="#0019ff"/>
<rect x="695.66" y="107" width="11.9" height="28" fill="#0019ff"/>
<rect x="707.56" y="107" width="2.1" height="28" fill="#0019ff"/>
<rect x="709.66" y="107" width="12" height="28" fill="#0019ff"/>
<rect x="555.81" y="135" width="176.9" height="14" fill="#000fff"/>
<rect x="721.66" y="135" width="11.05" height="14" fill="#002eff"/>
<rect x="667.66" y="135" width="12" height="14" fill="#00a8ff"/>
<rect x="679.66" y="135" width="2.15" height="14" fill="#0094ff"/>
<rect x="681.81" y="135" width="12" height="14" fill="#00bdff"/>
<rect x="693.81" y="135" width="1.85" height="14" fill="#0094ff"/>
<rect x="695.66" y="135" width="11.9" height="14" fill="#00a8ff"/>
<rect x="707.56" y="135" width="2.1" height="14" fill="#0094ff"/>
<rect x="709.66" y="135" width="12" height="14" fill="#0094ff"/>
<rect x="555.81" y="149" width="176.9" height="1" fill="#004dff"/>
<rect x="721.66" y="149" width="11.05" height="1" fill="#004dff"/>
<rect x="555.81" y="150" width="176.9" height="8" fill="#001aff"/>
<rect x="721.66" y="150" width="11.05" height="8" fill="#002eff"/>
<rect x="667.66" y="150" width="12" height="8" fill="#0094ff"/>
<rect x="679.66" y="150" width="2.15" height="8" fill="#0094ff"/>
<rect x="681.81" y="150" width="12" height="8" fill="#00b2ff"/>
<rect x="693.81" y="150" width="1.85" height="8" fill="#0094ff"/>
<rect x="695.66" y="150" width="11.9" height="8" fill="#0094ff"/>
<rect x="707.56" y="150" width="2.1" height="8" fill="#0094ff"/>
<rect x="709.66" y="150" width="12" height="8" fill="#0094ff"/>
<rect x="555.81" y="158" width="176.9" height="1.2" fill="#004dff"/>
<rect x="721.66" y="158" width="11.05" height="1.2" fill="#004dff"/>
<rect x="555.81" y="159.2" width="176.9" height="17.8" fill="#000fff"/>
<rect x="721.66" y="159.2" width="11.05" height="17.8" fill="#0024ff"/>
<rect x="667.66" y="159.2" width="12" height="17.8" fill="#00a8ff"/>
<rect x="679.66" y="159.2" width="2.15" height="17.8" fill="#0075ff"/>
<rect x="681.81" y="159.2" width="12" height="17.8" fill="#00bdff"/>
<rect x="693.81" y="159.2" width="1.85" height="17.8" fill="#0075ff"/>
<rect x="695.66" y="159.2" width="11.9" height="17.8" fill="#0094ff"/>
<rect x="707.56" y="159.2" width="2.1" height="17.8" fill="#0075ff"/>
<rect x="709.66" y="159.2" width="12" height="17.8" fill="#0094ff"/>
<rect x="555.81" y="192.5" width="176.9" height="4.8" fill="#00b2ff"/>
<rect x="721.66" y="192.5" width="11.05" height="4.8" fill="#00b2ff"/>
<rect x="667.66" y="192.5" width="12" height="4.8" fill="#00b2ff"/>
<rect x="679.66" y="192.5" width="2.15" height="4.8" fill="#00b2ff"/>
<rect x="681.81" y="192.5" width="12" height="4.8" fill="#00b2ff"/>
<rect x="693.81" y="192.5" width="1.85" height="4.8" fill="#00b2ff"/>
<rect x="695.66" y="192.5" width="11.9" height="4.8" fill="#00b2ff"/>
<rect x="707.56" y="192.5" width="2.1" height="4.8" fill="#00b2ff"/>
<rect x="709.66" y="192.5" width="12" height="4.8" fill="#00b2ff"/>
<rect x="555.81" y="202" width="176.9" height="2.2" fill="#004dff"/>
<rect x="721.66" y="202" width="11.05" height="2.2" fill="#004dff"/>
<rect x="667.66" y="202" width="12" height="2.2" fill="#004dff"/>
<rect x="679.66" y="202" width="2.15" height="2.2" fill="#004dff"/>
<rect x="681.81" y="202" width="12" height="2.2" fill="#004dff"/>
<rect x="693.81" y="202" width="1.85" height="2.2" fill="#004dff"/>
<rect x="695.66" y="202" width="11.9" height="2.2" fill="#004dff"/>
<rect x="707.56" y="202" width="2.1" height="2.2" fill="#004dff"/>
<rect x="709.66" y="202" width="12" height="2.2" fill="#004dff"/>
<rect x="555.81" y="204.2" width="176.9" height="27.8" fill="#000fff"/>
<rect x="721.66" y="204.2" width="11.05" height="27.8" fill="#001aff"/>
<rect x="667.66" y="204.2" width="12" height="27.8" fill="#009eff"/>
<rect x="679.66" y="204.2" width="2.15" height="27.8" fill="#006bff"/>
<rect x="681.81" y="204.2" width="12" height="27.8" fill="#00bdff"/>
<rect x="693.81" y="204.2" width="1.85" height="27.8" fill="#006bff"/>
<rect x="695.66" y="204.2" width="11.9" height="27.8" fill="#009eff"/>
<rect x="707.56" y="204.2" width="2.1" height="27.8" fill="#006bff"/>
<rect x="709.66" y="204.2" width="12" height="27.8" fill="#0080ff"/>
<rect x="555.81" y="232" width="176.9" height="11.5" fill="#000fff"/>
<rect x="721.66" y="232" width="11.05" height="11.5" fill="#001aff"/>
<rect x="667.66" y="232" width="12" height="11.5" fill="#00c7ff"/>
<rect x="679.66" y="232" width="2.15" height="11.5" fill="#0080ff"/>
<rect x="681.81" y="232" width="12" height="11.5" fill="#00dbff"/>
<rect x="693.81" y="232" width="1.85" height="11.5" fill="#0080ff"/>
<rect x="695.66" y="232" width="11.9" height="11.5" fill="#00c7ff"/>
<rect x="707.56" y="232" width="2.1" height="11.5" fill="#0080ff"/>
<rect x="709.66" y="232" width="12" height="11.5" fill="#00b2ff"/>
<rect x="555.81" y="243.5" width="176.9" height="5.5" fill="#0005ff"/>
<rect x="721.66" y="243.5" width="11.05" height="5.5" fill="#0005ff"/>
<rect x="555.81" y="249" width="176.9" height="3.5" fill="#0005ff"/>
<rect x="721.66" y="249" width="11.05" height="3.5" fill="#0005ff"/>
<rect x="555.81" y="252.5" width="176.9" height="2.5" fill="#0005ff"/>
<rect x="721.66" y="252.5" width="11.05" height="2.5" fill="#0005ff"/>
<rect x="555.81" y="255" width="176.9" height="9" fill="#0005ff"/>
<rect x="721.66" y="255" width="11.05" height="9" fill="#0005ff"/>
<rect x="667.66" y="255" width="12" height="9" fill="#002eff"/>
<rect x="679.66" y="255" width="2.15" height="9" fill="#0038ff"/>
<rect x="681.81" y="255" width="12" height="9" fill="#004dff"/>
<rect x="693.81" y="255" width="1.85" height="9" fill="#0038ff"/>
<rect x="695.66" y="255" width="11.9" height="9" fill="#004dff"/>
<rect x="707.56" y="255" width="2.1" height="9" fill="#0038ff"/>
<rect x="709.66" y="255" width="12" height="9" fill="#004dff"/>
<rect x="555.81" y="264" width="176.9" height="1" fill="#0005ff"/>
<rect x="721.66" y="264" width="11.05" height="1" fill="#0005ff"/>
<rect x="667.66" y="264" width="12" height="1" fill="#1affe5"/>
<rect x="679.66" y="264" width="2.15" height="1" fill="#1affe5"/>
<rect x="681.81" y="264" width="12" height="1" fill="#1affe5"/>
<rect x="693.81" y="264" width="1.85" height="1" fill="#1affe5"/>
<rect x="695.66" y="264" width="11.9" height="1" fill="#1affe5"/>
<rect x="707.56" y="264" width="2.1" height="1" fill="#1affe5"/>
<rect x="709.66" y="264" width="12" height="1" fill="#1affe5"/>
<rect x="555.81" y="265" width="176.9" height="4" fill="#0005ff"/>
<rect x="721.66" y="265" width="11.05" height="4" fill="#0005ff"/>
<rect x="555.81" y="269" width="176.9" height="6.5" fill="#0005ff"/>
<rect x="721.66" y="269" width="11.05" height="6.5" fill="#0005ff"/>
<rect x="555.81" y="275.5" width="176.9" height="12.5" fill="#0005ff"/>
<rect x="721.66" y="275.5" width="11.05" height="12.5" fill="#0005ff"/>
<rect x="555.81" y="288" width="176.9" height="12" fill="#0005ff"/>
<rect x="721.66" y="288" width="11.05" height="12" fill="#0005ff"/>
<rect x="667.66" y="288" width="12" height="12" fill="#00f0ff"/>
<rect x="679.66" y="288" width="2.15" height="12" fill="#004dff"/>
<rect x="681.81" y="288" width="12" height="12" fill="#2effd1"/>
<rect x="693.81" y="288" width="1.85" height="12" fill="#004dff"/>
<rect x="695.66" y="288" width="11.9" height="12" fill="#00f0ff"/>
<rect x="707.56" y="288" width="2.1" height="12" fill="#004dff"/>
<rect x="709.66" y="288" width="12" height="12" fill="#00f0ff"/>
<rect x="555.81" y="300" width="176.9" height="12" fill="#0000fa"/>
<rect x="721.66" y="300" width="11.05" height="12" fill="#0000fa"/>
<rect x="555.81" y="312" width="176.9" height="11.5" fill="#0000fa"/>
<rect x="721.66" y="312" width="11.05" height="11.5" fill="#0000fa"/>
<rect x="555.81" y="323.5" width="176.9" height="7" fill="#0000fa"/>
<rect x="721.66" y="323.5" width="11.05" height="7" fill="#0000fa"/>
<rect x="555.81" y="330.5" width="176.9" height="15" fill="#0000fa"/>
<rect x="721.66" y="330.5" width="11.05" height="15" fill="#0000fa"/>
<rect x="555.81" y="345.5" width="176.9" height="13.5" fill="#0005ff"/>
<rect x="721.66" y="345.5" width="11.05" height="13.5" fill="#0005ff"/>
<rect x="555.81" y="359" width="176.9" height="5.5" fill="#0005ff"/>
<rect x="721.66" y="359" width="11.05" height="5.5" fill="#0005ff"/>
<rect x="555.81" y="364.5" width="176.9" height="13.5" fill="#0005ff"/>
<rect x="721.66" y="364.5" width="11.05" height="13.5" fill="#0005ff"/>
<rect x="555.81" y="378" width="176.9" height="7" fill="#0005ff"/>
<rect x="721.66" y="378" width="11.05" height="7" fill="#0005ff"/>
<rect x="555.81" y="385" width="176.9" height="15" fill="#0005ff"/>
<rect x="721.66" y="385" width="11.05" height="15" fill="#0005ff"/>
<rect x="555.81" y="400" width="176.9" height="8.5" fill="#0005ff"/>
<rect x="721.66" y="400" width="11.05" height="8.5" fill="#0005ff"/>
<rect x="555.81" y="408.5" width="176.9" height="4.5" fill="#004dff"/>
<rect x="721.66" y="408.5" width="11.05" height="4.5" fill="#004dff"/>
<rect x="555.81" y="413" width="176.9" height="4.5" fill="#0005ff"/>
<rect x="721.66" y="413" width="11.05" height="4.5" fill="#0005ff"/>
<rect x="555.81" y="417.5" width="176.9" height="7.5" fill="#0000e5"/>
<rect x="721.66" y="417.5" width="11.05" height="7.5" fill="#0000e5"/>
<rect x="555.81" y="425" width="176.9" height="20.5" fill="#0000e5"/>
<rect x="721.66" y="425" width="11.05" height="20.5" fill="#0000e5"/>
<rect x="555.81" y="445.5" width="176.9" height="6.5" fill="#0000e5"/>
<rect x="721.66" y="445.5" width="11.05" height="6.5" fill="#0000e5"/>
<rect x="555.81" y="452" width="176.9" height="7" fill="#0000e5"/>
<rect x="721.66" y="452" width="11.05" height="7" fill="#0000e5"/>
<rect x="555.81" y="459" width="176.9" height="8" fill="#0000e5"/>
<rect x="721.66" y="459" width="11.05" height="8" fill="#0000e5"/>
<rect x="555.81" y="467" width="176.9" height="4.5" fill="#0000e5"/>
<rect x="721.66" y="467" width="11.05" height="4.5" fill="#0000e5"/>
<rect x="555.81" y="471.5" width="176.9" height="4.5" fill="#0000e5"/>
<rect x="721.66" y="471.5" width="11.05" height="4.5" fill="#0000e5"/>
<rect x="555.81" y="476" width="176.9" height="2.5" fill="#0000e5"/>
<rect x="721.66" y="476" width="11.05" height="2.5" fill="#0000e5"/>
<rect x="555.81" y="478.5" width="176.9" height="5" fill="#0000e5"/>
<rect x="721.66" y="478.5" width="11.05" height="5" fill="#0000e5"/>
<rect x="555.81" y="483.5" width="176.9" height="2.5" fill="#0000e5"/>
<rect x="721.66" y="483.5" width="11.05" height="2.5" fill="#0000e5"/>
<rect x="555.81" y="486" width="176.9" height="2.5" fill="#0000e5"/>
<rect x="721.66" y="486" width="11.05" height="2.5" fill="#0000e5"/>
<rect x="555.81" y="488.5" width="176.9" height="7.5" fill="#0000e5"/>
<rect x="721.66" y="488.5" width="11.05" height="7.5" fill="#0000e5"/>
<rect x="555.81" y="496" width="176.9" height="11" fill="#0000db"/>
<rect x="721.66" y="496" width="11.05" height="11" fill="#0000db"/>
<rect x="555.81" y="507" width="176.9" height="10.5" fill="#0000db"/>
<rect x="721.66" y="507" width="11.05" height="10.5" fill="#0000db"/>
<rect x="555.81" y="517.5" width="176.9" height="5" fill="#0000e5"/>
<rect x="721.66" y="517.5" width="11.05" height="5" fill="#0000e5"/>
<rect x="555.81" y="522.5" width="176.9" height="11" fill="#0000f0"/>
<rect x="721.66" y="522.5" width="11.05" height="11" fill="#0000f0"/>
<rect x="555.81" y="533.5" width="176.9" height="8.1" fill="#0000f0"/>
<rect x="721.66" y="533.5" width="11.05" height="8.1" fill="#0000f0"/>
<rect x="555.81" y="541.6" width="176.9" height="5.4" fill="#0000fa"/>
<rect x="721.66" y="541.6" width="11.05" height="5.4" fill="#0000f0"/>
<rect x="555.81" y="547" width="176.9" height="3.5" fill="#004dff"/>
<rect x="721.66" y="547" width="11.05" height="3.5" fill="#004dff"/>
<rect x="555.81" y="550.5" width="176.9" height="6.5" fill="#0000fa"/>
<rect x="721.66" y="550.5" width="11.05" height="6.5" fill="#0000f0"/>
<rect x="555.81" y="557" width="176.9" height="11" fill="#0000fa"/>
<rect x="721.66" y="557" width="11.05" height="11" fill="#0000f0"/>
<rect x="555.81" y="568" width="176.9" height="3" fill="#0000f0"/>
<rect x="721.66" y="568" width="11.05" height="3" fill="#0000f0"/>
<rect x="555.81" y="571" width="176.9" height="2" fill="#0000f0"/>
<rect x="721.66" y="571" width="11.05" height="2" fill="#0000f0"/>
<rect x="555.81" y="573" width="176.9" height="6.5" fill="#0000f0"/>
<rect x="721.66" y="573" width="11.05" height="6.5" fill="#0000f0"/>
<rect x="555.81" y="579.5" width="176.9" height="1.5" fill="#0000f0"/>
<rect x="721.66" y="579.5" width="11.05" height="1.5" fill="#0000f0"/>
<rect x="555.81" y="581" width="176.9" height="9.5" fill="#0000f0"/>
<rect x="721.66" y="581" width="11.05" height="9.5" fill="#0000f0"/>
<rect x="555.81" y="590.5" width="176.9" height="5" fill="#0000f0"/>
<rect x="721.66" y="590.5" width="11.05" height="5" fill="#0000f0"/>
<rect x="555.81" y="595.5" width="176.9" height="5" fill="#0000f0"/>
<rect x="721.66" y="595.5" width="11.05" height="5" fill="#0000f0"/>
<rect x="555.81" y="600.5" width="176.9" height="6.5" fill="#0000f0"/>
<rect x="721.66" y="600.5" width="11.05" height="6.5" fill="#0000f0"/>
<rect x="555.81" y="607" width="176.9" height="10" fill="#0000f0"/>
<rect x="721.66" y="607" width="11.05" height="10" fill="#0000f0"/>
<rect x="555.81" y="617" width="176.9" height="4" fill="#0000f0"/>
<rect x="721.66" y="617" width="11.05" height="4" fill="#0000f0"/>
<rect x="667.66" y="617" width="12" height="4" fill="#00b2ff"/>
<rect x="679.66" y="617" width="2.15" height="4" fill="#0019ff"/>
<rect x="681.81" y="617" width="12" height="4" fill="#00b2ff"/>
<rect x="693.81" y="617" width="1.85" height="4" fill="#0019ff"/>
<rect x="695.66" y="617" width="11.9" height="4" fill="#00b2ff"/>
<rect x="707.56" y="617" width="2.1" height="4" fill="#0019ff"/>
<rect x="709.66" y="617" width="12" height="4" fill="#00b2ff"/>
<rect x="555.81" y="621" width="176.9" height="4.5" fill="#0000fa"/>
<rect x="721.66" y="621" width="11.05" height="4.5" fill="#0000fa"/>
<rect x="667.66" y="621" width="12" height="4.5" fill="#00b2ff"/>
<rect x="679.66" y="621" width="2.15" height="4.5" fill="#000fff"/>
<rect x="681.81" y="621" width="12" height="4.5" fill="#00b2ff"/>
<rect x="693.81" y="621" width="1.85" height="4.5" fill="#000fff"/>
<rect x="695.66" y="621" width="11.9" height="4.5" fill="#00b2ff"/>
<rect x="707.56" y="621" width="2.1" height="4.5" fill="#000fff"/>
<rect x="709.66" y="621" width="12" height="4.5" fill="#00b2ff"/>
<rect x="555.81" y="625.5" width="176.9" height="14.5" fill="#0005ff"/>
<rect x="721.66" y="625.5" width="11.05" height="14.5" fill="#0005ff"/>
<rect x="555.81" y="640" width="176.9" height="6" fill="#0005ff"/>
<rect x="721.66" y="640" width="11.05" height="6" fill="#0005ff"/>
<rect x="555.81" y="646" width="176.9" height="2" fill="#0005ff"/>
<rect x="721.66" y="646" width="11.05" height="2" fill="#0005ff"/>
<rect x="555.81" y="648" width="176.9" height="4" fill="#0005ff"/>
<rect x="721.66" y="648" width="11.05" height="4" fill="#0005ff"/>
<rect x="555.81" y="652" width="176.9" height="3" fill="#000fff"/>
<rect x="721.66" y="652" width="11.05" height="3" fill="#000fff"/>
<rect x="555.81" y="655" width="176.9" height="3" fill="#0000fa"/>
<rect x="721.66" y="655" width="11.05" height="3" fill="#000fff"/>
<rect x="555.81" y="658" width="176.9" height="3" fill="#0000fa"/>
<rect x="721.66" y="658" width="11.05" height="3" fill="#000fff"/>
<rect x="555.81" y="661" width="176.9" height="5" fill="#0000fa"/>
<rect x="721.66" y="661" width="11.05" height="5" fill="#004dff"/>
<rect x="555.81" y="666" width="176.9" height="6" fill="#0005ff"/>
<rect x="721.66" y="666" width="11.05" height="6" fill="#0005ff"/>
<rect x="555.81" y="672" width="176.9" height="7" fill="#0005ff"/>
<rect x="721.66" y="672" width="11.05" height="7" fill="#00b2ff"/>
<rect x="555.81" y="688.8" width="176.9" height="3.8" fill="#0000fa"/>
<rect x="721.66" y="688.8" width="11.05" height="3.8" fill="#0005ff"/>
<rect x="555.81" y="692.6" width="176.9" height="6" fill="#0005ff"/>
<rect x="721.66" y="692.6" width="11.05" height="6" fill="#0005ff"/>
<rect x="555.81" y="701" width="176.9" height="3" fill="#0005ff"/>
<rect x="721.66" y="701" width="11.05" height="3" fill="#0080ff"/>
<rect x="555.81" y="704" width="176.9" height="1" fill="#0005ff"/>
<rect x="721.66" y="704" width="11.05" height="1" fill="#0080ff"/>
<rect x="555.81" y="705" width="176.9" height="4.7" fill="#0005ff"/>
<rect x="721.66" y="705" width="11.05" height="4.7" fill="#0080ff"/>
<rect x="555.81" y="709.7" width="176.9" height="10.3" fill="#000fff"/>
<rect x="721.66" y="709.7" width="11.05" height="10.3" fill="#000fff"/>
<rect x="555.81" y="80" width="176.90" height="640" fill="none" filter="url(#nzd)"/>
<rect x="555.81" y="80" width="176.90" height="640" fill="none" filter="url(#nzl)"/>
<rect x="667.66" y="99" width="12" height="1" fill="#fffa00"/>
<rect x="679.66" y="99" width="2.15" height="1" fill="#1affe5"/>
<rect x="681.81" y="99" width="12" height="1" fill="#faff05"/>
<rect x="693.81" y="99" width="1.85" height="1" fill="#1affe5"/>
<rect x="695.66" y="99" width="11.9" height="1" fill="#80ff80"/>
<rect x="707.56" y="99" width="2.1" height="1" fill="#1affe5"/>
<rect x="709.66" y="99" width="12" height="1" fill="#80ff80"/>
<rect x="667.66" y="100" width="12" height="7" fill="#80ff80"/>
<rect x="679.66" y="100" width="2.15" height="7" fill="#00e5ff"/>
<rect x="681.81" y="100" width="12" height="7" fill="#1affe5"/>
<rect x="693.81" y="100" width="1.85" height="7" fill="#00e5ff"/>
<rect x="695.66" y="100" width="11.9" height="7" fill="#1affe5"/>
<rect x="707.56" y="100" width="2.1" height="7" fill="#00e5ff"/>
<rect x="709.66" y="100" width="12" height="7" fill="#80ff80"/>
<rect x="667.66" y="149" width="12" height="1" fill="#e5ff1a"/>
<rect x="679.66" y="149" width="2.15" height="1" fill="#1affe5"/>
<rect x="681.81" y="149" width="12" height="1" fill="#e5ff1a"/>
<rect x="693.81" y="149" width="1.85" height="1" fill="#1affe5"/>
<rect x="695.66" y="149" width="11.9" height="1" fill="#4dffb2"/>
<rect x="707.56" y="149" width="2.1" height="1" fill="#1affe5"/>
<rect x="709.66" y="149" width="12" height="1" fill="#4dffb2"/>
<rect x="667.66" y="158" width="12" height="1.2" fill="#80ff80"/>
<rect x="679.66" y="158" width="2.15" height="1.2" fill="#1affe5"/>
<rect x="681.81" y="158" width="12" height="1.2" fill="#4dffb2"/>
<rect x="693.81" y="158" width="1.85" height="1.2" fill="#1affe5"/>
<rect x="695.66" y="158" width="11.9" height="1.2" fill="#4dffb2"/>
<rect x="707.56" y="158" width="2.1" height="1.2" fill="#1affe5"/>
<rect x="709.66" y="158" width="12" height="1.2" fill="#4dffb2"/>
<rect x="555.81" y="177" width="176.9" height="3" fill="#00faff"/>
<rect x="721.66" y="177" width="11.05" height="3" fill="#00faff"/>
<rect x="667.66" y="177" width="12" height="3" fill="#00faff"/>
<rect x="679.66" y="177" width="2.15" height="3" fill="#00faff"/>
<rect x="681.81" y="177" width="12" height="3" fill="#00faff"/>
<rect x="693.81" y="177" width="1.85" height="3" fill="#00faff"/>
<rect x="695.66" y="177" width="11.9" height="3" fill="#00faff"/>
<rect x="707.56" y="177" width="2.1" height="3" fill="#00faff"/>
<rect x="709.66" y="177" width="12" height="3" fill="#00faff"/>
<rect x="555.81" y="180" width="176.9" height="2" fill="#1affe5"/>
<rect x="721.66" y="180" width="11.05" height="2" fill="#1affe5"/>
<rect x="667.66" y="180" width="12" height="2" fill="#1affe5"/>
<rect x="679.66" y="180" width="2.15" height="2" fill="#1affe5"/>
<rect x="681.81" y="180" width="12" height="2" fill="#1affe5"/>
<rect x="693.81" y="180" width="1.85" height="2" fill="#1affe5"/>
<rect x="695.66" y="180" width="11.9" height="2" fill="#1affe5"/>
<rect x="707.56" y="180" width="2.1" height="2" fill="#1affe5"/>
<rect x="709.66" y="180" width="12" height="2" fill="#1affe5"/>
<rect x="555.81" y="182" width="176.9" height="10.5" fill="#0ffff0"/>
<rect x="721.66" y="182" width="11.05" height="10.5" fill="#1affe5"/>
<rect x="667.66" y="182" width="12" height="10.5" fill="#2effd1"/>
<rect x="679.66" y="182" width="2.15" height="10.5" fill="#2effd1"/>
<rect x="681.81" y="182" width="12" height="10.5" fill="#2effd1"/>
<rect x="693.81" y="182" width="1.85" height="10.5" fill="#2effd1"/>
<rect x="695.66" y="182" width="11.9" height="10.5" fill="#2effd1"/>
<rect x="707.56" y="182" width="2.1" height="10.5" fill="#2effd1"/>
<rect x="709.66" y="182" width="12" height="10.5" fill="#2effd1"/>
<rect x="555.81" y="197.3" width="176.9" height="4.7" fill="#2effd1"/>
<rect x="721.66" y="197.3" width="11.05" height="4.7" fill="#2effd1"/>
<rect x="667.66" y="197.3" width="12" height="4.7" fill="#61ff9e"/>
<rect x="679.66" y="197.3" width="2.15" height="4.7" fill="#4dffb2"/>
<rect x="681.81" y="197.3" width="12" height="4.7" fill="#61ff9e"/>
<rect x="693.81" y="197.3" width="1.85" height="4.7" fill="#4dffb2"/>
<rect x="695.66" y="197.3" width="11.9" height="4.7" fill="#4dffb2"/>
<rect x="707.56" y="197.3" width="2.1" height="4.7" fill="#4dffb2"/>
<rect x="709.66" y="197.3" width="12" height="4.7" fill="#4dffb2"/>
<rect x="667.66" y="243.5" width="12" height="5.5" fill="#80ff80"/>
<rect x="679.66" y="243.5" width="2.15" height="5.5" fill="#002eff"/>
<rect x="681.81" y="243.5" width="12" height="5.5" fill="#2effd1"/>
<rect x="693.81" y="243.5" width="1.85" height="5.5" fill="#002eff"/>
<rect x="695.66" y="243.5" width="11.9" height="5.5" fill="#80ff80"/>
<rect x="707.56" y="243.5" width="2.1" height="5.5" fill="#002eff"/>
<rect x="709.66" y="243.5" width="12" height="5.5" fill="#80ff80"/>
<rect x="667.66" y="249" width="12" height="3.5" fill="#80ff80"/>
<rect x="679.66" y="249" width="2.15" height="3.5" fill="#002eff"/>
<rect x="681.81" y="249" width="12" height="3.5" fill="#2effd1"/>
<rect x="693.81" y="249" width="1.85" height="3.5" fill="#002eff"/>
<rect x="695.66" y="249" width="11.9" height="3.5" fill="#80ff80"/>
<rect x="707.56" y="249" width="2.1" height="3.5" fill="#002eff"/>
<rect x="709.66" y="249" width="12" height="3.5" fill="#80ff80"/>
<rect x="667.66" y="252.5" width="12" height="2.5" fill="#80ff80"/>
<rect x="679.66" y="252.5" width="2.15" height="2.5" fill="#002eff"/>
<rect x="681.81" y="252.5" width="12" height="2.5" fill="#2effd1"/>
<rect x="693.81" y="252.5" width="1.85" height="2.5" fill="#002eff"/>
<rect x="695.66" y="252.5" width="11.9" height="2.5" fill="#80ff80"/>
<rect x="707.56" y="252.5" width="2.1" height="2.5" fill="#002eff"/>
<rect x="709.66" y="252.5" width="12" height="2.5" fill="#80ff80"/>
<rect x="667.66" y="265" width="12" height="4" fill="#80ff80"/>
<rect x="679.66" y="265" width="2.15" height="4" fill="#0019ff"/>
<rect x="681.81" y="265" width="12" height="4" fill="#57ffa8"/>
<rect x="693.81" y="265" width="1.85" height="4" fill="#0019ff"/>
<rect x="695.66" y="265" width="11.9" height="4" fill="#57ffa8"/>
<rect x="707.56" y="265" width="2.1" height="4" fill="#0019ff"/>
<rect x="709.66" y="265" width="12" height="4" fill="#38ffc7"/>
<rect x="667.66" y="269" width="12" height="6.5" fill="#42ffbd"/>
<rect x="679.66" y="269" width="2.15" height="6.5" fill="#0019ff"/>
<rect x="681.81" y="269" width="12" height="6.5" fill="#2effd1"/>
<rect x="693.81" y="269" width="1.85" height="6.5" fill="#0019ff"/>
<rect x="695.66" y="269" width="11.9" height="6.5" fill="#2effd1"/>
<rect x="707.56" y="269" width="2.1" height="6.5" fill="#0019ff"/>
<rect x="709.66" y="269" width="12" height="6.5" fill="#0ffff0"/>
<rect x="666.66" y="269" width="56" height="6.5" fill="none" filter="url(#nzm)"/>
<rect x="667.66" y="275.5" width="12" height="12.5" fill="#2effd1"/>
<rect x="679.66" y="275.5" width="2.15" height="12.5" fill="#0019ff"/>
<rect x="681.81" y="275.5" width="12" height="12.5" fill="#38ffc7"/>
<rect x="693.81" y="275.5" width="1.85" height="12.5" fill="#0019ff"/>
<rect x="695.66" y="275.5" width="11.9" height="12.5" fill="#2effd1"/>
<rect x="707.56" y="275.5" width="2.1" height="12.5" fill="#0019ff"/>
<rect x="709.66" y="275.5" width="12" height="12.5" fill="#00f0ff"/>
<rect x="666.66" y="275.5" width="56" height="12.5" fill="none" filter="url(#nzm)"/>
<rect x="667.66" y="300" width="12" height="12" fill="#d1ff2e"/>
<rect x="679.66" y="300" width="2.15" height="12" fill="#000fff"/>
<rect x="681.81" y="300" width="12" height="12" fill="#bdff42"/>
<rect x="693.81" y="300" width="1.85" height="12" fill="#000fff"/>
<rect x="695.66" y="300" width="11.9" height="12" fill="#80ff80"/>
<rect x="707.56" y="300" width="2.1" height="12" fill="#000fff"/>
<rect x="709.66" y="300" width="12" height="12" fill="#6bff94"/>
<rect x="667.66" y="312" width="12" height="11.5" fill="#ffe500"/>
<rect x="679.66" y="312" width="2.15" height="11.5" fill="#000fff"/>
<rect x="681.81" y="312" width="12" height="11.5" fill="#bdff42"/>
<rect x="693.81" y="312" width="1.85" height="11.5" fill="#000fff"/>
<rect x="695.66" y="312" width="11.9" height="11.5" fill="#80ff80"/>
<rect x="707.56" y="312" width="2.1" height="11.5" fill="#000fff"/>
<rect x="709.66" y="312" width="12" height="11.5" fill="#6bff94"/>
<rect x="667.66" y="323.5" width="12" height="7" fill="#c7ff38"/>
<rect x="679.66" y="323.5" width="2.15" height="7" fill="#000fff"/>
<rect x="681.81" y="323.5" width="12" height="7" fill="#80ff80"/>
<rect x="693.81" y="323.5" width="1.85" height="7" fill="#000fff"/>
<rect x="695.66" y="323.5" width="11.9" height="7" fill="#6bff94"/>
<rect x="707.56" y="323.5" width="2.1" height="7" fill="#000fff"/>
<rect x="709.66" y="323.5" width="12" height="7" fill="#61ff9e"/>
<rect x="667.66" y="330.5" width="12" height="15" fill="#b3ff4c"/>
<rect x="679.66" y="330.5" width="2.15" height="15" fill="#000fff"/>
<rect x="681.81" y="330.5" width="12" height="15" fill="#80ff80"/>
<rect x="693.81" y="330.5" width="1.85" height="15" fill="#000fff"/>
<rect x="695.66" y="330.5" width="11.9" height="15" fill="#6bff94"/>
<rect x="707.56" y="330.5" width="2.1" height="15" fill="#000fff"/>
<rect x="709.66" y="330.5" width="12" height="15" fill="#61ff9e"/>
<rect x="667.66" y="345.5" width="12" height="13.5" fill="#80ff80"/>
<rect x="679.66" y="345.5" width="2.15" height="13.5" fill="#0019ff"/>
<rect x="681.81" y="345.5" width="12" height="13.5" fill="#b3ff4c"/>
<rect x="693.81" y="345.5" width="1.85" height="13.5" fill="#0019ff"/>
<rect x="695.66" y="345.5" width="11.9" height="13.5" fill="#94ff6b"/>
<rect x="707.56" y="345.5" width="2.1" height="13.5" fill="#0019ff"/>
<rect x="709.66" y="345.5" width="12" height="13.5" fill="#80ff80"/>
<rect x="667.66" y="359" width="12" height="5.5" fill="#b3ff4c"/>
<rect x="679.66" y="359" width="2.15" height="5.5" fill="#0019ff"/>
<rect x="681.81" y="359" width="12" height="5.5" fill="#b3ff4c"/>
<rect x="693.81" y="359" width="1.85" height="5.5" fill="#0019ff"/>
<rect x="695.66" y="359" width="11.9" height="5.5" fill="#b3ff4c"/>
<rect x="707.56" y="359" width="2.1" height="5.5" fill="#0019ff"/>
<rect x="709.66" y="359" width="12" height="5.5" fill="#c7ff38"/>
<rect x="667.66" y="364.5" width="12" height="13.5" fill="#b3ff4c"/>
<rect x="679.66" y="364.5" width="2.15" height="13.5" fill="#0019ff"/>
<rect x="681.81" y="364.5" width="12" height="13.5" fill="#b3ff4c"/>
<rect x="693.81" y="364.5" width="1.85" height="13.5" fill="#0019ff"/>
<rect x="695.66" y="364.5" width="11.9" height="13.5" fill="#b3ff4c"/>
<rect x="707.56" y="364.5" width="2.1" height="13.5" fill="#0019ff"/>
<rect x="709.66" y="364.5" width="12" height="13.5" fill="#c7ff38"/>
<rect x="667.66" y="378" width="12" height="7" fill="#fffa00"/>
<rect x="679.66" y="378" width="2.15" height="7" fill="#0019ff"/>
<rect x="681.81" y="378" width="12" height="7" fill="#b3ff4c"/>
<rect x="693.81" y="378" width="1.85" height="7" fill="#0019ff"/>
<rect x="695.66" y="378" width="11.9" height="7" fill="#b3ff4c"/>
<rect x="707.56" y="378" width="2.1" height="7" fill="#0019ff"/>
<rect x="709.66" y="378" width="12" height="7" fill="#c7ff38"/>
<rect x="667.66" y="385" width="12" height="15" fill="#bdff42"/>
<rect x="679.66" y="385" width="2.15" height="15" fill="#0019ff"/>
<rect x="681.81" y="385" width="12" height="15" fill="#b3ff4c"/>
<rect x="693.81" y="385" width="1.85" height="15" fill="#0019ff"/>
<rect x="695.66" y="385" width="11.9" height="15" fill="#80ff80"/>
<rect x="707.56" y="385" width="2.1" height="15" fill="#0019ff"/>
<rect x="709.66" y="385" width="12" height="15" fill="#c7ff38"/>
<rect x="667.66" y="400" width="12" height="8.5" fill="#80ff80"/>
<rect x="679.66" y="400" width="2.15" height="8.5" fill="#0019ff"/>
<rect x="681.81" y="400" width="12" height="8.5" fill="#80ff80"/>
<rect x="693.81" y="400" width="1.85" height="8.5" fill="#0019ff"/>
<rect x="695.66" y="400" width="11.9" height="8.5" fill="#6bff94"/>
<rect x="707.56" y="400" width="2.1" height="8.5" fill="#0019ff"/>
<rect x="709.66" y="400" width="12" height="8.5" fill="#80ff80"/>
<rect x="667.66" y="408.5" width="12" height="4.5" fill="#80ff80"/>
<rect x="679.66" y="408.5" width="2.15" height="4.5" fill="#004dff"/>
<rect x="681.81" y="408.5" width="12" height="4.5" fill="#80ff80"/>
<rect x="693.81" y="408.5" width="1.85" height="4.5" fill="#004dff"/>
<rect x="695.66" y="408.5" width="11.9" height="4.5" fill="#80ff80"/>
<rect x="707.56" y="408.5" width="2.1" height="4.5" fill="#004dff"/>
<rect x="709.66" y="408.5" width="12" height="4.5" fill="#80ff80"/>
<rect x="667.66" y="413" width="12" height="4.5" fill="#00b2ff"/>
<rect x="679.66" y="413" width="2.15" height="4.5" fill="#0019ff"/>
<rect x="681.81" y="413" width="12" height="4.5" fill="#00b2ff"/>
<rect x="693.81" y="413" width="1.85" height="4.5" fill="#0019ff"/>
<rect x="695.66" y="413" width="11.9" height="4.5" fill="#00b2ff"/>
<rect x="707.56" y="413" width="2.1" height="4.5" fill="#0019ff"/>
<rect x="709.66" y="413" width="12" height="4.5" fill="#00b2ff"/>
<rect x="667.66" y="417.5" width="12" height="7.5" fill="#c7ff38"/>
<rect x="679.66" y="417.5" width="2.15" height="7.5" fill="#0005ff"/>
<rect x="681.81" y="417.5" width="12" height="7.5" fill="#b3ff4c"/>
<rect x="693.81" y="417.5" width="1.85" height="7.5" fill="#0005ff"/>
<rect x="695.66" y="417.5" width="11.9" height="7.5" fill="#94ff6b"/>
<rect x="707.56" y="417.5" width="2.1" height="7.5" fill="#0005ff"/>
<rect x="709.66" y="417.5" width="12" height="7.5" fill="#b3ff4c"/>
<rect x="667.66" y="425" width="12" height="20.5" fill="#c7ff38"/>
<rect x="679.66" y="425" width="2.15" height="20.5" fill="#0005ff"/>
<rect x="681.81" y="425" width="12" height="20.5" fill="#d1ff2e"/>
<rect x="693.81" y="425" width="1.85" height="20.5" fill="#0005ff"/>
<rect x="695.66" y="425" width="11.9" height="20.5" fill="#94ff6b"/>
<rect x="707.56" y="425" width="2.1" height="20.5" fill="#0005ff"/>
<rect x="709.66" y="425" width="12" height="20.5" fill="#b3ff4c"/>
<rect x="667.66" y="445.5" width="12" height="6.5" fill="#d1ff2e"/>
<rect x="679.66" y="445.5" width="2.15" height="6.5" fill="#0005ff"/>
<rect x="681.81" y="445.5" width="12" height="6.5" fill="#d1ff2e"/>
<rect x="693.81" y="445.5" width="1.85" height="6.5" fill="#0005ff"/>
<rect x="695.66" y="445.5" width="11.9" height="6.5" fill="#94ff6b"/>
<rect x="707.56" y="445.5" width="2.1" height="6.5" fill="#0005ff"/>
<rect x="709.66" y="445.5" width="12" height="6.5" fill="#94ff6b"/>
<rect x="667.66" y="452" width="12" height="7" fill="#e5ff1a"/>
<rect x="679.66" y="452" width="2.15" height="7" fill="#0005ff"/>
<rect x="681.81" y="452" width="12" height="7" fill="#ffb300"/>
<rect x="693.81" y="452" width="1.85" height="7" fill="#0005ff"/>
<rect x="695.66" y="452" width="11.9" height="7" fill="#94ff6b"/>
<rect x="707.56" y="452" width="2.1" height="7" fill="#0005ff"/>
<rect x="709.66" y="452" width="12" height="7" fill="#94ff6b"/>
<rect x="667.66" y="459" width="12" height="8" fill="#d1ff2e"/>
<rect x="679.66" y="459" width="2.15" height="8" fill="#0005ff"/>
<rect x="681.81" y="459" width="12" height="8" fill="#faff05"/>
<rect x="693.81" y="459" width="1.85" height="8" fill="#0005ff"/>
<rect x="695.66" y="459" width="11.9" height="8" fill="#94ff6b"/>
<rect x="707.56" y="459" width="2.1" height="8" fill="#0005ff"/>
<rect x="709.66" y="459" width="12" height="8" fill="#94ff6b"/>
<rect x="667.66" y="467" width="12" height="4.5" fill="#2effd1"/>
<rect x="679.66" y="467" width="2.15" height="4.5" fill="#0005ff"/>
<rect x="681.81" y="467" width="12" height="4.5" fill="#2effd1"/>
<rect x="693.81" y="467" width="1.85" height="4.5" fill="#0005ff"/>
<rect x="695.66" y="467" width="11.9" height="4.5" fill="#2effd1"/>
<rect x="707.56" y="467" width="2.1" height="4.5" fill="#0005ff"/>
<rect x="709.66" y="467" width="12" height="4.5" fill="#1affe5"/>
<rect x="667.66" y="471.5" width="12" height="4.5" fill="#80ff80"/>
<rect x="679.66" y="471.5" width="2.15" height="4.5" fill="#0005ff"/>
<rect x="681.81" y="471.5" width="12" height="4.5" fill="#80ff80"/>
<rect x="693.81" y="471.5" width="1.85" height="4.5" fill="#0005ff"/>
<rect x="695.66" y="471.5" width="11.9" height="4.5" fill="#80ff80"/>
<rect x="707.56" y="471.5" width="2.1" height="4.5" fill="#0005ff"/>
<rect x="709.66" y="471.5" width="12" height="4.5" fill="#6bff94"/>
<rect x="667.66" y="476" width="12" height="2.5" fill="#1affe5"/>
<rect x="679.66" y="476" width="2.15" height="2.5" fill="#0005ff"/>
<rect x="681.81" y="476" width="12" height="2.5" fill="#1affe5"/>
<rect x="693.81" y="476" width="1.85" height="2.5" fill="#0005ff"/>
<rect x="695.66" y="476" width="11.9" height="2.5" fill="#1affe5"/>
<rect x="707.56" y="476" width="2.1" height="2.5" fill="#0005ff"/>
<rect x="709.66" y="476" width="12" height="2.5" fill="#1affe5"/>
<rect x="667.66" y="478.5" width="12" height="5" fill="#fffa00"/>
<rect x="679.66" y="478.5" width="2.15" height="5" fill="#0005ff"/>
<rect x="681.81" y="478.5" width="12" height="5" fill="#b3ff4c"/>
<rect x="693.81" y="478.5" width="1.85" height="5" fill="#0005ff"/>
<rect x="695.66" y="478.5" width="11.9" height="5" fill="#80ff80"/>
<rect x="707.56" y="478.5" width="2.1" height="5" fill="#0005ff"/>
<rect x="709.66" y="478.5" width="12" height="5" fill="#80ff80"/>
<rect x="667.66" y="483.5" width="12" height="2.5" fill="#2effd1"/>
<rect x="679.66" y="483.5" width="2.15" height="2.5" fill="#0005ff"/>
<rect x="681.81" y="483.5" width="12" height="2.5" fill="#2effd1"/>
<rect x="693.81" y="483.5" width="1.85" height="2.5" fill="#0005ff"/>
<rect x="695.66" y="483.5" width="11.9" height="2.5" fill="#2effd1"/>
<rect x="707.56" y="483.5" width="2.1" height="2.5" fill="#0005ff"/>
<rect x="709.66" y="483.5" width="12" height="2.5" fill="#2effd1"/>
<rect x="667.66" y="486" width="12" height="2.5" fill="#faff05"/>
<rect x="679.66" y="486" width="2.15" height="2.5" fill="#0005ff"/>
<rect x="681.81" y="486" width="12" height="2.5" fill="#b3ff4c"/>
<rect x="693.81" y="486" width="1.85" height="2.5" fill="#0005ff"/>
<rect x="695.66" y="486" width="11.9" height="2.5" fill="#80ff80"/>
<rect x="707.56" y="486" width="2.1" height="2.5" fill="#0005ff"/>
<rect x="709.66" y="486" width="12" height="2.5" fill="#80ff80"/>
<rect x="667.66" y="488.5" width="12" height="7.5" fill="#1affe5"/>
<rect x="679.66" y="488.5" width="2.15" height="7.5" fill="#0005ff"/>
<rect x="681.81" y="488.5" width="12" height="7.5" fill="#1affe5"/>
<rect x="693.81" y="488.5" width="1.85" height="7.5" fill="#0005ff"/>
<rect x="695.66" y="488.5" width="11.9" height="7.5" fill="#1affe5"/>
<rect x="707.56" y="488.5" width="2.1" height="7.5" fill="#0005ff"/>
<rect x="709.66" y="488.5" width="12" height="7.5" fill="#1affe5"/>
<rect x="667.66" y="496" width="12" height="11" fill="#94ff6b"/>
<rect x="679.66" y="496" width="2.15" height="11" fill="#0005ff"/>
<rect x="681.81" y="496" width="12" height="11" fill="#94ff6b"/>
<rect x="693.81" y="496" width="1.85" height="11" fill="#0005ff"/>
<rect x="695.66" y="496" width="11.9" height="11" fill="#80ff80"/>
<rect x="707.56" y="496" width="2.1" height="11" fill="#0005ff"/>
<rect x="709.66" y="496" width="12" height="11" fill="#80ff80"/>
<rect x="667.66" y="507" width="12" height="10.5" fill="#2effd1"/>
<rect x="679.66" y="507" width="2.15" height="10.5" fill="#0005ff"/>
<rect x="681.81" y="507" width="12" height="10.5" fill="#4dffb2"/>
<rect x="693.81" y="507" width="1.85" height="10.5" fill="#0005ff"/>
<rect x="695.66" y="507" width="11.9" height="10.5" fill="#4dffb2"/>
<rect x="707.56" y="507" width="2.1" height="10.5" fill="#0005ff"/>
<rect x="709.66" y="507" width="12" height="10.5" fill="#2effd1"/>
<rect x="667.66" y="517.5" width="12" height="5" fill="#b3ff4c"/>
<rect x="679.66" y="517.5" width="2.15" height="5" fill="#0005ff"/>
<rect x="681.81" y="517.5" width="12" height="5" fill="#e5ff1a"/>
<rect x="693.81" y="517.5" width="1.85" height="5" fill="#0005ff"/>
<rect x="695.66" y="517.5" width="11.9" height="5" fill="#b3ff4c"/>
<rect x="707.56" y="517.5" width="2.1" height="5" fill="#0005ff"/>
<rect x="709.66" y="517.5" width="12" height="5" fill="#80ff80"/>
<rect x="667.66" y="522.5" width="12" height="11" fill="#a8ff57"/>
<rect x="679.66" y="522.5" width="2.15" height="11" fill="#0005ff"/>
<rect x="681.81" y="522.5" width="12" height="11" fill="#b3ff4c"/>
<rect x="693.81" y="522.5" width="1.85" height="11" fill="#0005ff"/>
<rect x="695.66" y="522.5" width="11.9" height="11" fill="#94ff6b"/>
<rect x="707.56" y="522.5" width="2.1" height="11" fill="#0005ff"/>
<rect x="709.66" y="522.5" width="12" height="11" fill="#94ff6b"/>
<rect x="667.66" y="533.5" width="12" height="8.1" fill="#b3ff4c"/>
<rect x="679.66" y="533.5" width="2.15" height="8.1" fill="#0005ff"/>
<rect x="681.81" y="533.5" width="12" height="8.1" fill="#b3ff4c"/>
<rect x="693.81" y="533.5" width="1.85" height="8.1" fill="#0005ff"/>
<rect x="695.66" y="533.5" width="11.9" height="8.1" fill="#94ff6b"/>
<rect x="707.56" y="533.5" width="2.1" height="8.1" fill="#0005ff"/>
<rect x="709.66" y="533.5" width="12" height="8.1" fill="#94ff6b"/>
<rect x="667.66" y="541.6" width="12" height="5.4" fill="#fffa00"/>
<rect x="679.66" y="541.6" width="2.15" height="5.4" fill="#0005ff"/>
<rect x="681.81" y="541.6" width="12" height="5.4" fill="#faff05"/>
<rect x="693.81" y="541.6" width="1.85" height="5.4" fill="#0005ff"/>
<rect x="695.66" y="541.6" width="11.9" height="5.4" fill="#94ff6b"/>
<rect x="707.56" y="541.6" width="2.1" height="5.4" fill="#0005ff"/>
<rect x="709.66" y="541.6" width="12" height="5.4" fill="#94ff6b"/>
<rect x="667.66" y="547" width="12" height="3.5" fill="#fff000"/>
<rect x="679.66" y="547" width="2.15" height="3.5" fill="#004dff"/>
<rect x="681.81" y="547" width="12" height="3.5" fill="#faff05"/>
<rect x="693.81" y="547" width="1.85" height="3.5" fill="#004dff"/>
<rect x="695.66" y="547" width="11.9" height="3.5" fill="#b3ff4c"/>
<rect x="707.56" y="547" width="2.1" height="3.5" fill="#004dff"/>
<rect x="709.66" y="547" width="12" height="3.5" fill="#b3ff4c"/>
<rect x="667.66" y="550.5" width="12" height="6.5" fill="#b3ff4c"/>
<rect x="679.66" y="550.5" width="2.15" height="6.5" fill="#0005ff"/>
<rect x="681.81" y="550.5" width="12" height="6.5" fill="#e5ff1a"/>
<rect x="693.81" y="550.5" width="1.85" height="6.5" fill="#0005ff"/>
<rect x="695.66" y="550.5" width="11.9" height="6.5" fill="#b3ff4c"/>
<rect x="707.56" y="550.5" width="2.1" height="6.5" fill="#0005ff"/>
<rect x="709.66" y="550.5" width="12" height="6.5" fill="#b3ff4c"/>
<rect x="667.66" y="557" width="12" height="11" fill="#b3ff4c"/>
<rect x="679.66" y="557" width="2.15" height="11" fill="#0005ff"/>
<rect x="681.81" y="557" width="12" height="11" fill="#c7ff38"/>
<rect x="693.81" y="557" width="1.85" height="11" fill="#0005ff"/>
<rect x="695.66" y="557" width="11.9" height="11" fill="#b3ff4c"/>
<rect x="707.56" y="557" width="2.1" height="11" fill="#0005ff"/>
<rect x="709.66" y="557" width="12" height="11" fill="#b3ff4c"/>
<rect x="667.66" y="568" width="12" height="3" fill="#b3ff4c"/>
<rect x="679.66" y="568" width="2.15" height="3" fill="#0005ff"/>
<rect x="681.81" y="568" width="12" height="3" fill="#b3ff4c"/>
<rect x="693.81" y="568" width="1.85" height="3" fill="#0005ff"/>
<rect x="695.66" y="568" width="11.9" height="3" fill="#b3ff4c"/>
<rect x="707.56" y="568" width="2.1" height="3" fill="#0005ff"/>
<rect x="709.66" y="568" width="12" height="3" fill="#b3ff4c"/>
<rect x="667.66" y="571" width="12" height="2" fill="#faff05"/>
<rect x="679.66" y="571" width="2.15" height="2" fill="#0019ff"/>
<rect x="681.81" y="571" width="12" height="2" fill="#faff05"/>
<rect x="693.81" y="571" width="1.85" height="2" fill="#0019ff"/>
<rect x="695.66" y="571" width="11.9" height="2" fill="#e5ff1a"/>
<rect x="707.56" y="571" width="2.1" height="2" fill="#0019ff"/>
<rect x="709.66" y="571" width="12" height="2" fill="#d1ff2e"/>
<rect x="667.66" y="573" width="12" height="6.5" fill="#ff9e00"/>
<rect x="679.66" y="573" width="2.15" height="6.5" fill="#0019ff"/>
<rect x="681.81" y="573" width="12" height="6.5" fill="#ffb300"/>
<rect x="693.81" y="573" width="1.85" height="6.5" fill="#0019ff"/>
<rect x="695.66" y="573" width="11.9" height="6.5" fill="#fff000"/>
<rect x="707.56" y="573" width="2.1" height="6.5" fill="#0019ff"/>
<rect x="709.66" y="573" width="12" height="6.5" fill="#faff05"/>
<rect x="667.66" y="579.5" width="12" height="1.5" fill="#faff05"/>
<rect x="679.66" y="579.5" width="2.15" height="1.5" fill="#0019ff"/>
<rect x="681.81" y="579.5" width="12" height="1.5" fill="#faff05"/>
<rect x="693.81" y="579.5" width="1.85" height="1.5" fill="#0019ff"/>
<rect x="695.66" y="579.5" width="11.9" height="1.5" fill="#e5ff1a"/>
<rect x="707.56" y="579.5" width="2.1" height="1.5" fill="#0019ff"/>
<rect x="709.66" y="579.5" width="12" height="1.5" fill="#d1ff2e"/>
<rect x="667.66" y="581" width="12" height="9.5" fill="#a8ff57"/>
<rect x="679.66" y="581" width="2.15" height="9.5" fill="#0005ff"/>
<rect x="681.81" y="581" width="12" height="9.5" fill="#c7ff38"/>
<rect x="693.81" y="581" width="1.85" height="9.5" fill="#0005ff"/>
<rect x="695.66" y="581" width="11.9" height="9.5" fill="#b3ff4c"/>
<rect x="707.56" y="581" width="2.1" height="9.5" fill="#0005ff"/>
<rect x="709.66" y="581" width="12" height="9.5" fill="#c7ff38"/>
<rect x="667.66" y="590.5" width="12" height="5" fill="#faff05"/>
<rect x="679.66" y="590.5" width="2.15" height="5" fill="#0005ff"/>
<rect x="681.81" y="590.5" width="12" height="5" fill="#faff05"/>
<rect x="693.81" y="590.5" width="1.85" height="5" fill="#0005ff"/>
<rect x="695.66" y="590.5" width="11.9" height="5" fill="#e5ff1a"/>
<rect x="707.56" y="590.5" width="2.1" height="5" fill="#0005ff"/>
<rect x="709.66" y="590.5" width="12" height="5" fill="#e5ff1a"/>
<rect x="667.66" y="595.5" width="12" height="5" fill="#ffb300"/>
<rect x="679.66" y="595.5" width="2.15" height="5" fill="#000fff"/>
<rect x="681.81" y="595.5" width="12" height="5" fill="#ffb300"/>
<rect x="693.81" y="595.5" width="1.85" height="5" fill="#000fff"/>
<rect x="695.66" y="595.5" width="11.9" height="5" fill="#fff000"/>
<rect x="707.56" y="595.5" width="2.1" height="5" fill="#000fff"/>
<rect x="709.66" y="595.5" width="12" height="5" fill="#faff05"/>
<rect x="667.66" y="600.5" width="12" height="6.5" fill="#6bff94"/>
<rect x="679.66" y="600.5" width="2.15" height="6.5" fill="#0005ff"/>
<rect x="681.81" y="600.5" width="12" height="6.5" fill="#4dffb2"/>
<rect x="693.81" y="600.5" width="1.85" height="6.5" fill="#0005ff"/>
<rect x="695.66" y="600.5" width="11.9" height="6.5" fill="#4dffb2"/>
<rect x="707.56" y="600.5" width="2.1" height="6.5" fill="#0005ff"/>
<rect x="709.66" y="600.5" width="12" height="6.5" fill="#94ff6b"/>
<rect x="666.66" y="600.5" width="56" height="6.5" fill="none" filter="url(#nzm)"/>
<rect x="667.66" y="607" width="12" height="10" fill="#38ffc7"/>
<rect x="679.66" y="607" width="2.15" height="10" fill="#0005ff"/>
<rect x="681.81" y="607" width="12" height="10" fill="#38ffc7"/>
<rect x="693.81" y="607" width="1.85" height="10" fill="#0005ff"/>
<rect x="695.66" y="607" width="11.9" height="10" fill="#38ffc7"/>
<rect x="707.56" y="607" width="2.1" height="10" fill="#0005ff"/>
<rect x="709.66" y="607" width="12" height="10" fill="#4dffb2"/>
<rect x="666.66" y="607" width="56" height="10" fill="none" filter="url(#nzm)"/>
<rect x="667.66" y="625.5" width="12" height="14.5" fill="#bdff42"/>
<rect x="679.66" y="625.5" width="2.15" height="14.5" fill="#0019ff"/>
<rect x="681.81" y="625.5" width="12" height="14.5" fill="#b3ff4c"/>
<rect x="693.81" y="625.5" width="1.85" height="14.5" fill="#0019ff"/>
<rect x="695.66" y="625.5" width="11.9" height="14.5" fill="#94ff6b"/>
<rect x="707.56" y="625.5" width="2.1" height="14.5" fill="#0019ff"/>
<rect x="709.66" y="625.5" width="12" height="14.5" fill="#80ff80"/>
<rect x="667.66" y="640" width="12" height="6" fill="#6bff94"/>
<rect x="679.66" y="640" width="2.15" height="6" fill="#0019ff"/>
<rect x="681.81" y="640" width="12" height="6" fill="#61ff9e"/>
<rect x="693.81" y="640" width="1.85" height="6" fill="#0019ff"/>
<rect x="695.66" y="640" width="11.9" height="6" fill="#57ffa8"/>
<rect x="707.56" y="640" width="2.1" height="6" fill="#0019ff"/>
<rect x="709.66" y="640" width="12" height="6" fill="#57ffa8"/>
<rect x="667.66" y="646" width="12" height="2" fill="#57ffa8"/>
<rect x="679.66" y="646" width="2.15" height="2" fill="#0019ff"/>
<rect x="681.81" y="646" width="12" height="2" fill="#57ffa8"/>
<rect x="693.81" y="646" width="1.85" height="2" fill="#0019ff"/>
<rect x="695.66" y="646" width="11.9" height="2" fill="#57ffa8"/>
<rect x="707.56" y="646" width="2.1" height="2" fill="#0019ff"/>
<rect x="709.66" y="646" width="12" height="2" fill="#57ffa8"/>
<rect x="667.66" y="648" width="12" height="4" fill="#57ffa8"/>
<rect x="679.66" y="648" width="2.15" height="4" fill="#0019ff"/>
<rect x="681.81" y="648" width="12" height="4" fill="#57ffa8"/>
<rect x="693.81" y="648" width="1.85" height="4" fill="#0019ff"/>
<rect x="695.66" y="648" width="11.9" height="4" fill="#57ffa8"/>
<rect x="707.56" y="648" width="2.1" height="4" fill="#0019ff"/>
<rect x="709.66" y="648" width="12" height="4" fill="#57ffa8"/>
<rect x="667.66" y="652" width="12" height="3" fill="#2effd1"/>
<rect x="679.66" y="652" width="2.15" height="3" fill="#0080ff"/>
<rect x="681.81" y="652" width="12" height="3" fill="#2effd1"/>
<rect x="693.81" y="652" width="1.85" height="3" fill="#0080ff"/>
<rect x="695.66" y="652" width="11.9" height="3" fill="#2effd1"/>
<rect x="707.56" y="652" width="2.1" height="3" fill="#0080ff"/>
<rect x="709.66" y="652" width="12" height="3" fill="#2effd1"/>
<rect x="667.66" y="655" width="12" height="3" fill="#4dffb2"/>
<rect x="679.66" y="655" width="2.15" height="3" fill="#004dff"/>
<rect x="681.81" y="655" width="12" height="3" fill="#4dffb2"/>
<rect x="693.81" y="655" width="1.85" height="3" fill="#004dff"/>
<rect x="695.66" y="655" width="11.9" height="3" fill="#4dffb2"/>
<rect x="707.56" y="655" width="2.1" height="3" fill="#004dff"/>
<rect x="709.66" y="655" width="12" height="3" fill="#4dffb2"/>
<rect x="667.66" y="658" width="12" height="3" fill="#faff05"/>
<rect x="679.66" y="658" width="2.15" height="3" fill="#00b2ff"/>
<rect x="681.81" y="658" width="12" height="3" fill="#faff05"/>
<rect x="693.81" y="658" width="1.85" height="3" fill="#00b2ff"/>
<rect x="695.66" y="658" width="11.9" height="3" fill="#faff05"/>
<rect x="707.56" y="658" width="2.1" height="3" fill="#00b2ff"/>
<rect x="709.66" y="658" width="12" height="3" fill="#faff05"/>
<rect x="667.66" y="661" width="12" height="5" fill="#ff9e00"/>
<rect x="679.66" y="661" width="2.15" height="5" fill="#1affe5"/>
<rect x="681.81" y="661" width="12" height="5" fill="#ff9e00"/>
<rect x="693.81" y="661" width="1.85" height="5" fill="#1affe5"/>
<rect x="695.66" y="661" width="11.9" height="5" fill="#ffdb00"/>
<rect x="707.56" y="661" width="2.1" height="5" fill="#1affe5"/>
<rect x="709.66" y="661" width="12" height="5" fill="#fff000"/>
<rect x="667.66" y="666" width="12" height="6" fill="#c7ff38"/>
<rect x="679.66" y="666" width="2.15" height="6" fill="#00b2ff"/>
<rect x="681.81" y="666" width="12" height="6" fill="#c7ff38"/>
<rect x="693.81" y="666" width="1.85" height="6" fill="#00b2ff"/>
<rect x="695.66" y="666" width="11.9" height="6" fill="#c7ff38"/>
<rect x="707.56" y="666" width="2.1" height="6" fill="#00b2ff"/>
<rect x="709.66" y="666" width="12" height="6" fill="#b3ff4c"/>
<rect x="667.66" y="672" width="12" height="7" fill="#ff1a00"/>
<rect x="679.66" y="672" width="2.15" height="7" fill="#e5ff1a"/>
<rect x="681.81" y="672" width="12" height="7" fill="#ff1a00"/>
<rect x="693.81" y="672" width="1.85" height="7" fill="#e5ff1a"/>
<rect x="695.66" y="672" width="11.9" height="7" fill="#ff1a00"/>
<rect x="707.56" y="672" width="2.1" height="7" fill="#e5ff1a"/>
<rect x="709.66" y="672" width="12" height="7" fill="#ff1a00"/>
<rect x="555.81" y="679" width="176.9" height="3.5" fill="#faff05"/>
<rect x="721.66" y="679" width="11.05" height="3.5" fill="#faff05"/>
<rect x="667.66" y="679" width="12" height="3.5" fill="#fa0000"/>
<rect x="679.66" y="679" width="2.15" height="3.5" fill="#ff4c00"/>
<rect x="681.81" y="679" width="12" height="3.5" fill="#fa0000"/>
<rect x="693.81" y="679" width="1.85" height="3.5" fill="#ff4c00"/>
<rect x="695.66" y="679" width="11.9" height="3.5" fill="#fa0000"/>
<rect x="707.56" y="679" width="2.1" height="3.5" fill="#ff4c00"/>
<rect x="709.66" y="679" width="12" height="3.5" fill="#fa0000"/>
<rect x="555.81" y="682.5" width="176.9" height="3" fill="#ffb300"/>
<rect x="721.66" y="682.5" width="11.05" height="3" fill="#ffb300"/>
<rect x="667.66" y="682.5" width="12" height="3" fill="#c70000"/>
<rect x="679.66" y="682.5" width="2.15" height="3" fill="#ff1a00"/>
<rect x="681.81" y="682.5" width="12" height="3" fill="#c70000"/>
<rect x="693.81" y="682.5" width="1.85" height="3" fill="#ff1a00"/>
<rect x="695.66" y="682.5" width="11.9" height="3" fill="#c70000"/>
<rect x="707.56" y="682.5" width="2.1" height="3" fill="#ff1a00"/>
<rect x="709.66" y="682.5" width="12" height="3" fill="#c70000"/>
<rect x="555.81" y="685.5" width="176.9" height="1.8" fill="#e5ff1a"/>
<rect x="721.66" y="685.5" width="11.05" height="1.8" fill="#e5ff1a"/>
<rect x="667.66" y="685.5" width="12" height="1.8" fill="#b30000"/>
<rect x="679.66" y="685.5" width="2.15" height="1.8" fill="#ff1a00"/>
<rect x="681.81" y="685.5" width="12" height="1.8" fill="#b30000"/>
<rect x="693.81" y="685.5" width="1.85" height="1.8" fill="#ff1a00"/>
<rect x="695.66" y="685.5" width="11.9" height="1.8" fill="#b30000"/>
<rect x="707.56" y="685.5" width="2.1" height="1.8" fill="#ff1a00"/>
<rect x="709.66" y="685.5" width="12" height="1.8" fill="#b30000"/>
<rect x="555.81" y="687.3" width="176.9" height="1.5" fill="#2effd1"/>
<rect x="721.66" y="687.3" width="11.05" height="1.5" fill="#4dffb2"/>
<rect x="667.66" y="687.3" width="12" height="1.5" fill="#ffb300"/>
<rect x="679.66" y="687.3" width="2.15" height="1.5" fill="#e5ff1a"/>
<rect x="681.81" y="687.3" width="12" height="1.5" fill="#ffb300"/>
<rect x="693.81" y="687.3" width="1.85" height="1.5" fill="#e5ff1a"/>
<rect x="695.66" y="687.3" width="11.9" height="1.5" fill="#ffb300"/>
<rect x="707.56" y="687.3" width="2.1" height="1.5" fill="#e5ff1a"/>
<rect x="709.66" y="687.3" width="12" height="1.5" fill="#ffb300"/>
<rect x="667.66" y="688.8" width="12" height="3.8" fill="#2effd1"/>
<rect x="679.66" y="688.8" width="2.15" height="3.8" fill="#0080ff"/>
<rect x="681.81" y="688.8" width="12" height="3.8" fill="#2effd1"/>
<rect x="693.81" y="688.8" width="1.85" height="3.8" fill="#0080ff"/>
<rect x="695.66" y="688.8" width="11.9" height="3.8" fill="#2effd1"/>
<rect x="707.56" y="688.8" width="2.1" height="3.8" fill="#0080ff"/>
<rect x="709.66" y="688.8" width="12" height="3.8" fill="#2effd1"/>
<rect x="667.66" y="692.6" width="12" height="6" fill="#1affe5"/>
<rect x="679.66" y="692.6" width="2.15" height="6" fill="#0080ff"/>
<rect x="681.81" y="692.6" width="12" height="6" fill="#1affe5"/>
<rect x="693.81" y="692.6" width="1.85" height="6" fill="#0080ff"/>
<rect x="695.66" y="692.6" width="11.9" height="6" fill="#1affe5"/>
<rect x="707.56" y="692.6" width="2.1" height="6" fill="#0080ff"/>
<rect x="709.66" y="692.6" width="12" height="6" fill="#1affe5"/>
<rect x="555.81" y="698.6" width="176.9" height="2.4" fill="#fff000"/>
<rect x="721.66" y="698.6" width="11.05" height="2.4" fill="#e5ff1a"/>
<rect x="667.66" y="698.6" width="12" height="2.4" fill="#ff6100"/>
<rect x="679.66" y="698.6" width="2.15" height="2.4" fill="#ffdb00"/>
<rect x="681.81" y="698.6" width="12" height="2.4" fill="#ff6100"/>
<rect x="693.81" y="698.6" width="1.85" height="2.4" fill="#ffdb00"/>
<rect x="695.66" y="698.6" width="11.9" height="2.4" fill="#ff6100"/>
<rect x="707.56" y="698.6" width="2.1" height="2.4" fill="#ffdb00"/>
<rect x="709.66" y="698.6" width="12" height="2.4" fill="#ff6100"/>
<rect x="667.66" y="701" width="12" height="3" fill="#ff4c00"/>
<rect x="679.66" y="701" width="2.15" height="3" fill="#4dffb2"/>
<rect x="681.81" y="701" width="12" height="3" fill="#ff4c00"/>
<rect x="693.81" y="701" width="1.85" height="3" fill="#4dffb2"/>
<rect x="695.66" y="701" width="11.9" height="3" fill="#ff4c00"/>
<rect x="707.56" y="701" width="2.1" height="3" fill="#4dffb2"/>
<rect x="709.66" y="701" width="12" height="3" fill="#ff4c00"/>
<rect x="667.66" y="704" width="12" height="1" fill="#faff05"/>
<rect x="679.66" y="704" width="2.15" height="1" fill="#1affe5"/>
<rect x="681.81" y="704" width="12" height="1" fill="#faff05"/>
<rect x="693.81" y="704" width="1.85" height="1" fill="#1affe5"/>
<rect x="695.66" y="704" width="11.9" height="1" fill="#faff05"/>
<rect x="707.56" y="704" width="2.1" height="1" fill="#1affe5"/>
<rect x="709.66" y="704" width="12" height="1" fill="#faff05"/>
<rect x="667.66" y="705" width="12" height="4.7" fill="#ff9e00"/>
<rect x="679.66" y="705" width="2.15" height="4.7" fill="#1affe5"/>
<rect x="681.81" y="705" width="12" height="4.7" fill="#ff9e00"/>
<rect x="693.81" y="705" width="1.85" height="4.7" fill="#1affe5"/>
<rect x="695.66" y="705" width="11.9" height="4.7" fill="#ff9e00"/>
<rect x="707.56" y="705" width="2.1" height="4.7" fill="#1affe5"/>
<rect x="709.66" y="705" width="12" height="4.7" fill="#ff9e00"/>
<rect x="667.66" y="709.7" width="12" height="10.3" fill="#2effd1"/>
<rect x="679.66" y="709.7" width="2.15" height="10.3" fill="#0080ff"/>
<rect x="681.81" y="709.7" width="12" height="10.3" fill="#4dffb2"/>
<rect x="693.81" y="709.7" width="1.85" height="10.3" fill="#0080ff"/>
<rect x="695.66" y="709.7" width="11.9" height="10.3" fill="#4dffb2"/>
<rect x="707.56" y="709.7" width="2.1" height="10.3" fill="#0080ff"/>
<rect x="709.66" y="709.7" width="12" height="10.3" fill="#2effd1"/>
<rect x="555.81" y="183.00" width="176.90" height="9.50" fill="none" filter="url(#nzy)" opacity="0.45"/>
<rect x="555.81" y="183.00" width="176.90" height="9.50" fill="none" filter="url(#nzc)"/>
<rect x="555.81" y="197.30" width="176.90" height="4.10" fill="none" filter="url(#nzy)" opacity="0.45"/>
<rect x="555.81" y="197.30" width="176.90" height="4.10" fill="none" filter="url(#nzc)"/>
<rect x="692.56" y="255" width="33" height="9" fill="#bdff42"/>
<rect x="663.81" y="264" width="57.8" height="1" fill="#1affe5"/>
<rect x="567.96" y="183.2" width="1.2" height="2.8" fill="#e81000"/>
<rect x="567.96" y="189" width="1.2" height="2.6" fill="#e81000"/>
<rect x="567.96" y="197.3" width="1.2" height="2.6" fill="#e81000"/>
<rect x="566.96" y="199.6" width="3.2" height="1.7" fill="#e81000"/>
<rect x="568.06" y="178" width="1" height="3.5" fill="#ff6000"/>
<rect x="581.18" y="183.2" width="1.2" height="1.8" fill="#ff8a00"/>
<rect x="581.18" y="189" width="1.2" height="1.6" fill="#ff8a00"/>
<rect x="581.18" y="197.3" width="1.2" height="1.6" fill="#ff8a00"/>
<rect x="580.78" y="199.6" width="2" height="1.7" fill="#ff8a00"/>
<rect x="607.62" y="183.2" width="1.2" height="2.8" fill="#e81000"/>
<rect x="607.62" y="189" width="1.2" height="2.6" fill="#e81000"/>
<rect x="607.62" y="197.3" width="1.2" height="2.6" fill="#e81000"/>
<rect x="606.62" y="199.6" width="3.2" height="1.7" fill="#e81000"/>
<rect x="607.72" y="178" width="1" height="3.5" fill="#ff6000"/>
<rect x="620.84" y="183.2" width="1.2" height="1.8" fill="#ff8a00"/>
<rect x="620.84" y="189" width="1.2" height="1.6" fill="#ff8a00"/>
<rect x="620.84" y="197.3" width="1.2" height="1.6" fill="#ff8a00"/>
<rect x="620.44" y="199.6" width="2" height="1.7" fill="#ff8a00"/>
<rect x="634.06" y="183.2" width="1.2" height="1.8" fill="#ff8a00"/>
<rect x="634.06" y="189" width="1.2" height="1.6" fill="#ff8a00"/>
<rect x="634.06" y="197.3" width="1.2" height="1.6" fill="#ff8a00"/>
<rect x="633.66" y="199.6" width="2" height="1.7" fill="#ff8a00"/>
<rect x="647.28" y="183.2" width="1.2" height="2.8" fill="#e81000"/>
<rect x="647.28" y="189" width="1.2" height="2.6" fill="#e81000"/>
<rect x="647.28" y="197.3" width="1.2" height="2.6" fill="#e81000"/>
<rect x="646.28" y="199.6" width="3.2" height="1.7" fill="#e81000"/>
<rect x="647.38" y="178" width="1" height="3.5" fill="#ff6000"/>
<rect x="660.5" y="183.2" width="1.2" height="1.8" fill="#ff8a00"/>
<rect x="660.5" y="189" width="1.2" height="1.6" fill="#ff8a00"/>
<rect x="660.5" y="197.3" width="1.2" height="1.6" fill="#ff8a00"/>
<rect x="660.1" y="199.6" width="2" height="1.7" fill="#ff8a00"/>
<rect x="673.72" y="183.2" width="1.2" height="1.8" fill="#ff8a00"/>
<rect x="673.72" y="189" width="1.2" height="1.6" fill="#ff8a00"/>
<rect x="673.72" y="197.3" width="1.2" height="1.6" fill="#ff8a00"/>
<rect x="673.32" y="199.6" width="2" height="1.7" fill="#ff8a00"/>
<rect x="686.94" y="183.2" width="1.2" height="1.8" fill="#ff8a00"/>
<rect x="686.94" y="189" width="1.2" height="1.6" fill="#ff8a00"/>
<rect x="686.94" y="197.3" width="1.2" height="1.6" fill="#ff8a00"/>
<rect x="686.54" y="199.6" width="2" height="1.7" fill="#ff8a00"/>
<rect x="700.16" y="183.2" width="1.2" height="1.8" fill="#ff8a00"/>
<rect x="700.16" y="189" width="1.2" height="1.6" fill="#ff8a00"/>
<rect x="700.16" y="197.3" width="1.2" height="1.6" fill="#ff8a00"/>
<rect x="699.76" y="199.6" width="2" height="1.7" fill="#ff8a00"/>
<rect x="713.38" y="183.2" width="1.2" height="2.8" fill="#e81000"/>
<rect x="713.38" y="189" width="1.2" height="2.6" fill="#e81000"/>
<rect x="713.38" y="197.3" width="1.2" height="2.6" fill="#e81000"/>
<rect x="712.38" y="199.6" width="3.2" height="1.7" fill="#e81000"/>
<rect x="713.48" y="178" width="1" height="3.5" fill="#ff6000"/>
<rect x="726.6" y="183.2" width="1.2" height="1.8" fill="#ff8a00"/>
<rect x="726.6" y="189" width="1.2" height="1.6" fill="#ff8a00"/>
<rect x="726.6" y="197.3" width="1.2" height="1.6" fill="#ff8a00"/>
<rect x="726.2" y="199.6" width="2" height="1.7" fill="#ff8a00"/>
<rect x="576.21" y="178" width="64" height="4" fill="url(#hs)"/>
<rect x="607.21" y="183.2" width="2" height="9.3" fill="#e01000"/>
<rect x="607.21" y="197.3" width="2" height="4" fill="#e01000"/>
<rect x="708.81" y="178" width="24" height="1.2" fill="#ff7000" opacity="0.9"/>
<rect x="696.81" y="178" width="12" height="1.2" fill="#ffe000" opacity="0.8"/>
<ellipse cx="608.21" cy="206.5" rx="15" ry="4.5" fill="url(#hr)"/>
<rect x="607.21" y="204.2" width="2" height="7" fill="#f02000"/>
<rect x="606.71" y="212.3" width="3" height="1.2" fill="#40ffc0"/>
<rect x="648.31" y="205" width="1.4" height="1.2" fill="#ff3000"/>
<rect x="648.31" y="208" width="1.4" height="1.2" fill="#ff3000"/>
<rect x="648.31" y="211" width="1.4" height="1.2" fill="#ff3000"/>
<rect x="648.31" y="214" width="1.4" height="1.2" fill="#ff3000"/>
<rect x="648.31" y="217" width="1.4" height="1.2" fill="#ff3000"/>
<rect x="648.31" y="220" width="1.4" height="1.2" fill="#ff3000"/>
<rect x="648.31" y="220.8" width="1.4" height="1.5" fill="#ffd000"/>
<rect x="602.56" y="89.5" width="2" height="1.5" fill="#60ffa0"/>
<ellipse cx="603.56" cy="96" rx="6" ry="1.6" fill="url(#hr)"/>
<rect x="602.56" y="95.2" width="2" height="1.8" fill="#f01000"/>
<rect x="602.56" y="99" width="2" height="1" fill="#ffe000"/>
<rect x="602.56" y="105" width="2" height="2" fill="#ffd000"/>
<rect x="627.31" y="105.5" width="1.2" height="1.5" fill="#30ffd0"/>
<rect x="567.61" y="235" width="1.3" height="1" fill="#ff9000"/>
<rect x="567.61" y="239.2" width="1.3" height="0.9" fill="#e02000"/>
<rect x="567.61" y="241" width="1.3" height="2.5" fill="#ffe000"/>
<rect x="649.81" y="571.50" width="17.85" height="9.00" fill="url(#hz)" opacity="0.70"/>
<rect x="651.81" y="658.00" width="15.85" height="8.00" fill="url(#hz)" opacity="0.80"/>
<rect x="648.81" y="701.00" width="18.85" height="8.70" fill="url(#hz)" opacity="1.00"/>
<rect x="555.81" y="84" width="176.9" height="1" fill="#fff"/>
<rect x="555.81" y="85" width="176.9" height="2" fill="#000"/>
<rect x="555.81" y="91" width="176.9" height="2" fill="#000"/>
<rect x="555.81" y="94.2" width="176.9" height="0.8" fill="#fff"/>
<rect x="555.81" y="97.3" width="176.9" height="1.7" fill="#000"/>
<rect x="555.81" y="100" width="176.9" height="5" fill="#fff"/>
<rect x="555.81" y="107" width="176.9" height="8" fill="#000"/>
<rect x="555.81" y="115" width="176.9" height="1" fill="#fff"/>
<rect x="555.81" y="116" width="176.9" height="2" fill="#000"/>
<rect x="555.81" y="118" width="176.9" height="1" fill="#fff"/>
<rect x="555.81" y="119" width="176.9" height="1" fill="#000"/>
<rect x="555.81" y="120" width="176.9" height="1" fill="#fff"/>
<rect x="555.81" y="121" width="176.9" height="5" fill="#000"/>
<rect x="555.81" y="126" width="176.9" height="1" fill="#fff"/>
<rect x="555.81" y="127" width="176.9" height="2" fill="#000"/>
<rect x="555.81" y="129" width="176.9" height="5" fill="#fff"/>
<rect x="555.81" y="134" width="176.9" height="1" fill="#000"/>
<rect x="555.81" y="137" width="176.9" height="1" fill="#000"/>
<rect x="555.81" y="139" width="176.9" height="1" fill="#000"/>
<rect x="555.81" y="140" width="176.9" height="0.7" fill="#fff"/>
<rect x="555.81" y="140.7" width="176.9" height="0.5" fill="#000"/>
<rect x="555.81" y="142.4" width="176.9" height="1.9" fill="#fff"/>
<rect x="555.81" y="145.5" width="176.9" height="1" fill="#000"/>
<rect x="555.81" y="149" width="176.9" height="1" fill="#000"/>
<rect x="555.81" y="150" width="176.9" height="4" fill="#fff"/>
<rect x="555.81" y="158" width="176.9" height="1.2" fill="#000"/>
<rect x="555.81" y="159.2" width="176.9" height="7.8" fill="#fff"/>
<rect x="555.81" y="177" width="176.9" height="1" fill="#000"/>
<rect x="555.81" y="182" width="176.9" height="1.2" fill="#000"/>
<rect x="555.81" y="186.7" width="176.9" height="2.3" fill="#000"/>
<rect x="555.81" y="192.6" width="176.9" height="3.4" fill="#fff"/>
<rect x="555.81" y="201.3" width="176.9" height="1.2" fill="#000"/>
<rect x="555.81" y="202.8" width="176.9" height="1.2" fill="#fff"/>
<rect x="555.81" y="223.5" width="176.9" height="8.5" fill="#000"/>
<rect x="555.81" y="240" width="176.9" height="1" fill="#fff"/>
<rect x="555.81" y="243.5" width="176.9" height="5.5" fill="#fff"/>
<rect x="555.81" y="252" width="176.9" height="1" fill="#fff"/>
<rect x="555.81" y="275" width="176.9" height="1" fill="#000"/>
<rect x="555.81" y="283" width="176.9" height="5" fill="#000"/>
<rect x="555.81" y="289" width="176.9" height="1" fill="#fff"/>
<rect x="555.81" y="298" width="176.9" height="4" fill="#fff"/>
<rect x="555.81" y="323" width="176.9" height="1" fill="#fff"/>
<rect x="555.81" y="330" width="176.9" height="1" fill="#fff"/>
<rect x="555.81" y="345" width="176.9" height="1" fill="#fff"/>
<rect x="555.81" y="357" width="176.9" height="4" fill="#fff"/>
<rect x="555.81" y="361" width="176.9" height="1" fill="#000"/>
<rect x="555.81" y="364" width="176.9" height="1" fill="#fff"/>
<rect x="555.81" y="384" width="176.9" height="1" fill="#fff"/>
<rect x="555.81" y="386" width="176.9" height="1" fill="#fff"/>
<rect x="555.81" y="408" width="176.9" height="1" fill="#fff"/>
<rect x="555.81" y="412" width="176.9" height="2" fill="#fff"/>
<rect x="555.81" y="415.5" width="176.9" height="2" fill="#000"/>
<rect x="555.81" y="445" width="176.9" height="1" fill="#fff"/>
<rect x="555.81" y="449" width="176.9" height="1" fill="#fff"/>
<rect x="555.81" y="466" width="176.9" height="2" fill="#fff"/>
<rect x="555.81" y="468" width="176.9" height="1" fill="#000"/>
<rect x="555.81" y="471" width="176.9" height="1" fill="#000"/>
<rect x="555.81" y="475.5" width="176.9" height="1" fill="#000"/>
<rect x="555.81" y="478" width="176.9" height="1" fill="#fff"/>
<rect x="555.81" y="483" width="176.9" height="1" fill="#000"/>
<rect x="555.81" y="488.5" width="176.9" height="3.5" fill="#000"/>
<rect x="555.81" y="495" width="176.9" height="1" fill="#fff"/>
<rect x="555.81" y="497" width="176.9" height="1" fill="#000"/>
<rect x="555.81" y="500" width="176.9" height="1" fill="#000"/>
<rect x="555.81" y="502" width="176.9" height="1" fill="#000"/>
<rect x="555.81" y="505" width="176.9" height="1" fill="#000"/>
<rect x="555.81" y="507" width="176.9" height="1" fill="#000"/>
<rect x="555.81" y="510" width="176.9" height="1" fill="#000"/>
<rect x="555.81" y="512" width="176.9" height="1" fill="#000"/>
<rect x="555.81" y="515" width="176.9" height="1" fill="#000"/>
<rect x="555.81" y="517" width="176.9" height="1" fill="#fff"/>
<rect x="555.81" y="520" width="176.9" height="1.7" fill="#000"/>
<rect x="555.81" y="522" width="176.9" height="1" fill="#fff"/>
<rect x="555.81" y="533" width="176.9" height="1" fill="#fff"/>
<rect x="555.81" y="546" width="176.9" height="1" fill="#000"/>
<rect x="555.81" y="547" width="176.9" height="1.3" fill="#fff"/>
<rect x="555.81" y="550.3" width="176.9" height="1" fill="#000"/>
<rect x="555.81" y="552" width="176.9" height="1" fill="#000"/>
<rect x="555.81" y="556.8" width="176.9" height="1.2" fill="#fff"/>
<rect x="555.81" y="563" width="176.9" height="1.2" fill="#fff"/>
<rect x="555.81" y="566.8" width="176.9" height="1.2" fill="#000"/>
<rect x="555.81" y="580.8" width="176.9" height="1.2" fill="#000"/>
<rect x="555.81" y="590" width="176.9" height="1" fill="#fff"/>
<rect x="555.81" y="595" width="176.9" height="2" fill="#fff"/>
<rect x="555.81" y="600" width="176.9" height="1" fill="#fff"/>
<rect x="555.81" y="621" width="176.9" height="2" fill="#000"/>
<rect x="555.81" y="625" width="176.9" height="1" fill="#fff"/>
<rect x="555.81" y="629" width="176.9" height="1" fill="#000"/>
<rect x="555.81" y="633" width="176.9" height="1" fill="#000"/>
<rect x="555.81" y="637" width="176.9" height="1.6" fill="#000"/>
<rect x="555.81" y="639" width="176.9" height="1.3" fill="#fff"/>
<rect x="555.81" y="640.6" width="176.9" height="1.1" fill="#000"/>
<rect x="555.81" y="651" width="176.9" height="1.3" fill="#fff"/>
<rect x="555.81" y="655" width="176.9" height="2.8" fill="#000"/>
<rect x="555.81" y="666" width="176.9" height="2" fill="#000"/>
<rect x="555.81" y="672" width="176.9" height="2" fill="#fff"/>
<rect x="555.81" y="674" width="176.9" height="3" fill="#000"/>
<rect x="555.81" y="679" width="176.9" height="2" fill="#fff"/>
<rect x="555.81" y="689" width="176.9" height="1" fill="#000"/>
<rect x="555.81" y="692.6" width="176.9" height="2.4" fill="#fff"/>
<rect x="555.81" y="697" width="176.9" height="1.7" fill="#000"/>
<rect x="555.81" y="709.7" width="176.9" height="1.3" fill="#000"/>
<rect x="555.81" y="713.5" width="176.9" height="1.3" fill="#000"/>
<rect x="555.81" y="714.8" width="176.9" height="5.2" fill="#fff"/>
<rect x="597.21" y="176.6" width="22" height="1.4" fill="url(#hs)"/>
<rect x="604.21" y="175.6" width="8" height="1" fill="#a0ff60"/>
<rect x="607.21" y="175.6" width="2" height="6.4" fill="#b80000"/>
<rect x="555.81" y="80" width="176.90" height="640" fill="none" stroke="#000" stroke-width="1"/>
<line x1="555.81" y1="720" x2="555.81" y2="714.5" stroke="#000" stroke-width="1"/>
<line x1="555.81" y1="80" x2="555.81" y2="85.5" stroke="#000" stroke-width="1"/>
<line x1="597.40" y1="720" x2="597.40" y2="714.5" stroke="#000" stroke-width="1"/>
<line x1="597.40" y1="80" x2="597.40" y2="85.5" stroke="#000" stroke-width="1"/>
<line x1="638.99" y1="720" x2="638.99" y2="714.5" stroke="#000" stroke-width="1"/>
<line x1="638.99" y1="80" x2="638.99" y2="85.5" stroke="#000" stroke-width="1"/>
<line x1="680.58" y1="720" x2="680.58" y2="714.5" stroke="#000" stroke-width="1"/>
<line x1="680.58" y1="80" x2="680.58" y2="85.5" stroke="#000" stroke-width="1"/>
<line x1="722.17" y1="720" x2="722.17" y2="714.5" stroke="#000" stroke-width="1"/>
<line x1="722.17" y1="80" x2="722.17" y2="85.5" stroke="#000" stroke-width="1"/>
<line x1="555.81" y1="720.00" x2="561.31" y2="720.00" stroke="#000" stroke-width="1"/>
<line x1="732.71" y1="720.00" x2="727.21" y2="720.00" stroke="#000" stroke-width="1"/>
<line x1="555.81" y1="586.67" x2="561.31" y2="586.67" stroke="#000" stroke-width="1"/>
<line x1="732.71" y1="586.67" x2="727.21" y2="586.67" stroke="#000" stroke-width="1"/>
<line x1="555.81" y1="453.33" x2="561.31" y2="453.33" stroke="#000" stroke-width="1"/>
<line x1="732.71" y1="453.33" x2="727.21" y2="453.33" stroke="#000" stroke-width="1"/>
<line x1="555.81" y1="320.00" x2="561.31" y2="320.00" stroke="#000" stroke-width="1"/>
<line x1="732.71" y1="320.00" x2="727.21" y2="320.00" stroke="#000" stroke-width="1"/>
<line x1="555.81" y1="186.67" x2="561.31" y2="186.67" stroke="#000" stroke-width="1"/>
<line x1="732.71" y1="186.67" x2="727.21" y2="186.67" stroke="#000" stroke-width="1"/>
</g>
<text class="t14" x="644.26" y="72.6" text-anchor="middle">XY, V5*V11=EA08*EA14</text>
<text class="tk" x="556.21" y="735.7" text-anchor="middle">320</text>
<text class="tk" x="597.80" y="735.7" text-anchor="middle">335</text>
<text class="tk" x="639.39" y="735.7" text-anchor="middle">350</text>
<text class="tk" x="680.98" y="735.7" text-anchor="middle">365</text>
<text class="tk" x="722.57" y="735.7" text-anchor="middle">380</text>
<text class="tk" x="551.31" y="723.00" text-anchor="end">0</text>
<text class="tk" x="551.31" y="589.67" text-anchor="end">5</text>
<text class="tk" x="551.31" y="456.33" text-anchor="end">10</text>
<text class="tk" x="551.31" y="323.00" text-anchor="end">15</text>
<text class="tk" x="551.31" y="189.67" text-anchor="end">20</text>
<g shape-rendering="crispEdges">
<rect x="768.09" y="80" width="176.9" height="11" fill="#000fff"/>
<rect x="933.94" y="80" width="11.05" height="11" fill="#002eff"/>
<rect x="879.94" y="80" width="12" height="11" fill="#00b2ff"/>
<rect x="891.94" y="80" width="2.15" height="11" fill="#0094ff"/>
<rect x="894.09" y="80" width="12" height="11" fill="#00b2ff"/>
<rect x="906.09" y="80" width="1.85" height="11" fill="#0094ff"/>
<rect x="907.94" y="80" width="11.9" height="11" fill="#009eff"/>
<rect x="919.84" y="80" width="2.1" height="11" fill="#0094ff"/>
<rect x="921.94" y="80" width="12" height="11" fill="#008aff"/>
<rect x="768.09" y="91" width="176.9" height="8" fill="#000fff"/>
<rect x="933.94" y="91" width="11.05" height="8" fill="#002eff"/>
<rect x="879.94" y="91" width="12" height="8" fill="#0094ff"/>
<rect x="891.94" y="91" width="2.15" height="8" fill="#0080ff"/>
<rect x="894.09" y="91" width="12" height="8" fill="#0094ff"/>
<rect x="906.09" y="91" width="1.85" height="8" fill="#0080ff"/>
<rect x="907.94" y="91" width="11.9" height="8" fill="#0094ff"/>
<rect x="919.84" y="91" width="2.1" height="8" fill="#0080ff"/>
<rect x="921.94" y="91" width="12" height="8" fill="#0094ff"/>
<rect x="768.09" y="99" width="176.9" height="1" fill="#004dff"/>
<rect x="933.94" y="99" width="11.05" height="1" fill="#004dff"/>
<rect x="768.09" y="100" width="176.9" height="7" fill="#001aff"/>
<rect x="933.94" y="100" width="11.05" height="7" fill="#004dff"/>
<rect x="768.09" y="107" width="176.9" height="28" fill="#0005ff"/>
<rect x="933.94" y="107" width="11.05" height="28" fill="#0005ff"/>
<rect x="879.94" y="107" width="12" height="28" fill="#0019ff"/>
<rect x="891.94" y="107" width="2.15" height="28" fill="#0019ff"/>
<rect x="894.09" y="107" width="12" height="28" fill="#0019ff"/>
<rect x="906.09" y="107" width="1.85" height="28" fill="#0019ff"/>
<rect x="907.94" y="107" width="11.9" height="28" fill="#0019ff"/>
<rect x="919.84" y="107" width="2.1" height="28" fill="#0019ff"/>
<rect x="921.94" y="107" width="12" height="28" fill="#0019ff"/>
<rect x="768.09" y="135" width="176.9" height="14" fill="#000fff"/>
<rect x="933.94" y="135" width="11.05" height="14" fill="#002eff"/>
<rect x="879.94" y="135" width="12" height="14" fill="#00a8ff"/>
<rect x="891.94" y="135" width="2.15" height="14" fill="#0094ff"/>
<rect x="894.09" y="135" width="12" height="14" fill="#00bdff"/>
<rect x="906.09" y="135" width="1.85" height="14" fill="#0094ff"/>
<rect x="907.94" y="135" width="11.9" height="14" fill="#00a8ff"/>
<rect x="919.84" y="135" width="2.1" height="14" fill="#0094ff"/>
<rect x="921.94" y="135" width="12" height="14" fill="#0094ff"/>
<rect x="768.09" y="149" width="176.9" height="1" fill="#004dff"/>
<rect x="933.94" y="149" width="11.05" height="1" fill="#004dff"/>
<rect x="768.09" y="150" width="176.9" height="8" fill="#001aff"/>
<rect x="933.94" y="150" width="11.05" height="8" fill="#002eff"/>
<rect x="879.94" y="150" width="12" height="8" fill="#0094ff"/>
<rect x="891.94" y="150" width="2.15" height="8" fill="#0094ff"/>
<rect x="894.09" y="150" width="12" height="8" fill="#00b2ff"/>
<rect x="906.09" y="150" width="1.85" height="8" fill="#0094ff"/>
<rect x="907.94" y="150" width="11.9" height="8" fill="#0094ff"/>
<rect x="919.84" y="150" width="2.1" height="8" fill="#0094ff"/>
<rect x="921.94" y="150" width="12" height="8" fill="#0094ff"/>
<rect x="768.09" y="158" width="176.9" height="1.2" fill="#004dff"/>
<rect x="933.94" y="158" width="11.05" height="1.2" fill="#004dff"/>
<rect x="768.09" y="159.2" width="176.9" height="17.8" fill="#000fff"/>
<rect x="933.94" y="159.2" width="11.05" height="17.8" fill="#0024ff"/>
<rect x="879.94" y="159.2" width="12" height="17.8" fill="#00a8ff"/>
<rect x="891.94" y="159.2" width="2.15" height="17.8" fill="#0075ff"/>
<rect x="894.09" y="159.2" width="12" height="17.8" fill="#00bdff"/>
<rect x="906.09" y="159.2" width="1.85" height="17.8" fill="#0075ff"/>
<rect x="907.94" y="159.2" width="11.9" height="17.8" fill="#0094ff"/>
<rect x="919.84" y="159.2" width="2.1" height="17.8" fill="#0075ff"/>
<rect x="921.94" y="159.2" width="12" height="17.8" fill="#0094ff"/>
<rect x="768.09" y="192.5" width="176.9" height="4.8" fill="#00b2ff"/>
<rect x="933.94" y="192.5" width="11.05" height="4.8" fill="#00b2ff"/>
<rect x="879.94" y="192.5" width="12" height="4.8" fill="#00b2ff"/>
<rect x="891.94" y="192.5" width="2.15" height="4.8" fill="#00b2ff"/>
<rect x="894.09" y="192.5" width="12" height="4.8" fill="#00b2ff"/>
<rect x="906.09" y="192.5" width="1.85" height="4.8" fill="#00b2ff"/>
<rect x="907.94" y="192.5" width="11.9" height="4.8" fill="#00b2ff"/>
<rect x="919.84" y="192.5" width="2.1" height="4.8" fill="#00b2ff"/>
<rect x="921.94" y="192.5" width="12" height="4.8" fill="#00b2ff"/>
<rect x="768.09" y="202" width="176.9" height="2.2" fill="#004dff"/>
<rect x="933.94" y="202" width="11.05" height="2.2" fill="#004dff"/>
<rect x="879.94" y="202" width="12" height="2.2" fill="#004dff"/>
<rect x="891.94" y="202" width="2.15" height="2.2" fill="#004dff"/>
<rect x="894.09" y="202" width="12" height="2.2" fill="#004dff"/>
<rect x="906.09" y="202" width="1.85" height="2.2" fill="#004dff"/>
<rect x="907.94" y="202" width="11.9" height="2.2" fill="#004dff"/>
<rect x="919.84" y="202" width="2.1" height="2.2" fill="#004dff"/>
<rect x="921.94" y="202" width="12" height="2.2" fill="#004dff"/>
<rect x="768.09" y="204.2" width="176.9" height="27.8" fill="#000fff"/>
<rect x="933.94" y="204.2" width="11.05" height="27.8" fill="#001aff"/>
<rect x="879.94" y="204.2" width="12" height="27.8" fill="#009eff"/>
<rect x="891.94" y="204.2" width="2.15" height="27.8" fill="#006bff"/>
<rect x="894.09" y="204.2" width="12" height="27.8" fill="#00bdff"/>
<rect x="906.09" y="204.2" width="1.85" height="27.8" fill="#006bff"/>
<rect x="907.94" y="204.2" width="11.9" height="27.8" fill="#009eff"/>
<rect x="919.84" y="204.2" width="2.1" height="27.8" fill="#006bff"/>
<rect x="921.94" y="204.2" width="12" height="27.8" fill="#0080ff"/>
<rect x="768.09" y="232" width="176.9" height="11.5" fill="#000fff"/>
<rect x="933.94" y="232" width="11.05" height="11.5" fill="#001aff"/>
<rect x="879.94" y="232" width="12" height="11.5" fill="#00c7ff"/>
<rect x="891.94" y="232" width="2.15" height="11.5" fill="#0080ff"/>
<rect x="894.09" y="232" width="12" height="11.5" fill="#00dbff"/>
<rect x="906.09" y="232" width="1.85" height="11.5" fill="#0080ff"/>
<rect x="907.94" y="232" width="11.9" height="11.5" fill="#00c7ff"/>
<rect x="919.84" y="232" width="2.1" height="11.5" fill="#0080ff"/>
<rect x="921.94" y="232" width="12" height="11.5" fill="#00b2ff"/>
<rect x="768.09" y="243.5" width="176.9" height="5.5" fill="#0005ff"/>
<rect x="933.94" y="243.5" width="11.05" height="5.5" fill="#0005ff"/>
<rect x="768.09" y="249" width="176.9" height="3.5" fill="#0005ff"/>
<rect x="933.94" y="249" width="11.05" height="3.5" fill="#0005ff"/>
<rect x="768.09" y="252.5" width="176.9" height="2.5" fill="#0005ff"/>
<rect x="933.94" y="252.5" width="11.05" height="2.5" fill="#0005ff"/>
<rect x="768.09" y="255" width="176.9" height="9" fill="#0005ff"/>
<rect x="933.94" y="255" width="11.05" height="9" fill="#0005ff"/>
<rect x="879.94" y="255" width="12" height="9" fill="#002eff"/>
<rect x="891.94" y="255" width="2.15" height="9" fill="#0038ff"/>
<rect x="894.09" y="255" width="12" height="9" fill="#004dff"/>
<rect x="906.09" y="255" width="1.85" height="9" fill="#0038ff"/>
<rect x="907.94" y="255" width="11.9" height="9" fill="#004dff"/>
<rect x="919.84" y="255" width="2.1" height="9" fill="#0038ff"/>
<rect x="921.94" y="255" width="12" height="9" fill="#004dff"/>
<rect x="768.09" y="264" width="176.9" height="1" fill="#0005ff"/>
<rect x="933.94" y="264" width="11.05" height="1" fill="#0005ff"/>
<rect x="879.94" y="264" width="12" height="1" fill="#1affe5"/>
<rect x="891.94" y="264" width="2.15" height="1" fill="#1affe5"/>
<rect x="894.09" y="264" width="12" height="1" fill="#1affe5"/>
<rect x="906.09" y="264" width="1.85" height="1" fill="#1affe5"/>
<rect x="907.94" y="264" width="11.9" height="1" fill="#1affe5"/>
<rect x="919.84" y="264" width="2.1" height="1" fill="#1affe5"/>
<rect x="921.94" y="264" width="12" height="1" fill="#1affe5"/>
<rect x="768.09" y="265" width="176.9" height="4" fill="#0005ff"/>
<rect x="933.94" y="265" width="11.05" height="4" fill="#0005ff"/>
<rect x="768.09" y="269" width="176.9" height="6.5" fill="#0005ff"/>
<rect x="933.94" y="269" width="11.05" height="6.5" fill="#0005ff"/>
<rect x="768.09" y="275.5" width="176.9" height="12.5" fill="#0005ff"/>
<rect x="933.94" y="275.5" width="11.05" height="12.5" fill="#0005ff"/>
<rect x="768.09" y="288" width="176.9" height="12" fill="#0005ff"/>
<rect x="933.94" y="288" width="11.05" height="12" fill="#0005ff"/>
<rect x="879.94" y="288" width="12" height="12" fill="#00f0ff"/>
<rect x="891.94" y="288" width="2.15" height="12" fill="#004dff"/>
<rect x="894.09" y="288" width="12" height="12" fill="#2effd1"/>
<rect x="906.09" y="288" width="1.85" height="12" fill="#004dff"/>
<rect x="907.94" y="288" width="11.9" height="12" fill="#00f0ff"/>
<rect x="919.84" y="288" width="2.1" height="12" fill="#004dff"/>
<rect x="921.94" y="288" width="12" height="12" fill="#00f0ff"/>
<rect x="768.09" y="300" width="176.9" height="12" fill="#0000fa"/>
<rect x="933.94" y="300" width="11.05" height="12" fill="#0000fa"/>
<rect x="768.09" y="312" width="176.9" height="11.5" fill="#0000fa"/>
<rect x="933.94" y="312" width="11.05" height="11.5" fill="#0000fa"/>
<rect x="768.09" y="323.5" width="176.9" height="7" fill="#0000fa"/>
<rect x="933.94" y="323.5" width="11.05" height="7" fill="#0000fa"/>
<rect x="768.09" y="330.5" width="176.9" height="15" fill="#0000fa"/>
<rect x="933.94" y="330.5" width="11.05" height="15" fill="#0000fa"/>
<rect x="768.09" y="345.5" width="176.9" height="13.5" fill="#0005ff"/>
<rect x="933.94" y="345.5" width="11.05" height="13.5" fill="#0005ff"/>
<rect x="768.09" y="359" width="176.9" height="5.5" fill="#0005ff"/>
<rect x="933.94" y="359" width="11.05" height="5.5" fill="#0005ff"/>
<rect x="768.09" y="364.5" width="176.9" height="20.5" fill="#0005ff"/>
<rect x="933.94" y="364.5" width="11.05" height="20.5" fill="#0005ff"/>
<rect x="768.09" y="385" width="176.9" height="15" fill="#0005ff"/>
<rect x="933.94" y="385" width="11.05" height="15" fill="#0005ff"/>
<rect x="768.09" y="400" width="176.9" height="8.5" fill="#0005ff"/>
<rect x="933.94" y="400" width="11.05" height="8.5" fill="#0005ff"/>
<rect x="768.09" y="408.5" width="176.9" height="4.5" fill="#004dff"/>
<rect x="933.94" y="408.5" width="11.05" height="4.5" fill="#004dff"/>
<rect x="768.09" y="413" width="176.9" height="4.5" fill="#0005ff"/>
<rect x="933.94" y="413" width="11.05" height="4.5" fill="#0005ff"/>
<rect x="768.09" y="417.5" width="176.9" height="7.5" fill="#0000fa"/>
<rect x="933.94" y="417.5" width="11.05" height="7.5" fill="#0000f0"/>
<rect x="768.09" y="425" width="176.9" height="20.5" fill="#0000fa"/>
<rect x="933.94" y="425" width="11.05" height="20.5" fill="#0000f0"/>
<rect x="768.09" y="445.5" width="176.9" height="6.5" fill="#0000fa"/>
<rect x="933.94" y="445.5" width="11.05" height="6.5" fill="#0000f0"/>
<rect x="768.09" y="452" width="176.9" height="7" fill="#0000fa"/>
<rect x="933.94" y="452" width="11.05" height="7" fill="#0000f0"/>
<rect x="768.09" y="459" width="176.9" height="8" fill="#0000fa"/>
<rect x="933.94" y="459" width="11.05" height="8" fill="#0000f0"/>
<rect x="768.09" y="467" width="176.9" height="4.5" fill="#0000e5"/>
<rect x="933.94" y="467" width="11.05" height="4.5" fill="#0000e5"/>
<rect x="768.09" y="471.5" width="176.9" height="4.5" fill="#0000e5"/>
<rect x="933.94" y="471.5" width="11.05" height="4.5" fill="#0000e5"/>
<rect x="768.09" y="476" width="176.9" height="2.5" fill="#0000e5"/>
<rect x="933.94" y="476" width="11.05" height="2.5" fill="#0000e5"/>
<rect x="768.09" y="478.5" width="176.9" height="5" fill="#0000e5"/>
<rect x="933.94" y="478.5" width="11.05" height="5" fill="#0000e5"/>
<rect x="768.09" y="483.5" width="176.9" height="2.5" fill="#0000e5"/>
<rect x="933.94" y="483.5" width="11.05" height="2.5" fill="#0000e5"/>
<rect x="768.09" y="486" width="176.9" height="2.5" fill="#0000e5"/>
<rect x="933.94" y="486" width="11.05" height="2.5" fill="#0000e5"/>
<rect x="768.09" y="488.5" width="176.9" height="7.5" fill="#0000e5"/>
<rect x="933.94" y="488.5" width="11.05" height="7.5" fill="#0000e5"/>
<rect x="768.09" y="496" width="176.9" height="11" fill="#0000db"/>
<rect x="933.94" y="496" width="11.05" height="11" fill="#0000db"/>
<rect x="768.09" y="507" width="176.9" height="10.5" fill="#0000db"/>
<rect x="933.94" y="507" width="11.05" height="10.5" fill="#0000db"/>
<rect x="768.09" y="517.5" width="176.9" height="5" fill="#0000e5"/>
<rect x="933.94" y="517.5" width="11.05" height="5" fill="#0000e5"/>
<rect x="768.09" y="522.5" width="176.9" height="11" fill="#0000f0"/>
<rect x="933.94" y="522.5" width="11.05" height="11" fill="#0000f0"/>
<rect x="768.09" y="533.5" width="176.9" height="8.1" fill="#0000f0"/>
<rect x="933.94" y="533.5" width="11.05" height="8.1" fill="#0000f0"/>
<rect x="768.09" y="541.6" width="176.9" height="5.4" fill="#0000fa"/>
<rect x="933.94" y="541.6" width="11.05" height="5.4" fill="#0000f0"/>
<rect x="768.09" y="547" width="176.9" height="3.5" fill="#004dff"/>
<rect x="933.94" y="547" width="11.05" height="3.5" fill="#004dff"/>
<rect x="768.09" y="550.5" width="176.9" height="6.5" fill="#0000fa"/>
<rect x="933.94" y="550.5" width="11.05" height="6.5" fill="#0000f0"/>
<rect x="768.09" y="557" width="176.9" height="11" fill="#0000fa"/>
<rect x="933.94" y="557" width="11.05" height="11" fill="#0000f0"/>
<rect x="768.09" y="568" width="176.9" height="3" fill="#0000f0"/>
<rect x="933.94" y="568" width="11.05" height="3" fill="#0000f0"/>
<rect x="768.09" y="571" width="176.9" height="2" fill="#0000f0"/>
<rect x="933.94" y="571" width="11.05" height="2" fill="#0000f0"/>
<rect x="768.09" y="573" width="176.9" height="6.5" fill="#0000f0"/>
<rect x="933.94" y="573" width="11.05" height="6.5" fill="#0000f0"/>
<rect x="768.09" y="579.5" width="176.9" height="1.5" fill="#0000f0"/>
<rect x="933.94" y="579.5" width="11.05" height="1.5" fill="#0000f0"/>
<rect x="768.09" y="581" width="176.9" height="5" fill="#0000f0"/>
<rect x="933.94" y="581" width="11.05" height="5" fill="#0000f0"/>
<rect x="768.09" y="586" width="176.9" height="4.5" fill="#0000f0"/>
<rect x="933.94" y="586" width="11.05" height="4.5" fill="#0000f0"/>
<rect x="768.09" y="590.5" width="176.9" height="5" fill="#0000f0"/>
<rect x="933.94" y="590.5" width="11.05" height="5" fill="#0000f0"/>
<rect x="768.09" y="595.5" width="176.9" height="5" fill="#0000f0"/>
<rect x="933.94" y="595.5" width="11.05" height="5" fill="#0000f0"/>
<rect x="768.09" y="600.5" width="176.9" height="6.5" fill="#0000f0"/>
<rect x="933.94" y="600.5" width="11.05" height="6.5" fill="#0000f0"/>
<rect x="768.09" y="607" width="176.9" height="10" fill="#0000f0"/>
<rect x="933.94" y="607" width="11.05" height="10" fill="#0000f0"/>
<rect x="768.09" y="617" width="176.9" height="4" fill="#0000f0"/>
<rect x="933.94" y="617" width="11.05" height="4" fill="#0000f0"/>
<rect x="879.94" y="617" width="12" height="4" fill="#00b2ff"/>
<rect x="891.94" y="617" width="2.15" height="4" fill="#0019ff"/>
<rect x="894.09" y="617" width="12" height="4" fill="#00b2ff"/>
<rect x="906.09" y="617" width="1.85" height="4" fill="#0019ff"/>
<rect x="907.94" y="617" width="11.9" height="4" fill="#00b2ff"/>
<rect x="919.84" y="617" width="2.1" height="4" fill="#0019ff"/>
<rect x="921.94" y="617" width="12" height="4" fill="#00b2ff"/>
<rect x="768.09" y="621" width="176.9" height="4.5" fill="#0000fa"/>
<rect x="933.94" y="621" width="11.05" height="4.5" fill="#0000fa"/>
<rect x="879.94" y="621" width="12" height="4.5" fill="#00b2ff"/>
<rect x="891.94" y="621" width="2.15" height="4.5" fill="#000fff"/>
<rect x="894.09" y="621" width="12" height="4.5" fill="#00b2ff"/>
<rect x="906.09" y="621" width="1.85" height="4.5" fill="#000fff"/>
<rect x="907.94" y="621" width="11.9" height="4.5" fill="#00b2ff"/>
<rect x="919.84" y="621" width="2.1" height="4.5" fill="#000fff"/>
<rect x="921.94" y="621" width="12" height="4.5" fill="#00b2ff"/>
<rect x="768.09" y="625.5" width="176.9" height="14.5" fill="#0005ff"/>
<rect x="933.94" y="625.5" width="11.05" height="14.5" fill="#0005ff"/>
<rect x="768.09" y="640" width="176.9" height="6" fill="#0005ff"/>
<rect x="933.94" y="640" width="11.05" height="6" fill="#0005ff"/>
<rect x="768.09" y="646" width="176.9" height="2" fill="#0005ff"/>
<rect x="933.94" y="646" width="11.05" height="2" fill="#0005ff"/>
<rect x="768.09" y="648" width="176.9" height="4" fill="#0005ff"/>
<rect x="933.94" y="648" width="11.05" height="4" fill="#0005ff"/>
<rect x="768.09" y="652" width="176.9" height="3" fill="#000fff"/>
<rect x="933.94" y="652" width="11.05" height="3" fill="#000fff"/>
<rect x="768.09" y="655" width="176.9" height="3" fill="#0000fa"/>
<rect x="933.94" y="655" width="11.05" height="3" fill="#000fff"/>
<rect x="768.09" y="658" width="176.9" height="4" fill="#0000fa"/>
<rect x="933.94" y="658" width="11.05" height="4" fill="#000fff"/>
<rect x="768.09" y="662" width="176.9" height="4" fill="#0000fa"/>
<rect x="933.94" y="662" width="11.05" height="4" fill="#004dff"/>
<rect x="768.09" y="666" width="176.9" height="6" fill="#0005ff"/>
<rect x="933.94" y="666" width="11.05" height="6" fill="#0005ff"/>
<rect x="768.09" y="688.8" width="176.9" height="3.8" fill="#0000fa"/>
<rect x="933.94" y="688.8" width="11.05" height="3.8" fill="#0005ff"/>
<rect x="768.09" y="692.6" width="176.9" height="6" fill="#0005ff"/>
<rect x="933.94" y="692.6" width="11.05" height="6" fill="#0005ff"/>
<rect x="768.09" y="701" width="176.9" height="2" fill="#0005ff"/>
<rect x="933.94" y="701" width="11.05" height="2" fill="#0080ff"/>
<rect x="768.09" y="703" width="176.9" height="6.7" fill="#0005ff"/>
<rect x="933.94" y="703" width="11.05" height="6.7" fill="#0080ff"/>
<rect x="768.09" y="709.7" width="176.9" height="10.3" fill="#000fff"/>
<rect x="933.94" y="709.7" width="11.05" height="10.3" fill="#000fff"/>
<rect x="768.09" y="80" width="176.90" height="640" fill="none" filter="url(#nzd)"/>
<rect x="768.09" y="80" width="176.90" height="640" fill="none" filter="url(#nzl)"/>
<rect x="879.94" y="99" width="12" height="1" fill="#fffa00"/>
<rect x="891.94" y="99" width="2.15" height="1" fill="#1affe5"/>
<rect x="894.09" y="99" width="12" height="1" fill="#faff05"/>
<rect x="906.09" y="99" width="1.85" height="1" fill="#1affe5"/>
<rect x="907.94" y="99" width="11.9" height="1" fill="#80ff80"/>
<rect x="919.84" y="99" width="2.1" height="1" fill="#1affe5"/>
<rect x="921.94" y="99" width="12" height="1" fill="#80ff80"/>
<rect x="879.94" y="100" width="12" height="7" fill="#80ff80"/>
<rect x="891.94" y="100" width="2.15" height="7" fill="#00e5ff"/>
<rect x="894.09" y="100" width="12" height="7" fill="#1affe5"/>
<rect x="906.09" y="100" width="1.85" height="7" fill="#00e5ff"/>
<rect x="907.94" y="100" width="11.9" height="7" fill="#1affe5"/>
<rect x="919.84" y="100" width="2.1" height="7" fill="#00e5ff"/>
<rect x="921.94" y="100" width="12" height="7" fill="#80ff80"/>
<rect x="879.94" y="149" width="12" height="1" fill="#e5ff1a"/>
<rect x="891.94" y="149" width="2.15" height="1" fill="#1affe5"/>
<rect x="894.09" y="149" width="12" height="1" fill="#e5ff1a"/>
<rect x="906.09" y="149" width="1.85" height="1" fill="#1affe5"/>
<rect x="907.94" y="149" width="11.9" height="1" fill="#4dffb2"/>
<rect x="919.84" y="149" width="2.1" height="1" fill="#1affe5"/>
<rect x="921.94" y="149" width="12" height="1" fill="#4dffb2"/>
<rect x="879.94" y="158" width="12" height="1.2" fill="#80ff80"/>
<rect x="891.94" y="158" width="2.15" height="1.2" fill="#1affe5"/>
<rect x="894.09" y="158" width="12" height="1.2" fill="#4dffb2"/>
<rect x="906.09" y="158" width="1.85" height="1.2" fill="#1affe5"/>
<rect x="907.94" y="158" width="11.9" height="1.2" fill="#4dffb2"/>
<rect x="919.84" y="158" width="2.1" height="1.2" fill="#1affe5"/>
<rect x="921.94" y="158" width="12" height="1.2" fill="#4dffb2"/>
<rect x="768.09" y="177" width="176.9" height="3" fill="#24ffdb"/>
<rect x="933.94" y="177" width="11.05" height="3" fill="#24ffdb"/>
<rect x="879.94" y="177" width="12" height="3" fill="#24ffdb"/>
<rect x="891.94" y="177" width="2.15" height="3" fill="#24ffdb"/>
<rect x="894.09" y="177" width="12" height="3" fill="#24ffdb"/>
<rect x="906.09" y="177" width="1.85" height="3" fill="#24ffdb"/>
<rect x="907.94" y="177" width="11.9" height="3" fill="#24ffdb"/>
<rect x="919.84" y="177" width="2.1" height="3" fill="#24ffdb"/>
<rect x="921.94" y="177" width="12" height="3" fill="#24ffdb"/>
<rect x="768.09" y="180" width="176.9" height="2" fill="#57ffa8"/>
<rect x="933.94" y="180" width="11.05" height="2" fill="#57ffa8"/>
<rect x="879.94" y="180" width="12" height="2" fill="#57ffa8"/>
<rect x="891.94" y="180" width="2.15" height="2" fill="#57ffa8"/>
<rect x="894.09" y="180" width="12" height="2" fill="#57ffa8"/>
<rect x="906.09" y="180" width="1.85" height="2" fill="#57ffa8"/>
<rect x="907.94" y="180" width="11.9" height="2" fill="#57ffa8"/>
<rect x="919.84" y="180" width="2.1" height="2" fill="#57ffa8"/>
<rect x="921.94" y="180" width="12" height="2" fill="#57ffa8"/>
<rect x="768.09" y="182" width="176.9" height="10.5" fill="#80ff80"/>
<rect x="933.94" y="182" width="11.05" height="10.5" fill="#80ff80"/>
<rect x="879.94" y="182" width="12" height="10.5" fill="#80ff80"/>
<rect x="891.94" y="182" width="2.15" height="10.5" fill="#80ff80"/>
<rect x="894.09" y="182" width="12" height="10.5" fill="#80ff80"/>
<rect x="906.09" y="182" width="1.85" height="10.5" fill="#80ff80"/>
<rect x="907.94" y="182" width="11.9" height="10.5" fill="#80ff80"/>
<rect x="919.84" y="182" width="2.1" height="10.5" fill="#80ff80"/>
<rect x="921.94" y="182" width="12" height="10.5" fill="#80ff80"/>
<rect x="768.09" y="197.3" width="176.9" height="4.7" fill="#05fffa"/>
<rect x="933.94" y="197.3" width="11.05" height="4.7" fill="#2effd1"/>
<rect x="879.94" y="197.3" width="12" height="4.7" fill="#80ff80"/>
<rect x="891.94" y="197.3" width="2.15" height="4.7" fill="#61ff9e"/>
<rect x="894.09" y="197.3" width="12" height="4.7" fill="#80ff80"/>
<rect x="906.09" y="197.3" width="1.85" height="4.7" fill="#61ff9e"/>
<rect x="907.94" y="197.3" width="11.9" height="4.7" fill="#80ff80"/>
<rect x="919.84" y="197.3" width="2.1" height="4.7" fill="#61ff9e"/>
<rect x="921.94" y="197.3" width="12" height="4.7" fill="#80ff80"/>
<rect x="879.94" y="243.5" width="12" height="5.5" fill="#6bff94"/>
<rect x="891.94" y="243.5" width="2.15" height="5.5" fill="#002eff"/>
<rect x="894.09" y="243.5" width="12" height="5.5" fill="#2effd1"/>
<rect x="906.09" y="243.5" width="1.85" height="5.5" fill="#002eff"/>
<rect x="907.94" y="243.5" width="11.9" height="5.5" fill="#6bff94"/>
<rect x="919.84" y="243.5" width="2.1" height="5.5" fill="#002eff"/>
<rect x="921.94" y="243.5" width="12" height="5.5" fill="#80ff80"/>
<rect x="879.94" y="249" width="12" height="3.5" fill="#6bff94"/>
<rect x="891.94" y="249" width="2.15" height="3.5" fill="#002eff"/>
<rect x="894.09" y="249" width="12" height="3.5" fill="#2effd1"/>
<rect x="906.09" y="249" width="1.85" height="3.5" fill="#002eff"/>
<rect x="907.94" y="249" width="11.9" height="3.5" fill="#6bff94"/>
<rect x="919.84" y="249" width="2.1" height="3.5" fill="#002eff"/>
<rect x="921.94" y="249" width="12" height="3.5" fill="#80ff80"/>
<rect x="879.94" y="252.5" width="12" height="2.5" fill="#6bff94"/>
<rect x="891.94" y="252.5" width="2.15" height="2.5" fill="#002eff"/>
<rect x="894.09" y="252.5" width="12" height="2.5" fill="#2effd1"/>
<rect x="906.09" y="252.5" width="1.85" height="2.5" fill="#002eff"/>
<rect x="907.94" y="252.5" width="11.9" height="2.5" fill="#6bff94"/>
<rect x="919.84" y="252.5" width="2.1" height="2.5" fill="#002eff"/>
<rect x="921.94" y="252.5" width="12" height="2.5" fill="#80ff80"/>
<rect x="879.94" y="265" width="12" height="4" fill="#94ff6b"/>
<rect x="891.94" y="265" width="2.15" height="4" fill="#0019ff"/>
<rect x="894.09" y="265" width="12" height="4" fill="#6bff94"/>
<rect x="906.09" y="265" width="1.85" height="4" fill="#0019ff"/>
<rect x="907.94" y="265" width="11.9" height="4" fill="#61ff9e"/>
<rect x="919.84" y="265" width="2.1" height="4" fill="#0019ff"/>
<rect x="921.94" y="265" width="12" height="4" fill="#42ffbd"/>
<rect x="879.94" y="269" width="12" height="6.5" fill="#61ff9e"/>
<rect x="891.94" y="269" width="2.15" height="6.5" fill="#0019ff"/>
<rect x="894.09" y="269" width="12" height="6.5" fill="#42ffbd"/>
<rect x="906.09" y="269" width="1.85" height="6.5" fill="#0019ff"/>
<rect x="907.94" y="269" width="11.9" height="6.5" fill="#38ffc7"/>
<rect x="919.84" y="269" width="2.1" height="6.5" fill="#0019ff"/>
<rect x="921.94" y="269" width="12" height="6.5" fill="#1affe5"/>
<rect x="878.94" y="269" width="56" height="6.5" fill="none" filter="url(#nzm)"/>
<rect x="879.94" y="275.5" width="12" height="12.5" fill="#61ff9e"/>
<rect x="891.94" y="275.5" width="2.15" height="12.5" fill="#0019ff"/>
<rect x="894.09" y="275.5" width="12" height="12.5" fill="#4dffb2"/>
<rect x="906.09" y="275.5" width="1.85" height="12.5" fill="#0019ff"/>
<rect x="907.94" y="275.5" width="11.9" height="12.5" fill="#38ffc7"/>
<rect x="919.84" y="275.5" width="2.1" height="12.5" fill="#0019ff"/>
<rect x="921.94" y="275.5" width="12" height="12.5" fill="#1affe5"/>
<rect x="878.94" y="275.5" width="56" height="12.5" fill="none" filter="url(#nzm)"/>
<rect x="879.94" y="300" width="12" height="12" fill="#94ff6b"/>
<rect x="891.94" y="300" width="2.15" height="12" fill="#000fff"/>
<rect x="894.09" y="300" width="12" height="12" fill="#d1ff2e"/>
<rect x="906.09" y="300" width="1.85" height="12" fill="#000fff"/>
<rect x="907.94" y="300" width="11.9" height="12" fill="#d1ff2e"/>
<rect x="919.84" y="300" width="2.1" height="12" fill="#000fff"/>
<rect x="921.94" y="300" width="12" height="12" fill="#80ff80"/>
<rect x="879.94" y="312" width="12" height="11.5" fill="#a8ff57"/>
<rect x="891.94" y="312" width="2.15" height="11.5" fill="#000fff"/>
<rect x="894.09" y="312" width="12" height="11.5" fill="#d1ff2e"/>
<rect x="906.09" y="312" width="1.85" height="11.5" fill="#000fff"/>
<rect x="907.94" y="312" width="11.9" height="11.5" fill="#d1ff2e"/>
<rect x="919.84" y="312" width="2.1" height="11.5" fill="#000fff"/>
<rect x="921.94" y="312" width="12" height="11.5" fill="#80ff80"/>
<rect x="879.94" y="323.5" width="12" height="7" fill="#b3ff4c"/>
<rect x="891.94" y="323.5" width="2.15" height="7" fill="#000fff"/>
<rect x="894.09" y="323.5" width="12" height="7" fill="#c7ff38"/>
<rect x="906.09" y="323.5" width="1.85" height="7" fill="#000fff"/>
<rect x="907.94" y="323.5" width="11.9" height="7" fill="#94ff6b"/>
<rect x="919.84" y="323.5" width="2.1" height="7" fill="#000fff"/>
<rect x="921.94" y="323.5" width="12" height="7" fill="#61ff9e"/>
<rect x="879.94" y="330.5" width="12" height="15" fill="#b3ff4c"/>
<rect x="891.94" y="330.5" width="2.15" height="15" fill="#000fff"/>
<rect x="894.09" y="330.5" width="12" height="15" fill="#9eff61"/>
<rect x="906.09" y="330.5" width="1.85" height="15" fill="#000fff"/>
<rect x="907.94" y="330.5" width="11.9" height="15" fill="#80ff80"/>
<rect x="919.84" y="330.5" width="2.1" height="15" fill="#000fff"/>
<rect x="921.94" y="330.5" width="12" height="15" fill="#61ff9e"/>
<rect x="879.94" y="345.5" width="12" height="13.5" fill="#c7ff38"/>
<rect x="891.94" y="345.5" width="2.15" height="13.5" fill="#0019ff"/>
<rect x="894.09" y="345.5" width="12" height="13.5" fill="#b3ff4c"/>
<rect x="906.09" y="345.5" width="1.85" height="13.5" fill="#0019ff"/>
<rect x="907.94" y="345.5" width="11.9" height="13.5" fill="#80ff80"/>
<rect x="919.84" y="345.5" width="2.1" height="13.5" fill="#0019ff"/>
<rect x="921.94" y="345.5" width="12" height="13.5" fill="#80ff80"/>
<rect x="879.94" y="359" width="12" height="5.5" fill="#d1ff2e"/>
<rect x="891.94" y="359" width="2.15" height="5.5" fill="#0019ff"/>
<rect x="894.09" y="359" width="12" height="5.5" fill="#c7ff38"/>
<rect x="906.09" y="359" width="1.85" height="5.5" fill="#0019ff"/>
<rect x="907.94" y="359" width="11.9" height="5.5" fill="#94ff6b"/>
<rect x="919.84" y="359" width="2.1" height="5.5" fill="#0019ff"/>
<rect x="921.94" y="359" width="12" height="5.5" fill="#80ff80"/>
<rect x="879.94" y="364.5" width="12" height="20.5" fill="#d1ff2e"/>
<rect x="891.94" y="364.5" width="2.15" height="20.5" fill="#0019ff"/>
<rect x="894.09" y="364.5" width="12" height="20.5" fill="#c7ff38"/>
<rect x="906.09" y="364.5" width="1.85" height="20.5" fill="#0019ff"/>
<rect x="907.94" y="364.5" width="11.9" height="20.5" fill="#94ff6b"/>
<rect x="919.84" y="364.5" width="2.1" height="20.5" fill="#0019ff"/>
<rect x="921.94" y="364.5" width="12" height="20.5" fill="#80ff80"/>
<rect x="879.94" y="385" width="12" height="15" fill="#d1ff2e"/>
<rect x="891.94" y="385" width="2.15" height="15" fill="#0019ff"/>
<rect x="894.09" y="385" width="12" height="15" fill="#b3ff4c"/>
<rect x="906.09" y="385" width="1.85" height="15" fill="#0019ff"/>
<rect x="907.94" y="385" width="11.9" height="15" fill="#80ff80"/>
<rect x="919.84" y="385" width="2.1" height="15" fill="#0019ff"/>
<rect x="921.94" y="385" width="12" height="15" fill="#6bff94"/>
<rect x="879.94" y="400" width="12" height="8.5" fill="#b3ff4c"/>
<rect x="891.94" y="400" width="2.15" height="8.5" fill="#0019ff"/>
<rect x="894.09" y="400" width="12" height="8.5" fill="#80ff80"/>
<rect x="906.09" y="400" width="1.85" height="8.5" fill="#0019ff"/>
<rect x="907.94" y="400" width="11.9" height="8.5" fill="#80ff80"/>
<rect x="919.84" y="400" width="2.1" height="8.5" fill="#0019ff"/>
<rect x="921.94" y="400" width="12" height="8.5" fill="#94ff6b"/>
<rect x="879.94" y="408.5" width="12" height="4.5" fill="#80ff80"/>
<rect x="891.94" y="408.5" width="2.15" height="4.5" fill="#004dff"/>
<rect x="894.09" y="408.5" width="12" height="4.5" fill="#80ff80"/>
<rect x="906.09" y="408.5" width="1.85" height="4.5" fill="#004dff"/>
<rect x="907.94" y="408.5" width="11.9" height="4.5" fill="#80ff80"/>
<rect x="919.84" y="408.5" width="2.1" height="4.5" fill="#004dff"/>
<rect x="921.94" y="408.5" width="12" height="4.5" fill="#80ff80"/>
<rect x="879.94" y="413" width="12" height="4.5" fill="#00b2ff"/>
<rect x="891.94" y="413" width="2.15" height="4.5" fill="#0019ff"/>
<rect x="894.09" y="413" width="12" height="4.5" fill="#00b2ff"/>
<rect x="906.09" y="413" width="1.85" height="4.5" fill="#0019ff"/>
<rect x="907.94" y="413" width="11.9" height="4.5" fill="#00b2ff"/>
<rect x="919.84" y="413" width="2.1" height="4.5" fill="#0019ff"/>
<rect x="921.94" y="413" width="12" height="4.5" fill="#00b2ff"/>
<rect x="879.94" y="417.5" width="12" height="7.5" fill="#bdff42"/>
<rect x="891.94" y="417.5" width="2.15" height="7.5" fill="#0005ff"/>
<rect x="894.09" y="417.5" width="12" height="7.5" fill="#c7ff38"/>
<rect x="906.09" y="417.5" width="1.85" height="7.5" fill="#0005ff"/>
<rect x="907.94" y="417.5" width="11.9" height="7.5" fill="#b3ff4c"/>
<rect x="919.84" y="417.5" width="2.1" height="7.5" fill="#0005ff"/>
<rect x="921.94" y="417.5" width="12" height="7.5" fill="#c7ff38"/>
<rect x="879.94" y="425" width="12" height="20.5" fill="#bdff42"/>
<rect x="891.94" y="425" width="2.15" height="20.5" fill="#0005ff"/>
<rect x="894.09" y="425" width="12" height="20.5" fill="#c7ff38"/>
<rect x="906.09" y="425" width="1.85" height="20.5" fill="#0005ff"/>
<rect x="907.94" y="425" width="11.9" height="20.5" fill="#b3ff4c"/>
<rect x="919.84" y="425" width="2.1" height="20.5" fill="#0005ff"/>
<rect x="921.94" y="425" width="12" height="20.5" fill="#c7ff38"/>
<rect x="879.94" y="445.5" width="12" height="6.5" fill="#e5ff1a"/>
<rect x="891.94" y="445.5" width="2.15" height="6.5" fill="#0005ff"/>
<rect x="894.09" y="445.5" width="12" height="6.5" fill="#e5ff1a"/>
<rect x="906.09" y="445.5" width="1.85" height="6.5" fill="#0005ff"/>
<rect x="907.94" y="445.5" width="11.9" height="6.5" fill="#b3ff4c"/>
<rect x="919.84" y="445.5" width="2.1" height="6.5" fill="#0005ff"/>
<rect x="921.94" y="445.5" width="12" height="6.5" fill="#80ff80"/>
<rect x="879.94" y="452" width="12" height="7" fill="#e5ff1a"/>
<rect x="891.94" y="452" width="2.15" height="7" fill="#0005ff"/>
<rect x="894.09" y="452" width="12" height="7" fill="#ffd100"/>
<rect x="906.09" y="452" width="1.85" height="7" fill="#0005ff"/>
<rect x="907.94" y="452" width="11.9" height="7" fill="#b3ff4c"/>
<rect x="919.84" y="452" width="2.1" height="7" fill="#0005ff"/>
<rect x="921.94" y="452" width="12" height="7" fill="#80ff80"/>
<rect x="879.94" y="459" width="12" height="8" fill="#e5ff1a"/>
<rect x="891.94" y="459" width="2.15" height="8" fill="#0005ff"/>
<rect x="894.09" y="459" width="12" height="8" fill="#faff05"/>
<rect x="906.09" y="459" width="1.85" height="8" fill="#0005ff"/>
<rect x="907.94" y="459" width="11.9" height="8" fill="#b3ff4c"/>
<rect x="919.84" y="459" width="2.1" height="8" fill="#0005ff"/>
<rect x="921.94" y="459" width="12" height="8" fill="#80ff80"/>
<rect x="879.94" y="467" width="12" height="4.5" fill="#2effd1"/>
<rect x="891.94" y="467" width="2.15" height="4.5" fill="#0005ff"/>
<rect x="894.09" y="467" width="12" height="4.5" fill="#2effd1"/>
<rect x="906.09" y="467" width="1.85" height="4.5" fill="#0005ff"/>
<rect x="907.94" y="467" width="11.9" height="4.5" fill="#2effd1"/>
<rect x="919.84" y="467" width="2.1" height="4.5" fill="#0005ff"/>
<rect x="921.94" y="467" width="12" height="4.5" fill="#1affe5"/>
<rect x="879.94" y="471.5" width="12" height="4.5" fill="#80ff80"/>
<rect x="891.94" y="471.5" width="2.15" height="4.5" fill="#0005ff"/>
<rect x="894.09" y="471.5" width="12" height="4.5" fill="#80ff80"/>
<rect x="906.09" y="471.5" width="1.85" height="4.5" fill="#0005ff"/>
<rect x="907.94" y="471.5" width="11.9" height="4.5" fill="#80ff80"/>
<rect x="919.84" y="471.5" width="2.1" height="4.5" fill="#0005ff"/>
<rect x="921.94" y="471.5" width="12" height="4.5" fill="#6bff94"/>
<rect x="879.94" y="476" width="12" height="2.5" fill="#1affe5"/>
<rect x="891.94" y="476" width="2.15" height="2.5" fill="#0005ff"/>
<rect x="894.09" y="476" width="12" height="2.5" fill="#1affe5"/>
<rect x="906.09" y="476" width="1.85" height="2.5" fill="#0005ff"/>
<rect x="907.94" y="476" width="11.9" height="2.5" fill="#1affe5"/>
<rect x="919.84" y="476" width="2.1" height="2.5" fill="#0005ff"/>
<rect x="921.94" y="476" width="12" height="2.5" fill="#1affe5"/>
<rect x="879.94" y="478.5" width="12" height="5" fill="#e5ff1a"/>
<rect x="891.94" y="478.5" width="2.15" height="5" fill="#0005ff"/>
<rect x="894.09" y="478.5" width="12" height="5" fill="#b3ff4c"/>
<rect x="906.09" y="478.5" width="1.85" height="5" fill="#0005ff"/>
<rect x="907.94" y="478.5" width="11.9" height="5" fill="#80ff80"/>
<rect x="919.84" y="478.5" width="2.1" height="5" fill="#0005ff"/>
<rect x="921.94" y="478.5" width="12" height="5" fill="#80ff80"/>
<rect x="879.94" y="483.5" width="12" height="2.5" fill="#2effd1"/>
<rect x="891.94" y="483.5" width="2.15" height="2.5" fill="#0005ff"/>
<rect x="894.09" y="483.5" width="12" height="2.5" fill="#2effd1"/>
<rect x="906.09" y="483.5" width="1.85" height="2.5" fill="#0005ff"/>
<rect x="907.94" y="483.5" width="11.9" height="2.5" fill="#2effd1"/>
<rect x="919.84" y="483.5" width="2.1" height="2.5" fill="#0005ff"/>
<rect x="921.94" y="483.5" width="12" height="2.5" fill="#2effd1"/>
<rect x="879.94" y="486" width="12" height="2.5" fill="#faff05"/>
<rect x="891.94" y="486" width="2.15" height="2.5" fill="#0005ff"/>
<rect x="894.09" y="486" width="12" height="2.5" fill="#faff05"/>
<rect x="906.09" y="486" width="1.85" height="2.5" fill="#0005ff"/>
<rect x="907.94" y="486" width="11.9" height="2.5" fill="#80ff80"/>
<rect x="919.84" y="486" width="2.1" height="2.5" fill="#0005ff"/>
<rect x="921.94" y="486" width="12" height="2.5" fill="#80ff80"/>
<rect x="879.94" y="488.5" width="12" height="7.5" fill="#1affe5"/>
<rect x="891.94" y="488.5" width="2.15" height="7.5" fill="#0005ff"/>
<rect x="894.09" y="488.5" width="12" height="7.5" fill="#1affe5"/>
<rect x="906.09" y="488.5" width="1.85" height="7.5" fill="#0005ff"/>
<rect x="907.94" y="488.5" width="11.9" height="7.5" fill="#1affe5"/>
<rect x="919.84" y="488.5" width="2.1" height="7.5" fill="#0005ff"/>
<rect x="921.94" y="488.5" width="12" height="7.5" fill="#1affe5"/>
<rect x="879.94" y="496" width="12" height="11" fill="#b3ff4c"/>
<rect x="891.94" y="496" width="2.15" height="11" fill="#0005ff"/>
<rect x="894.09" y="496" width="12" height="11" fill="#b3ff4c"/>
<rect x="906.09" y="496" width="1.85" height="11" fill="#0005ff"/>
<rect x="907.94" y="496" width="11.9" height="11" fill="#94ff6b"/>
<rect x="919.84" y="496" width="2.1" height="11" fill="#0005ff"/>
<rect x="921.94" y="496" width="12" height="11" fill="#80ff80"/>
<rect x="879.94" y="507" width="12" height="10.5" fill="#2effd1"/>
<rect x="891.94" y="507" width="2.15" height="10.5" fill="#0005ff"/>
<rect x="894.09" y="507" width="12" height="10.5" fill="#4dffb2"/>
<rect x="906.09" y="507" width="1.85" height="10.5" fill="#0005ff"/>
<rect x="907.94" y="507" width="11.9" height="10.5" fill="#4dffb2"/>
<rect x="919.84" y="507" width="2.1" height="10.5" fill="#0005ff"/>
<rect x="921.94" y="507" width="12" height="10.5" fill="#2effd1"/>
<rect x="879.94" y="517.5" width="12" height="5" fill="#b3ff4c"/>
<rect x="891.94" y="517.5" width="2.15" height="5" fill="#0005ff"/>
<rect x="894.09" y="517.5" width="12" height="5" fill="#e5ff1a"/>
<rect x="906.09" y="517.5" width="1.85" height="5" fill="#0005ff"/>
<rect x="907.94" y="517.5" width="11.9" height="5" fill="#b3ff4c"/>
<rect x="919.84" y="517.5" width="2.1" height="5" fill="#0005ff"/>
<rect x="921.94" y="517.5" width="12" height="5" fill="#80ff80"/>
<rect x="879.94" y="522.5" width="12" height="11" fill="#e5ff1a"/>
<rect x="891.94" y="522.5" width="2.15" height="11" fill="#0005ff"/>
<rect x="894.09" y="522.5" width="12" height="11" fill="#c7ff38"/>
<rect x="906.09" y="522.5" width="1.85" height="11" fill="#0005ff"/>
<rect x="907.94" y="522.5" width="11.9" height="11" fill="#b3ff4c"/>
<rect x="919.84" y="522.5" width="2.1" height="11" fill="#0005ff"/>
<rect x="921.94" y="522.5" width="12" height="11" fill="#b3ff4c"/>
<rect x="879.94" y="533.5" width="12" height="8.1" fill="#d1ff2e"/>
<rect x="891.94" y="533.5" width="2.15" height="8.1" fill="#0005ff"/>
<rect x="894.09" y="533.5" width="12" height="8.1" fill="#c7ff38"/>
<rect x="906.09" y="533.5" width="1.85" height="8.1" fill="#0005ff"/>
<rect x="907.94" y="533.5" width="11.9" height="8.1" fill="#b3ff4c"/>
<rect x="919.84" y="533.5" width="2.1" height="8.1" fill="#0005ff"/>
<rect x="921.94" y="533.5" width="12" height="8.1" fill="#b3ff4c"/>
<rect x="879.94" y="541.6" width="12" height="5.4" fill="#d1ff2e"/>
<rect x="891.94" y="541.6" width="2.15" height="5.4" fill="#0005ff"/>
<rect x="894.09" y="541.6" width="12" height="5.4" fill="#d1ff2e"/>
<rect x="906.09" y="541.6" width="1.85" height="5.4" fill="#0005ff"/>
<rect x="907.94" y="541.6" width="11.9" height="5.4" fill="#80ff80"/>
<rect x="919.84" y="541.6" width="2.1" height="5.4" fill="#0005ff"/>
<rect x="921.94" y="541.6" width="12" height="5.4" fill="#94ff6b"/>
<rect x="879.94" y="547" width="12" height="3.5" fill="#ffe500"/>
<rect x="891.94" y="547" width="2.15" height="3.5" fill="#004dff"/>
<rect x="894.09" y="547" width="12" height="3.5" fill="#fff000"/>
<rect x="906.09" y="547" width="1.85" height="3.5" fill="#004dff"/>
<rect x="907.94" y="547" width="11.9" height="3.5" fill="#b3ff4c"/>
<rect x="919.84" y="547" width="2.1" height="3.5" fill="#004dff"/>
<rect x="921.94" y="547" width="12" height="3.5" fill="#b3ff4c"/>
<rect x="879.94" y="550.5" width="12" height="6.5" fill="#c7ff38"/>
<rect x="891.94" y="550.5" width="2.15" height="6.5" fill="#0005ff"/>
<rect x="894.09" y="550.5" width="12" height="6.5" fill="#c7ff38"/>
<rect x="906.09" y="550.5" width="1.85" height="6.5" fill="#0005ff"/>
<rect x="907.94" y="550.5" width="11.9" height="6.5" fill="#b3ff4c"/>
<rect x="919.84" y="550.5" width="2.1" height="6.5" fill="#0005ff"/>
<rect x="921.94" y="550.5" width="12" height="6.5" fill="#b3ff4c"/>
<rect x="879.94" y="557" width="12" height="11" fill="#b3ff4c"/>
<rect x="891.94" y="557" width="2.15" height="11" fill="#0005ff"/>
<rect x="894.09" y="557" width="12" height="11" fill="#c7ff38"/>
<rect x="906.09" y="557" width="1.85" height="11" fill="#0005ff"/>
<rect x="907.94" y="557" width="11.9" height="11" fill="#b3ff4c"/>
<rect x="919.84" y="557" width="2.1" height="11" fill="#0005ff"/>
<rect x="921.94" y="557" width="12" height="11" fill="#b3ff4c"/>
<rect x="879.94" y="568" width="12" height="3" fill="#b3ff4c"/>
<rect x="891.94" y="568" width="2.15" height="3" fill="#0005ff"/>
<rect x="894.09" y="568" width="12" height="3" fill="#b3ff4c"/>
<rect x="906.09" y="568" width="1.85" height="3" fill="#0005ff"/>
<rect x="907.94" y="568" width="11.9" height="3" fill="#b3ff4c"/>
<rect x="919.84" y="568" width="2.1" height="3" fill="#0005ff"/>
<rect x="921.94" y="568" width="12" height="3" fill="#b3ff4c"/>
<rect x="879.94" y="571" width="12" height="2" fill="#faff05"/>
<rect x="891.94" y="571" width="2.15" height="2" fill="#0019ff"/>
<rect x="894.09" y="571" width="12" height="2" fill="#faff05"/>
<rect x="906.09" y="571" width="1.85" height="2" fill="#0019ff"/>
<rect x="907.94" y="571" width="11.9" height="2" fill="#e5ff1a"/>
<rect x="919.84" y="571" width="2.1" height="2" fill="#0019ff"/>
<rect x="921.94" y="571" width="12" height="2" fill="#d1ff2e"/>
<rect x="879.94" y="573" width="12" height="6.5" fill="#ff9e00"/>
<rect x="891.94" y="573" width="2.15" height="6.5" fill="#0019ff"/>
<rect x="894.09" y="573" width="12" height="6.5" fill="#ffb300"/>
<rect x="906.09" y="573" width="1.85" height="6.5" fill="#0019ff"/>
<rect x="907.94" y="573" width="11.9" height="6.5" fill="#ffdb00"/>
<rect x="919.84" y="573" width="2.1" height="6.5" fill="#0019ff"/>
<rect x="921.94" y="573" width="12" height="6.5" fill="#e5ff1a"/>
<rect x="879.94" y="579.5" width="12" height="1.5" fill="#faff05"/>
<rect x="891.94" y="579.5" width="2.15" height="1.5" fill="#0019ff"/>
<rect x="894.09" y="579.5" width="12" height="1.5" fill="#faff05"/>
<rect x="906.09" y="579.5" width="1.85" height="1.5" fill="#0019ff"/>
<rect x="907.94" y="579.5" width="11.9" height="1.5" fill="#e5ff1a"/>
<rect x="919.84" y="579.5" width="2.1" height="1.5" fill="#0019ff"/>
<rect x="921.94" y="579.5" width="12" height="1.5" fill="#d1ff2e"/>
<rect x="879.94" y="581" width="12" height="5" fill="#6bff94"/>
<rect x="891.94" y="581" width="2.15" height="5" fill="#0005ff"/>
<rect x="894.09" y="581" width="12" height="5" fill="#c7ff38"/>
<rect x="906.09" y="581" width="1.85" height="5" fill="#0005ff"/>
<rect x="907.94" y="581" width="11.9" height="5" fill="#b3ff4c"/>
<rect x="919.84" y="581" width="2.1" height="5" fill="#0005ff"/>
<rect x="921.94" y="581" width="12" height="5" fill="#c7ff38"/>
<rect x="879.94" y="586" width="12" height="4.5" fill="#fffa00"/>
<rect x="891.94" y="586" width="2.15" height="4.5" fill="#0005ff"/>
<rect x="894.09" y="586" width="12" height="4.5" fill="#d1ff2e"/>
<rect x="906.09" y="586" width="1.85" height="4.5" fill="#0005ff"/>
<rect x="907.94" y="586" width="11.9" height="4.5" fill="#b3ff4c"/>
<rect x="919.84" y="586" width="2.1" height="4.5" fill="#0005ff"/>
<rect x="921.94" y="586" width="12" height="4.5" fill="#c7ff38"/>
<rect x="879.94" y="590.5" width="12" height="5" fill="#ffdb00"/>
<rect x="891.94" y="590.5" width="2.15" height="5" fill="#0005ff"/>
<rect x="894.09" y="590.5" width="12" height="5" fill="#ffe500"/>
<rect x="906.09" y="590.5" width="1.85" height="5" fill="#0005ff"/>
<rect x="907.94" y="590.5" width="11.9" height="5" fill="#e5ff1a"/>
<rect x="919.84" y="590.5" width="2.1" height="5" fill="#0005ff"/>
<rect x="921.94" y="590.5" width="12" height="5" fill="#faff05"/>
<rect x="879.94" y="595.5" width="12" height="5" fill="#ffb300"/>
<rect x="891.94" y="595.5" width="2.15" height="5" fill="#000fff"/>
<rect x="894.09" y="595.5" width="12" height="5" fill="#ffbd00"/>
<rect x="906.09" y="595.5" width="1.85" height="5" fill="#000fff"/>
<rect x="907.94" y="595.5" width="11.9" height="5" fill="#fff000"/>
<rect x="919.84" y="595.5" width="2.1" height="5" fill="#000fff"/>
<rect x="921.94" y="595.5" width="12" height="5" fill="#faff05"/>
<rect x="879.94" y="600.5" width="12" height="6.5" fill="#57ffa8"/>
<rect x="891.94" y="600.5" width="2.15" height="6.5" fill="#0005ff"/>
<rect x="894.09" y="600.5" width="12" height="6.5" fill="#61ff9e"/>
<rect x="906.09" y="600.5" width="1.85" height="6.5" fill="#0005ff"/>
<rect x="907.94" y="600.5" width="11.9" height="6.5" fill="#4dffb2"/>
<rect x="919.84" y="600.5" width="2.1" height="6.5" fill="#0005ff"/>
<rect x="921.94" y="600.5" width="12" height="6.5" fill="#80ff80"/>
<rect x="878.94" y="600.5" width="56" height="6.5" fill="none" filter="url(#nzm)"/>
<rect x="879.94" y="607" width="12" height="10" fill="#4dffb2"/>
<rect x="891.94" y="607" width="2.15" height="10" fill="#0005ff"/>
<rect x="894.09" y="607" width="12" height="10" fill="#57ffa8"/>
<rect x="906.09" y="607" width="1.85" height="10" fill="#0005ff"/>
<rect x="907.94" y="607" width="11.9" height="10" fill="#42ffbd"/>
<rect x="919.84" y="607" width="2.1" height="10" fill="#0005ff"/>
<rect x="921.94" y="607" width="12" height="10" fill="#57ffa8"/>
<rect x="878.94" y="607" width="56" height="10" fill="none" filter="url(#nzm)"/>
<rect x="879.94" y="625.5" width="12" height="14.5" fill="#b3ff4c"/>
<rect x="891.94" y="625.5" width="2.15" height="14.5" fill="#0019ff"/>
<rect x="894.09" y="625.5" width="12" height="14.5" fill="#80ff80"/>
<rect x="906.09" y="625.5" width="1.85" height="14.5" fill="#0019ff"/>
<rect x="907.94" y="625.5" width="11.9" height="14.5" fill="#6bff94"/>
<rect x="919.84" y="625.5" width="2.1" height="14.5" fill="#0019ff"/>
<rect x="921.94" y="625.5" width="12" height="14.5" fill="#6bff94"/>
<rect x="879.94" y="640" width="12" height="6" fill="#94ff6b"/>
<rect x="891.94" y="640" width="2.15" height="6" fill="#0019ff"/>
<rect x="894.09" y="640" width="12" height="6" fill="#80ff80"/>
<rect x="906.09" y="640" width="1.85" height="6" fill="#0019ff"/>
<rect x="907.94" y="640" width="11.9" height="6" fill="#6bff94"/>
<rect x="919.84" y="640" width="2.1" height="6" fill="#0019ff"/>
<rect x="921.94" y="640" width="12" height="6" fill="#6bff94"/>
<rect x="879.94" y="646" width="12" height="2" fill="#80ff80"/>
<rect x="891.94" y="646" width="2.15" height="2" fill="#0019ff"/>
<rect x="894.09" y="646" width="12" height="2" fill="#6bff94"/>
<rect x="906.09" y="646" width="1.85" height="2" fill="#0019ff"/>
<rect x="907.94" y="646" width="11.9" height="2" fill="#57ffa8"/>
<rect x="919.84" y="646" width="2.1" height="2" fill="#0019ff"/>
<rect x="921.94" y="646" width="12" height="2" fill="#57ffa8"/>
<rect x="879.94" y="648" width="12" height="4" fill="#6bff94"/>
<rect x="891.94" y="648" width="2.15" height="4" fill="#0019ff"/>
<rect x="894.09" y="648" width="12" height="4" fill="#57ffa8"/>
<rect x="906.09" y="648" width="1.85" height="4" fill="#0019ff"/>
<rect x="907.94" y="648" width="11.9" height="4" fill="#4dffb2"/>
<rect x="919.84" y="648" width="2.1" height="4" fill="#0019ff"/>
<rect x="921.94" y="648" width="12" height="4" fill="#4dffb2"/>
<rect x="879.94" y="652" width="12" height="3" fill="#2effd1"/>
<rect x="891.94" y="652" width="2.15" height="3" fill="#0080ff"/>
<rect x="894.09" y="652" width="12" height="3" fill="#4dffb2"/>
<rect x="906.09" y="652" width="1.85" height="3" fill="#0080ff"/>
<rect x="907.94" y="652" width="11.9" height="3" fill="#4dffb2"/>
<rect x="919.84" y="652" width="2.1" height="3" fill="#0080ff"/>
<rect x="921.94" y="652" width="12" height="3" fill="#2effd1"/>
<rect x="879.94" y="655" width="12" height="3" fill="#4dffb2"/>
<rect x="891.94" y="655" width="2.15" height="3" fill="#004dff"/>
<rect x="894.09" y="655" width="12" height="3" fill="#4dffb2"/>
<rect x="906.09" y="655" width="1.85" height="3" fill="#004dff"/>
<rect x="907.94" y="655" width="11.9" height="3" fill="#4dffb2"/>
<rect x="919.84" y="655" width="2.1" height="3" fill="#004dff"/>
<rect x="921.94" y="655" width="12" height="3" fill="#4dffb2"/>
<rect x="879.94" y="658" width="12" height="4" fill="#e5ff1a"/>
<rect x="891.94" y="658" width="2.15" height="4" fill="#00b2ff"/>
<rect x="894.09" y="658" width="12" height="4" fill="#e5ff1a"/>
<rect x="906.09" y="658" width="1.85" height="4" fill="#00b2ff"/>
<rect x="907.94" y="658" width="11.9" height="4" fill="#e5ff1a"/>
<rect x="919.84" y="658" width="2.1" height="4" fill="#00b2ff"/>
<rect x="921.94" y="658" width="12" height="4" fill="#e5ff1a"/>
<rect x="879.94" y="662" width="12" height="4" fill="#ff6100"/>
<rect x="891.94" y="662" width="2.15" height="4" fill="#1affe5"/>
<rect x="894.09" y="662" width="12" height="4" fill="#ffb300"/>
<rect x="906.09" y="662" width="1.85" height="4" fill="#1affe5"/>
<rect x="907.94" y="662" width="11.9" height="4" fill="#ffb300"/>
<rect x="919.84" y="662" width="2.1" height="4" fill="#1affe5"/>
<rect x="921.94" y="662" width="12" height="4" fill="#ffb300"/>
<rect x="879.94" y="666" width="12" height="6" fill="#c7ff38"/>
<rect x="891.94" y="666" width="2.15" height="6" fill="#00b2ff"/>
<rect x="894.09" y="666" width="12" height="6" fill="#c7ff38"/>
<rect x="906.09" y="666" width="1.85" height="6" fill="#00b2ff"/>
<rect x="907.94" y="666" width="11.9" height="6" fill="#c7ff38"/>
<rect x="919.84" y="666" width="2.1" height="6" fill="#00b2ff"/>
<rect x="921.94" y="666" width="12" height="6" fill="#b3ff4c"/>
<rect x="768.09" y="672" width="176.9" height="7" fill="#ff8000"/>
<rect x="933.94" y="672" width="11.05" height="7" fill="#e5ff1a"/>
<rect x="879.94" y="672" width="12" height="7" fill="#fa0000"/>
<rect x="891.94" y="672" width="2.15" height="7" fill="#ffb300"/>
<rect x="894.09" y="672" width="12" height="7" fill="#fa0000"/>
<rect x="906.09" y="672" width="1.85" height="7" fill="#ffb300"/>
<rect x="907.94" y="672" width="11.9" height="7" fill="#fa0000"/>
<rect x="919.84" y="672" width="2.1" height="7" fill="#ffb300"/>
<rect x="921.94" y="672" width="12" height="7" fill="#fa0000"/>
<rect x="768.09" y="679" width="176.9" height="5.5" fill="#ff4c00"/>
<rect x="933.94" y="679" width="11.05" height="5.5" fill="#ff4c00"/>
<rect x="879.94" y="679" width="12" height="5.5" fill="#e50000"/>
<rect x="891.94" y="679" width="2.15" height="5.5" fill="#ff1a00"/>
<rect x="894.09" y="679" width="12" height="5.5" fill="#e50000"/>
<rect x="906.09" y="679" width="1.85" height="5.5" fill="#ff1a00"/>
<rect x="907.94" y="679" width="11.9" height="5.5" fill="#e50000"/>
<rect x="919.84" y="679" width="2.1" height="5.5" fill="#ff1a00"/>
<rect x="921.94" y="679" width="12" height="5.5" fill="#e50000"/>
<rect x="768.09" y="684.5" width="176.9" height="3.2" fill="#00b2ff"/>
<rect x="933.94" y="684.5" width="11.05" height="3.2" fill="#80ff80"/>
<rect x="879.94" y="684.5" width="12" height="3.2" fill="#b30000"/>
<rect x="891.94" y="684.5" width="2.15" height="3.2" fill="#ff1a00"/>
<rect x="894.09" y="684.5" width="12" height="3.2" fill="#b30000"/>
<rect x="906.09" y="684.5" width="1.85" height="3.2" fill="#ff1a00"/>
<rect x="907.94" y="684.5" width="11.9" height="3.2" fill="#b30000"/>
<rect x="919.84" y="684.5" width="2.1" height="3.2" fill="#ff1a00"/>
<rect x="921.94" y="684.5" width="12" height="3.2" fill="#b30000"/>
<rect x="768.09" y="687.7" width="176.9" height="1.1" fill="#009eff"/>
<rect x="933.94" y="687.7" width="11.05" height="1.1" fill="#1affe5"/>
<rect x="879.94" y="687.7" width="12" height="1.1" fill="#ffe500"/>
<rect x="891.94" y="687.7" width="2.15" height="1.1" fill="#80ff80"/>
<rect x="894.09" y="687.7" width="12" height="1.1" fill="#ffe500"/>
<rect x="906.09" y="687.7" width="1.85" height="1.1" fill="#80ff80"/>
<rect x="907.94" y="687.7" width="11.9" height="1.1" fill="#ffe500"/>
<rect x="919.84" y="687.7" width="2.1" height="1.1" fill="#80ff80"/>
<rect x="921.94" y="687.7" width="12" height="1.1" fill="#ffe500"/>
<rect x="879.94" y="688.8" width="12" height="3.8" fill="#6bff94"/>
<rect x="891.94" y="688.8" width="2.15" height="3.8" fill="#0080ff"/>
<rect x="894.09" y="688.8" width="12" height="3.8" fill="#6bff94"/>
<rect x="906.09" y="688.8" width="1.85" height="3.8" fill="#0080ff"/>
<rect x="907.94" y="688.8" width="11.9" height="3.8" fill="#6bff94"/>
<rect x="919.84" y="688.8" width="2.1" height="3.8" fill="#0080ff"/>
<rect x="921.94" y="688.8" width="12" height="3.8" fill="#6bff94"/>
<rect x="879.94" y="692.6" width="12" height="6" fill="#80ff80"/>
<rect x="891.94" y="692.6" width="2.15" height="6" fill="#0080ff"/>
<rect x="894.09" y="692.6" width="12" height="6" fill="#80ff80"/>
<rect x="906.09" y="692.6" width="1.85" height="6" fill="#0080ff"/>
<rect x="907.94" y="692.6" width="11.9" height="6" fill="#80ff80"/>
<rect x="919.84" y="692.6" width="2.1" height="6" fill="#0080ff"/>
<rect x="921.94" y="692.6" width="12" height="6" fill="#80ff80"/>
<rect x="768.09" y="698.6" width="176.9" height="2.4" fill="#ffe500"/>
<rect x="933.94" y="698.6" width="11.05" height="2.4" fill="#e5ff1a"/>
<rect x="879.94" y="698.6" width="12" height="2.4" fill="#ffb300"/>
<rect x="891.94" y="698.6" width="2.15" height="2.4" fill="#ffdb00"/>
<rect x="894.09" y="698.6" width="12" height="2.4" fill="#ffb300"/>
<rect x="906.09" y="698.6" width="1.85" height="2.4" fill="#ffdb00"/>
<rect x="907.94" y="698.6" width="11.9" height="2.4" fill="#ffb300"/>
<rect x="919.84" y="698.6" width="2.1" height="2.4" fill="#ffdb00"/>
<rect x="921.94" y="698.6" width="12" height="2.4" fill="#ffb300"/>
<rect x="879.94" y="701" width="12" height="2" fill="#ff1a00"/>
<rect x="891.94" y="701" width="2.15" height="2" fill="#1affe5"/>
<rect x="894.09" y="701" width="12" height="2" fill="#ff8000"/>
<rect x="906.09" y="701" width="1.85" height="2" fill="#1affe5"/>
<rect x="907.94" y="701" width="11.9" height="2" fill="#ff9e00"/>
<rect x="919.84" y="701" width="2.1" height="2" fill="#1affe5"/>
<rect x="921.94" y="701" width="12" height="2" fill="#ff9e00"/>
<rect x="879.94" y="703" width="12" height="6.7" fill="#ff9e00"/>
<rect x="891.94" y="703" width="2.15" height="6.7" fill="#1affe5"/>
<rect x="894.09" y="703" width="12" height="6.7" fill="#ff9e00"/>
<rect x="906.09" y="703" width="1.85" height="6.7" fill="#1affe5"/>
<rect x="907.94" y="703" width="11.9" height="6.7" fill="#ff9e00"/>
<rect x="919.84" y="703" width="2.1" height="6.7" fill="#1affe5"/>
<rect x="921.94" y="703" width="12" height="6.7" fill="#ffc700"/>
<rect x="879.94" y="709.7" width="12" height="10.3" fill="#80ff80"/>
<rect x="891.94" y="709.7" width="2.15" height="10.3" fill="#0080ff"/>
<rect x="894.09" y="709.7" width="12" height="10.3" fill="#80ff80"/>
<rect x="906.09" y="709.7" width="1.85" height="10.3" fill="#0080ff"/>
<rect x="907.94" y="709.7" width="11.9" height="10.3" fill="#80ff80"/>
<rect x="919.84" y="709.7" width="2.1" height="10.3" fill="#0080ff"/>
<rect x="921.94" y="709.7" width="12" height="10.3" fill="#80ff80"/>
<rect x="768.09" y="183.00" width="176.90" height="9.50" fill="none" filter="url(#nzy)" opacity="1.00"/>
<rect x="768.09" y="183.00" width="176.90" height="9.50" fill="none" filter="url(#nzc)"/>
<rect x="768.09" y="197.30" width="176.90" height="4.10" fill="none" filter="url(#nzy)" opacity="1.00"/>
<rect x="768.09" y="197.30" width="176.90" height="4.10" fill="none" filter="url(#nzc)"/>
<rect x="904.84" y="255" width="33" height="9" fill="#bdff42"/>
<rect x="876.09" y="264" width="57.8" height="1" fill="#1affe5"/>
<rect x="780.24" y="183.2" width="1.2" height="2.8" fill="#e81000"/>
<rect x="780.24" y="189" width="1.2" height="2.6" fill="#e81000"/>
<rect x="780.24" y="197.3" width="1.2" height="2.6" fill="#e81000"/>
<rect x="779.24" y="199.6" width="3.2" height="1.7" fill="#e81000"/>
<rect x="780.34" y="178" width="1" height="3.5" fill="#ff6000"/>
<rect x="793.46" y="183.2" width="1.2" height="1.8" fill="#ff8a00"/>
<rect x="793.46" y="189" width="1.2" height="1.6" fill="#ff8a00"/>
<rect x="793.46" y="197.3" width="1.2" height="1.6" fill="#ff8a00"/>
<rect x="793.06" y="199.6" width="2" height="1.7" fill="#ff8a00"/>
<rect x="819.9" y="183.2" width="1.2" height="2.8" fill="#e81000"/>
<rect x="819.9" y="189" width="1.2" height="2.6" fill="#e81000"/>
<rect x="819.9" y="197.3" width="1.2" height="2.6" fill="#e81000"/>
<rect x="818.9" y="199.6" width="3.2" height="1.7" fill="#e81000"/>
<rect x="820" y="178" width="1" height="3.5" fill="#ff6000"/>
<rect x="833.12" y="183.2" width="1.2" height="1.8" fill="#ff8a00"/>
<rect x="833.12" y="189" width="1.2" height="1.6" fill="#ff8a00"/>
<rect x="833.12" y="197.3" width="1.2" height="1.6" fill="#ff8a00"/>
<rect x="832.72" y="199.6" width="2" height="1.7" fill="#ff8a00"/>
<rect x="846.34" y="183.2" width="1.2" height="1.8" fill="#ff8a00"/>
<rect x="846.34" y="189" width="1.2" height="1.6" fill="#ff8a00"/>
<rect x="846.34" y="197.3" width="1.2" height="1.6" fill="#ff8a00"/>
<rect x="845.94" y="199.6" width="2" height="1.7" fill="#ff8a00"/>
<rect x="859.56" y="183.2" width="1.2" height="2.8" fill="#e81000"/>
<rect x="859.56" y="189" width="1.2" height="2.6" fill="#e81000"/>
<rect x="859.56" y="197.3" width="1.2" height="2.6" fill="#e81000"/>
<rect x="858.56" y="199.6" width="3.2" height="1.7" fill="#e81000"/>
<rect x="859.66" y="178" width="1" height="3.5" fill="#ff6000"/>
<rect x="872.78" y="183.2" width="1.2" height="1.8" fill="#ff8a00"/>
<rect x="872.78" y="189" width="1.2" height="1.6" fill="#ff8a00"/>
<rect x="872.78" y="197.3" width="1.2" height="1.6" fill="#ff8a00"/>
<rect x="872.38" y="199.6" width="2" height="1.7" fill="#ff8a00"/>
<rect x="886" y="183.2" width="1.2" height="1.8" fill="#ff8a00"/>
<rect x="886" y="189" width="1.2" height="1.6" fill="#ff8a00"/>
<rect x="886" y="197.3" width="1.2" height="1.6" fill="#ff8a00"/>
<rect x="885.6" y="199.6" width="2" height="1.7" fill="#ff8a00"/>
<rect x="899.22" y="183.2" width="1.2" height="1.8" fill="#ff8a00"/>
<rect x="899.22" y="189" width="1.2" height="1.6" fill="#ff8a00"/>
<rect x="899.22" y="197.3" width="1.2" height="1.6" fill="#ff8a00"/>
<rect x="898.82" y="199.6" width="2" height="1.7" fill="#ff8a00"/>
<rect x="912.44" y="183.2" width="1.2" height="1.8" fill="#ff8a00"/>
<rect x="912.44" y="189" width="1.2" height="1.6" fill="#ff8a00"/>
<rect x="912.44" y="197.3" width="1.2" height="1.6" fill="#ff8a00"/>
<rect x="912.04" y="199.6" width="2" height="1.7" fill="#ff8a00"/>
<rect x="925.66" y="183.2" width="1.2" height="2.8" fill="#e81000"/>
<rect x="925.66" y="189" width="1.2" height="2.6" fill="#e81000"/>
<rect x="925.66" y="197.3" width="1.2" height="2.6" fill="#e81000"/>
<rect x="924.66" y="199.6" width="3.2" height="1.7" fill="#e81000"/>
<rect x="925.76" y="178" width="1" height="3.5" fill="#ff6000"/>
<rect x="938.88" y="183.2" width="1.2" height="1.8" fill="#ff8a00"/>
<rect x="938.88" y="189" width="1.2" height="1.6" fill="#ff8a00"/>
<rect x="938.88" y="197.3" width="1.2" height="1.6" fill="#ff8a00"/>
<rect x="938.48" y="199.6" width="2" height="1.7" fill="#ff8a00"/>
<rect x="788.49" y="178" width="64" height="4" fill="url(#hs)"/>
<rect x="819.49" y="183.2" width="2" height="9.3" fill="#e01000"/>
<rect x="819.49" y="197.3" width="2" height="4" fill="#e01000"/>
<rect x="921.09" y="178" width="24" height="1.2" fill="#ff7000" opacity="0.9"/>
<rect x="909.09" y="178" width="12" height="1.2" fill="#ffe000" opacity="0.8"/>
<ellipse cx="820.49" cy="206.5" rx="15" ry="4.5" fill="url(#hr)"/>
<rect x="819.49" y="204.2" width="2" height="7" fill="#f02000"/>
<rect x="818.99" y="212.3" width="3" height="1.2" fill="#40ffc0"/>
<rect x="860.59" y="205" width="1.4" height="1.2" fill="#ff3000"/>
<rect x="860.59" y="208" width="1.4" height="1.2" fill="#ff3000"/>
<rect x="860.59" y="211" width="1.4" height="1.2" fill="#ff3000"/>
<rect x="860.59" y="214" width="1.4" height="1.2" fill="#ff3000"/>
<rect x="860.59" y="217" width="1.4" height="1.2" fill="#ff3000"/>
<rect x="860.59" y="220" width="1.4" height="1.2" fill="#ff3000"/>
<rect x="860.59" y="220.8" width="1.4" height="1.5" fill="#ffd000"/>
<rect x="814.84" y="89.5" width="2" height="1.5" fill="#60ffa0"/>
<ellipse cx="815.84" cy="96" rx="6" ry="1.6" fill="url(#hr)"/>
<rect x="814.84" y="95.2" width="2" height="1.8" fill="#f01000"/>
<rect x="814.84" y="99" width="2" height="1" fill="#ffe000"/>
<rect x="814.84" y="105" width="2" height="2" fill="#ffd000"/>
<rect x="839.59" y="105.5" width="1.2" height="1.5" fill="#30ffd0"/>
<rect x="779.89" y="235" width="1.3" height="1" fill="#ff9000"/>
<rect x="779.89" y="239.2" width="1.3" height="0.9" fill="#e02000"/>
<rect x="779.89" y="241" width="1.3" height="2.5" fill="#ffe000"/>
<rect x="860.09" y="571.50" width="19.85" height="9.00" fill="url(#hz)" opacity="0.80"/>
<rect x="863.09" y="658.00" width="16.85" height="8.00" fill="url(#hz)" opacity="0.80"/>
<rect x="863.09" y="701.00" width="16.85" height="8.70" fill="url(#hz)" opacity="1.00"/>
<rect x="848.09" y="685" width="31.85" height="3.8" fill="url(#ho)"/>
<rect x="768.09" y="84" width="176.9" height="1" fill="#fff"/>
<rect x="768.09" y="85" width="176.9" height="2" fill="#000"/>
<rect x="768.09" y="91" width="176.9" height="2" fill="#000"/>
<rect x="768.09" y="94.2" width="176.9" height="0.8" fill="#fff"/>
<rect x="768.09" y="97.3" width="176.9" height="1.7" fill="#000"/>
<rect x="768.09" y="100" width="176.9" height="5" fill="#fff"/>
<rect x="768.09" y="107" width="176.9" height="8" fill="#000"/>
<rect x="768.09" y="115" width="176.9" height="1" fill="#fff"/>
<rect x="768.09" y="116" width="176.9" height="2" fill="#000"/>
<rect x="768.09" y="118" width="176.9" height="1" fill="#fff"/>
<rect x="768.09" y="119" width="176.9" height="1" fill="#000"/>
<rect x="768.09" y="120" width="176.9" height="1" fill="#fff"/>
<rect x="768.09" y="121" width="176.9" height="5" fill="#000"/>
<rect x="768.09" y="126" width="176.9" height="1" fill="#fff"/>
<rect x="768.09" y="127" width="176.9" height="2" fill="#000"/>
<rect x="768.09" y="129" width="176.9" height="5" fill="#fff"/>
<rect x="768.09" y="134" width="176.9" height="1" fill="#000"/>
<rect x="768.09" y="137" width="176.9" height="1" fill="#000"/>
<rect x="768.09" y="139" width="176.9" height="1" fill="#000"/>
<rect x="768.09" y="140" width="176.9" height="0.7" fill="#fff"/>
<rect x="768.09" y="140.7" width="176.9" height="0.5" fill="#000"/>
<rect x="768.09" y="142.4" width="176.9" height="1.9" fill="#fff"/>
<rect x="768.09" y="145.5" width="176.9" height="1" fill="#000"/>
<rect x="768.09" y="149" width="176.9" height="1" fill="#000"/>
<rect x="768.09" y="150" width="176.9" height="4" fill="#fff"/>
<rect x="768.09" y="158" width="176.9" height="1.2" fill="#000"/>
<rect x="768.09" y="159.2" width="176.9" height="7.8" fill="#fff"/>
<rect x="768.09" y="177" width="176.9" height="1" fill="#000"/>
<rect x="768.09" y="182" width="176.9" height="1.2" fill="#000"/>
<rect x="768.09" y="186.7" width="176.9" height="2.3" fill="#000"/>
<rect x="768.09" y="192.6" width="176.9" height="3.4" fill="#fff"/>
<rect x="768.09" y="201.3" width="176.9" height="1.2" fill="#000"/>
<rect x="768.09" y="202.8" width="176.9" height="1.2" fill="#fff"/>
<rect x="768.09" y="223.5" width="176.9" height="8.5" fill="#000"/>
<rect x="768.09" y="240" width="176.9" height="1" fill="#fff"/>
<rect x="768.09" y="243.5" width="176.9" height="5.5" fill="#fff"/>
<rect x="768.09" y="252" width="176.9" height="1" fill="#fff"/>
<rect x="768.09" y="275" width="176.9" height="1" fill="#000"/>
<rect x="768.09" y="283" width="176.9" height="5" fill="#000"/>
<rect x="768.09" y="289" width="176.9" height="1" fill="#fff"/>
<rect x="768.09" y="298" width="176.9" height="4" fill="#fff"/>
<rect x="768.09" y="323" width="176.9" height="1" fill="#fff"/>
<rect x="768.09" y="330" width="176.9" height="1" fill="#fff"/>
<rect x="768.09" y="345" width="176.9" height="1" fill="#fff"/>
<rect x="768.09" y="357" width="176.9" height="4" fill="#fff"/>
<rect x="768.09" y="361" width="176.9" height="1" fill="#000"/>
<rect x="768.09" y="364" width="176.9" height="1" fill="#fff"/>
<rect x="768.09" y="384" width="176.9" height="1" fill="#fff"/>
<rect x="768.09" y="386" width="176.9" height="1" fill="#fff"/>
<rect x="768.09" y="408" width="176.9" height="1" fill="#fff"/>
<rect x="768.09" y="412" width="176.9" height="2" fill="#fff"/>
<rect x="768.09" y="415.5" width="176.9" height="2" fill="#000"/>
<rect x="768.09" y="445" width="176.9" height="1" fill="#fff"/>
<rect x="768.09" y="449" width="176.9" height="1" fill="#fff"/>
<rect x="768.09" y="466" width="176.9" height="2" fill="#fff"/>
<rect x="768.09" y="468" width="176.9" height="1" fill="#000"/>
<rect x="768.09" y="471" width="176.9" height="1" fill="#000"/>
<rect x="768.09" y="475.5" width="176.9" height="1" fill="#000"/>
<rect x="768.09" y="478" width="176.9" height="1" fill="#fff"/>
<rect x="768.09" y="483" width="176.9" height="1" fill="#000"/>
<rect x="768.09" y="488.5" width="176.9" height="3.5" fill="#000"/>
<rect x="768.09" y="495" width="176.9" height="1" fill="#fff"/>
<rect x="768.09" y="497" width="176.9" height="1" fill="#000"/>
<rect x="768.09" y="500" width="176.9" height="1" fill="#000"/>
<rect x="768.09" y="502" width="176.9" height="1" fill="#000"/>
<rect x="768.09" y="505" width="176.9" height="1" fill="#000"/>
<rect x="768.09" y="507" width="176.9" height="1" fill="#000"/>
<rect x="768.09" y="510" width="176.9" height="1" fill="#000"/>
<rect x="768.09" y="512" width="176.9" height="1" fill="#000"/>
<rect x="768.09" y="515" width="176.9" height="1" fill="#000"/>
<rect x="768.09" y="517" width="176.9" height="1" fill="#fff"/>
<rect x="768.09" y="520" width="176.9" height="1.7" fill="#000"/>
<rect x="768.09" y="522" width="176.9" height="1" fill="#fff"/>
<rect x="768.09" y="533" width="176.9" height="1" fill="#fff"/>
<rect x="768.09" y="546" width="176.9" height="1" fill="#000"/>
<rect x="768.09" y="547" width="176.9" height="1.3" fill="#fff"/>
<rect x="768.09" y="550.3" width="176.9" height="1" fill="#000"/>
<rect x="768.09" y="552" width="176.9" height="1" fill="#000"/>
<rect x="768.09" y="556.8" width="176.9" height="1.2" fill="#fff"/>
<rect x="768.09" y="563" width="176.9" height="1.2" fill="#fff"/>
<rect x="768.09" y="566.8" width="176.9" height="1.2" fill="#000"/>
<rect x="768.09" y="580.8" width="176.9" height="1.2" fill="#000"/>
<rect x="768.09" y="590" width="176.9" height="1" fill="#fff"/>
<rect x="768.09" y="595" width="176.9" height="2" fill="#fff"/>
<rect x="768.09" y="600" width="176.9" height="1" fill="#fff"/>
<rect x="768.09" y="621" width="176.9" height="2" fill="#000"/>
<rect x="768.09" y="625" width="176.9" height="1" fill="#fff"/>
<rect x="768.09" y="629" width="176.9" height="1" fill="#000"/>
<rect x="768.09" y="633" width="176.9" height="1" fill="#000"/>
<rect x="768.09" y="637" width="176.9" height="1.6" fill="#000"/>
<rect x="768.09" y="639" width="176.9" height="1.3" fill="#fff"/>
<rect x="768.09" y="640.6" width="176.9" height="1.1" fill="#000"/>
<rect x="768.09" y="651" width="176.9" height="1.3" fill="#fff"/>
<rect x="768.09" y="655" width="176.9" height="2.8" fill="#000"/>
<rect x="768.09" y="666" width="176.9" height="2" fill="#000"/>
<rect x="768.09" y="672" width="176.9" height="2" fill="#fff"/>
<rect x="768.09" y="674" width="176.9" height="3" fill="#000"/>
<rect x="768.09" y="679" width="176.9" height="2" fill="#fff"/>
<rect x="768.09" y="689" width="176.9" height="1" fill="#000"/>
<rect x="768.09" y="692.6" width="176.9" height="2.4" fill="#fff"/>
<rect x="768.09" y="697" width="176.9" height="1.7" fill="#000"/>
<rect x="768.09" y="709.7" width="176.9" height="1.3" fill="#000"/>
<rect x="768.09" y="713.5" width="176.9" height="1.3" fill="#000"/>
<rect x="768.09" y="714.8" width="176.9" height="5.2" fill="#fff"/>
<rect x="809.49" y="176.6" width="22" height="1.4" fill="url(#hs)"/>
<rect x="816.49" y="175.6" width="8" height="1" fill="#a0ff60"/>
<rect x="819.49" y="175.6" width="2" height="6.4" fill="#b80000"/>
<rect x="768.09" y="80" width="176.90" height="640" fill="none" stroke="#000" stroke-width="1"/>
<line x1="768.09" y1="720" x2="768.09" y2="714.5" stroke="#000" stroke-width="1"/>
<line x1="768.09" y1="80" x2="768.09" y2="85.5" stroke="#000" stroke-width="1"/>
<line x1="809.68" y1="720" x2="809.68" y2="714.5" stroke="#000" stroke-width="1"/>
<line x1="809.68" y1="80" x2="809.68" y2="85.5" stroke="#000" stroke-width="1"/>
<line x1="851.27" y1="720" x2="851.27" y2="714.5" stroke="#000" stroke-width="1"/>
<line x1="851.27" y1="80" x2="851.27" y2="85.5" stroke="#000" stroke-width="1"/>
<line x1="892.86" y1="720" x2="892.86" y2="714.5" stroke="#000" stroke-width="1"/>
<line x1="892.86" y1="80" x2="892.86" y2="85.5" stroke="#000" stroke-width="1"/>
<line x1="934.45" y1="720" x2="934.45" y2="714.5" stroke="#000" stroke-width="1"/>
<line x1="934.45" y1="80" x2="934.45" y2="85.5" stroke="#000" stroke-width="1"/>
<line x1="768.09" y1="720.00" x2="773.59" y2="720.00" stroke="#000" stroke-width="1"/>
<line x1="944.99" y1="720.00" x2="939.49" y2="720.00" stroke="#000" stroke-width="1"/>
<line x1="768.09" y1="586.67" x2="773.59" y2="586.67" stroke="#000" stroke-width="1"/>
<line x1="944.99" y1="586.67" x2="939.49" y2="586.67" stroke="#000" stroke-width="1"/>
<line x1="768.09" y1="453.33" x2="773.59" y2="453.33" stroke="#000" stroke-width="1"/>
<line x1="944.99" y1="453.33" x2="939.49" y2="453.33" stroke="#000" stroke-width="1"/>
<line x1="768.09" y1="320.00" x2="773.59" y2="320.00" stroke="#000" stroke-width="1"/>
<line x1="944.99" y1="320.00" x2="939.49" y2="320.00" stroke="#000" stroke-width="1"/>
<line x1="768.09" y1="186.67" x2="773.59" y2="186.67" stroke="#000" stroke-width="1"/>
<line x1="944.99" y1="186.67" x2="939.49" y2="186.67" stroke="#000" stroke-width="1"/>
</g>
<text class="t14" x="856.54" y="72.6" text-anchor="middle">YX, V5*V11=EA08*EA14</text>
<text class="tk" x="768.49" y="735.7" text-anchor="middle">320</text>
<text class="tk" x="810.08" y="735.7" text-anchor="middle">335</text>
<text class="tk" x="851.67" y="735.7" text-anchor="middle">350</text>
<text class="tk" x="893.26" y="735.7" text-anchor="middle">365</text>
<text class="tk" x="934.85" y="735.7" text-anchor="middle">380</text>
<text class="tk" x="763.59" y="723.00" text-anchor="end">0</text>
<text class="tk" x="763.59" y="589.67" text-anchor="end">5</text>
<text class="tk" x="763.59" y="456.33" text-anchor="end">10</text>
<text class="tk" x="763.59" y="323.00" text-anchor="end">15</text>
<text class="tk" x="763.59" y="189.67" text-anchor="end">20</text>
<text class="t12" x="525" y="26">2019-02-22 0.0-24.0</text>
<text class="t12" x="483" y="755" text-anchor="middle">frequency (MHz)</text>
<text class="t12" transform="translate(101,400) rotate(-90)" text-anchor="middle">UT (hours)</text>
<text class="t12" transform="translate(985,400.5) rotate(-90)" text-anchor="middle">log<tspan font-size="6.6px" dy="2.6">10</tspan><tspan dy="-2.6"> amplitude</tspan></text>
<g shape-rendering="crispEdges">
<rect x="1019.5" y="160.5" width="15" height="480" fill="url(#cb)" stroke="#000" stroke-width="1"/>
<line x1="1019.5" y1="160" x2="1025.5" y2="160" stroke="#000"/>
<line x1="1034.5" y1="160" x2="1028.5" y2="160" stroke="#000"/>
<line x1="1019.5" y1="256" x2="1025.5" y2="256" stroke="#000"/>
<line x1="1034.5" y1="256" x2="1028.5" y2="256" stroke="#000"/>
<line x1="1019.5" y1="352" x2="1025.5" y2="352" stroke="#000"/>
<line x1="1034.5" y1="352" x2="1028.5" y2="352" stroke="#000"/>
<line x1="1019.5" y1="448" x2="1025.5" y2="448" stroke="#000"/>
<line x1="1034.5" y1="448" x2="1028.5" y2="448" stroke="#000"/>
<line x1="1019.5" y1="544" x2="1025.5" y2="544" stroke="#000"/>
<line x1="1034.5" y1="544" x2="1028.5" y2="544" stroke="#000"/>
<line x1="1019.5" y1="640" x2="1025.5" y2="640" stroke="#000"/>
<line x1="1034.5" y1="640" x2="1028.5" y2="640" stroke="#000"/>
<line x1="1022.50" y1="160" x2="1022.50" y2="166" stroke="#000"/>
<line x1="1022.50" y1="640" x2="1022.50" y2="634" stroke="#000"/>
<line x1="1025.50" y1="160" x2="1025.50" y2="166" stroke="#000"/>
<line x1="1025.50" y1="640" x2="1025.50" y2="634" stroke="#000"/>
<line x1="1028.50" y1="160" x2="1028.50" y2="166" stroke="#000"/>
<line x1="1028.50" y1="640" x2="1028.50" y2="634" stroke="#000"/>
<line x1="1031.50" y1="160" x2="1031.50" y2="166" stroke="#000"/>
<line x1="1031.50" y1="640" x2="1031.50" y2="634" stroke="#000"/>
</g>
<text class="t10" x="1013.5" y="163.0" text-anchor="end">1</text>
<text class="t10" x="1013.5" y="259.0" text-anchor="end">0</text>
<text class="t10" x="1013.5" y="355.0" text-anchor="end">−1</text>
<text class="t10" x="1013.5" y="451.0" text-anchor="end">−2</text>
<text class="t10" x="1013.5" y="547.0" text-anchor="end">−3</text>
<text class="t10" x="1013.5" y="643.0" text-anchor="end">−4</text>
<rect x="1017.00" y="646" width="1" height="1" fill="#999"/>
<rect x="1020.15" y="646" width="1" height="1" fill="#999"/>
<rect x="1023.30" y="646" width="1" height="1" fill="#999"/>
<rect x="1026.45" y="646" width="1" height="1" fill="#999"/>
<rect x="1029.60" y="646" width="1" height="1" fill="#999"/>
<rect x="1032.75" y="646" width="1" height="1" fill="#999"/>
</svg></body></html>
